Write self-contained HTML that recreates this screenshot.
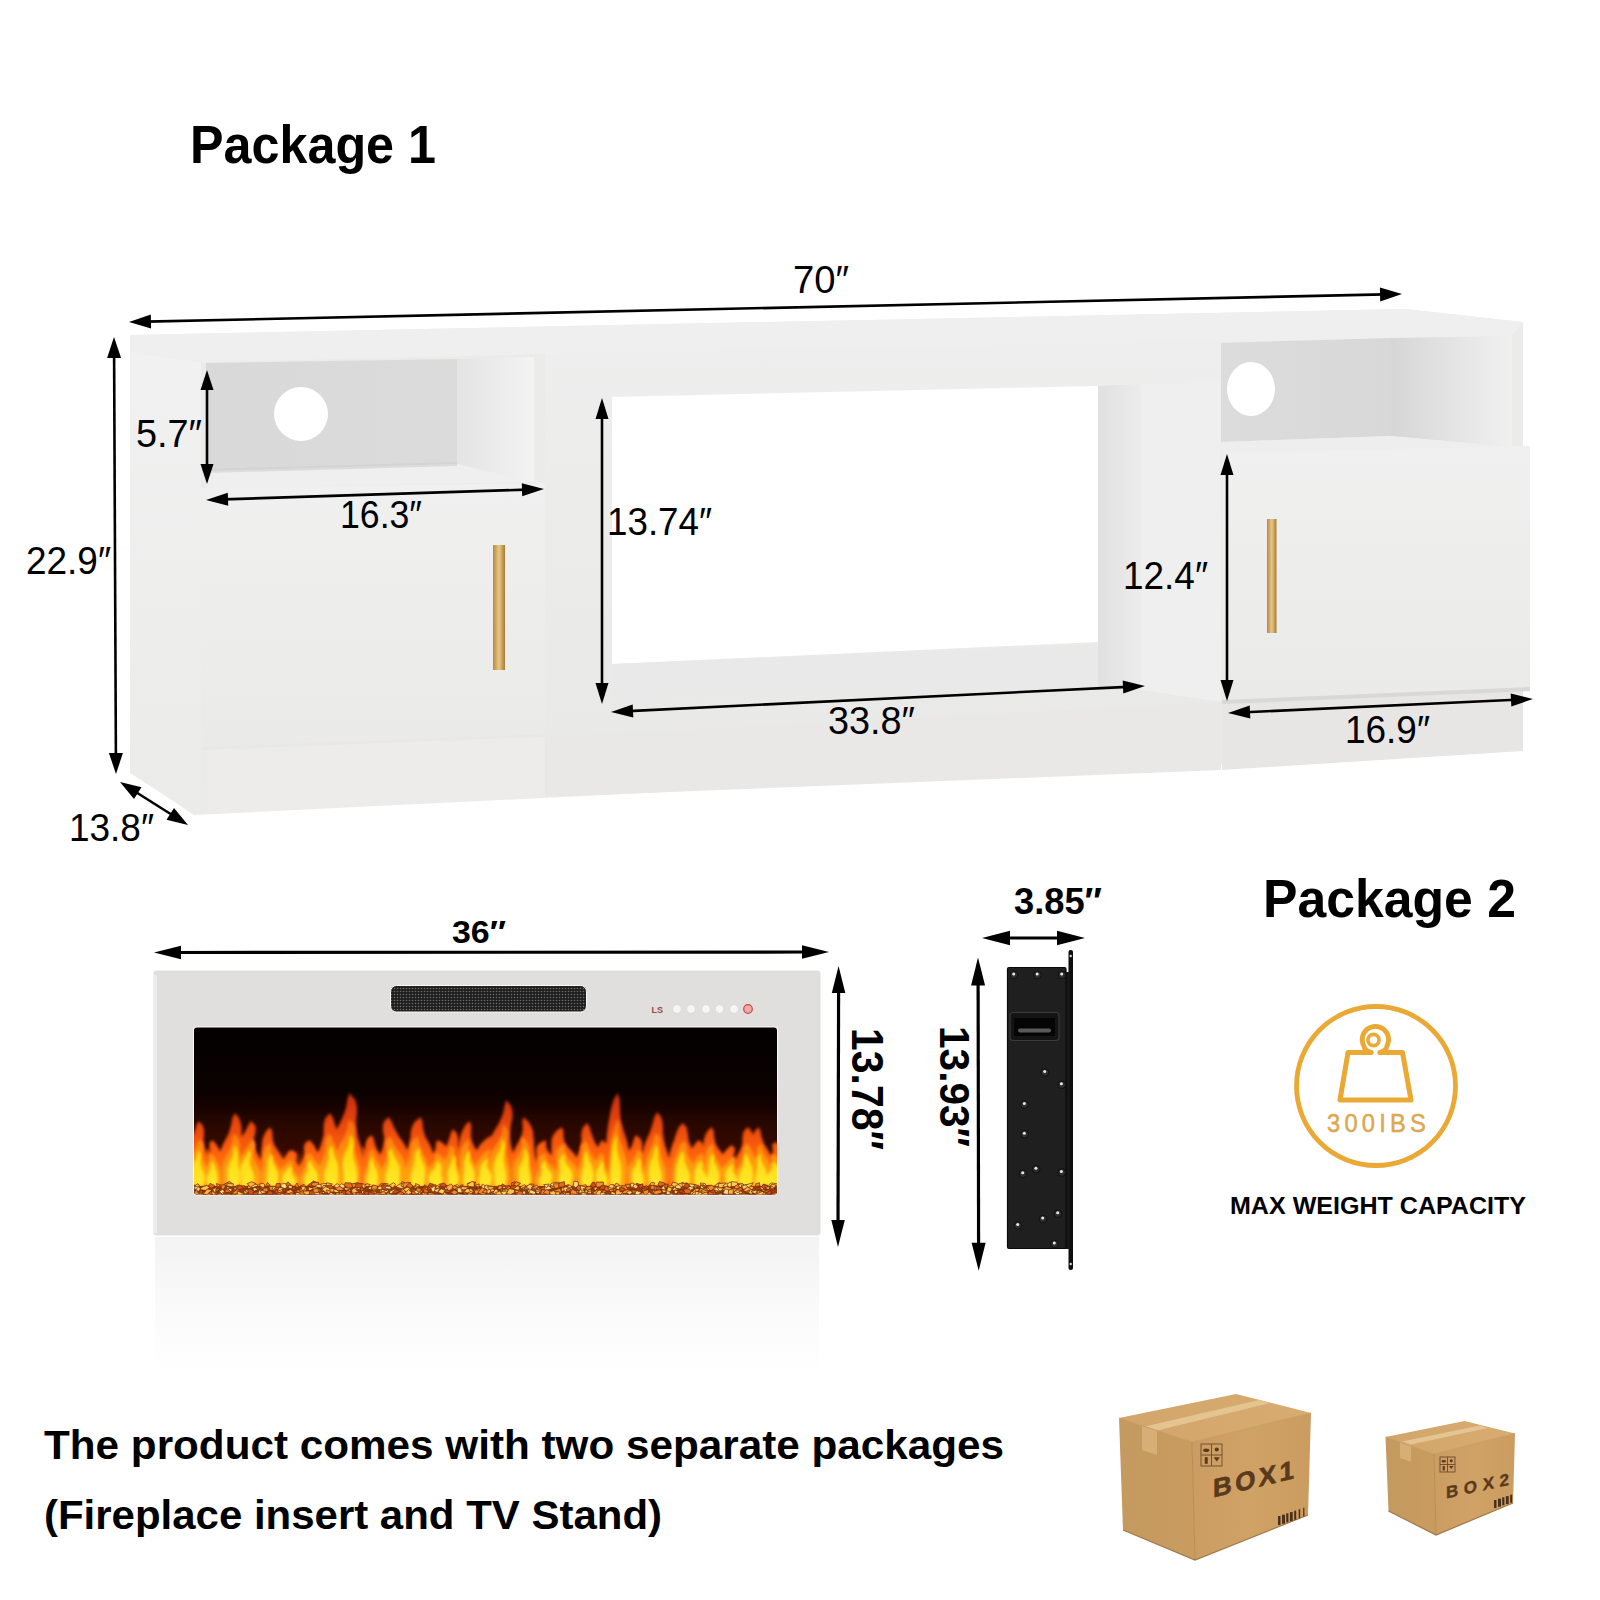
<!DOCTYPE html><html><head><meta charset="utf-8"><style>html,body{margin:0;padding:0;background:#fff;width:1600px;height:1600px;overflow:hidden;}svg{display:block}</style></head><body>
<svg width="1600" height="1600" viewBox="0 0 1600 1600">
<defs>
<linearGradient id="glass" x1="0" y1="0" x2="0" y2="1">
<stop offset="0" stop-color="#020000"/><stop offset="0.4" stop-color="#0c0201"/><stop offset="0.7" stop-color="#260802"/><stop offset="1" stop-color="#3a0e03"/></linearGradient>
<linearGradient id="flameOuter" gradientUnits="userSpaceOnUse" x1="0" y1="1090" x2="0" y2="1186">
<stop offset="0" stop-color="#c02a08"/><stop offset="0.35" stop-color="#e8460a"/><stop offset="0.7" stop-color="#ff6410"/><stop offset="1" stop-color="#ff8414"/></linearGradient>
<linearGradient id="flameMid" gradientUnits="userSpaceOnUse" x1="0" y1="1105" x2="0" y2="1186">
<stop offset="0" stop-color="#f05a08"/><stop offset="0.5" stop-color="#ff8a08"/><stop offset="1" stop-color="#ffaa10"/></linearGradient>
<linearGradient id="baseFill" x1="0" y1="0" x2="0" y2="1"><stop offset="0" stop-color="#e04008" stop-opacity="0"/><stop offset="0.6" stop-color="#f05a0a" stop-opacity="0.8"/><stop offset="1" stop-color="#ff7a12"/></linearGradient>
<linearGradient id="boxTop" x1="0" y1="0" x2="1" y2="0"><stop offset="0" stop-color="#d2a66a"/><stop offset="1" stop-color="#d8ac70"/></linearGradient>
<linearGradient id="boxLeft" x1="0" y1="0" x2="1" y2="0"><stop offset="0" stop-color="#c49a60"/><stop offset="1" stop-color="#c99b5f"/></linearGradient>
<linearGradient id="boxFront" x1="0" y1="0" x2="1" y2="0"><stop offset="0" stop-color="#cc9d62"/><stop offset="0.5" stop-color="#d0a266"/><stop offset="1" stop-color="#cb9c60"/></linearGradient>
<filter id="blurBig" x="-20%" y="-50%" width="140%" height="200%"><feGaussianBlur stdDeviation="14"/></filter>
<linearGradient id="flameG" gradientUnits="userSpaceOnUse" x1="0" y1="1090" x2="0" y2="1190">
<stop offset="0" stop-color="#c42a05"/><stop offset="0.3" stop-color="#ff5a08"/><stop offset="0.6" stop-color="#ffa010"/><stop offset="1" stop-color="#ffd21a"/></linearGradient>
<linearGradient id="flameCore" gradientUnits="userSpaceOnUse" x1="0" y1="1100" x2="0" y2="1190">
<stop offset="0" stop-color="#ffb800"/><stop offset="0.5" stop-color="#ffd800"/><stop offset="1" stop-color="#ffe830"/></linearGradient>
<linearGradient id="gold" x1="0" y1="0" x2="1" y2="0"><stop offset="0" stop-color="#b8893f"/><stop offset="0.5" stop-color="#e8c887"/><stop offset="1" stop-color="#a87a35"/></linearGradient>
<linearGradient id="refl" x1="0" y1="0" x2="0" y2="1"><stop offset="0" stop-color="#f3f3f3"/><stop offset="0.45" stop-color="#f9f9f9"/><stop offset="1" stop-color="#ffffff"/></linearGradient>
<linearGradient id="cubbyL" x1="0" y1="0" x2="1" y2="0"><stop offset="0" stop-color="#d9d9d9"/><stop offset="1" stop-color="#dbdbdb"/></linearGradient>
<linearGradient id="cubbyR" x1="0" y1="0" x2="1" y2="0"><stop offset="0" stop-color="#dcdcdc"/><stop offset="1" stop-color="#d8d8d8"/></linearGradient>
<linearGradient id="sideL" x1="0" y1="0" x2="1" y2="0"><stop offset="0" stop-color="#e4e4e4"/><stop offset="1" stop-color="#f3f3f3"/></linearGradient>
<linearGradient id="sideRC" x1="0" y1="0" x2="1" y2="0"><stop offset="0" stop-color="#d6d6d6"/><stop offset="0.6" stop-color="#e6e6e6"/><stop offset="1" stop-color="#f0f0f0"/></linearGradient>
<linearGradient id="sideR" x1="0" y1="0" x2="1" y2="0"><stop offset="0" stop-color="#e0e0e0"/><stop offset="1" stop-color="#ececec"/></linearGradient>
<linearGradient id="doorG" x1="0" y1="0" x2="0" y2="1"><stop offset="0" stop-color="#f0f0f0"/><stop offset="1" stop-color="#eaeae8"/></linearGradient>
<linearGradient id="sideP" x1="0" y1="0" x2="0" y2="1"><stop offset="0" stop-color="#f1f1f1"/><stop offset="1" stop-color="#ebebea"/></linearGradient>
<linearGradient id="frameG" x1="0" y1="0" x2="0" y2="1"><stop offset="0" stop-color="#eeeeee"/><stop offset="1" stop-color="#e9e9e7"/></linearGradient>
<filter id="blur1" x="-20%" y="-20%" width="140%" height="140%"><feGaussianBlur stdDeviation="1.8"/></filter>
<filter id="blur2" x="-20%" y="-20%" width="140%" height="140%"><feGaussianBlur stdDeviation="0.7"/></filter>
<pattern id="mesh" width="3" height="3" patternUnits="userSpaceOnUse"><rect width="3" height="3" fill="#1e1e1e"/><circle cx="1.5" cy="1.5" r="0.8" fill="#6a6a6a"/></pattern>

</defs>
<text x="190" y="162.6" font-family="Liberation Sans" font-size="53" font-weight="bold" fill="#000" textLength="246" lengthAdjust="spacingAndGlyphs" >Package 1</text>
<g><polygon points="132,335 1405,309 1523,322 1523,750 194,815 132,773" fill="#ebebea" /><polygon points="130,335 1405,309 1523,322 1512,336 1221,342 548,354 206,362 130,352" fill="#efefef" /><polygon points="130,352 201,362 201,814 194,814 130,773" fill="url(#sideP)" /><polygon points="206,363 457,359 457,464 206,471" fill="url(#cubbyL)" /><polygon points="457,359 534,357 534,482 457,464" fill="url(#sideL)" /><polygon points="206,471 457,464 534,482 206,488" fill="#efefef" /><polygon points="206,469 457,462 457,466 206,473" fill="#cfcfcf" opacity="0.6"/><polygon points="201,488 545,483 545,734 201,747" fill="url(#doorG)" /><polygon points="201,747 545,734 545,737 201,750" fill="#e8e8e8" /><rect x="493" y="545" width="12" height="125" fill="url(#gold)"/><polygon points="207,750 545,737 545,797 207,813" fill="#edecea" /><polygon points="545,354 1221,341 1221,702 545,737" fill="url(#frameG)" /><polygon points="612,397 1098,386 1098,642 612,664" fill="#ffffff" /><polygon points="612,664 1098,645 1098,690 612,700" fill="#e9e9e9" /><polygon points="1098,386 1141,384 1141,690 1098,690" fill="url(#sideR)" /><polygon points="1141,384 1221,382 1221,702 1141,690" fill="#efefef" /><polygon points="545,737 1221,702 1221,770 545,797" fill="#e9e8e6" /><polygon points="1221,343 1391,338 1391,436 1221,442" fill="url(#cubbyR)" /><polygon points="1391,338 1512,336 1512,447 1391,436" fill="url(#sideRC)" /><polygon points="1221,442 1391,436 1512,447 1221,453" fill="#eeeeee" /><polygon points="1222,453 1530,446 1530,689 1222,702" fill="url(#doorG)" /><rect x="1267" y="519" width="9.5" height="114" fill="url(#gold)"/><polygon points="1222,702 1523,689 1523,751 1222,770" fill="#e7e6e4" /><polygon points="1222,700 1530,687 1530,691 1222,704" fill="#d8d8d8" /><ellipse cx="301" cy="414" rx="27" ry="27" fill="#ffffff"/><ellipse cx="1251" cy="389" rx="24" ry="27" fill="#ffffff"/></g>
<line x1="146.6" y1="321.6" x2="1384.4" y2="294.4" stroke="#000" stroke-width="2.6"/><polygon points="129.0,322.0 151.1,328.5 150.8,314.5" fill="#000"/><polygon points="1402.0,294.0 1380.2,301.5 1379.9,287.5" fill="#000"/>
<line x1="114.1" y1="353.8" x2="115.9" y2="757.2" stroke="#000" stroke-width="2.6"/><polygon points="114.0,337.0 107.1,358.0 121.1,358.0" fill="#000"/><polygon points="116.0,774.0 108.9,753.0 122.9,753.0" fill="#000"/>
<line x1="207.0" y1="386.0" x2="207.0" y2="468.0" stroke="#000" stroke-width="2.6"/><polygon points="207.0,370.0 200.5,390.0 213.5,390.0" fill="#000"/><polygon points="207.0,484.0 200.5,464.0 213.5,464.0" fill="#000"/>
<line x1="223.6" y1="499.4" x2="526.4" y2="489.6" stroke="#000" stroke-width="2.6"/><polygon points="206.0,500.0 228.2,505.8 227.8,492.8" fill="#000"/><polygon points="544.0,489.0 522.2,496.2 521.8,483.2" fill="#000"/>
<line x1="602.0" y1="414.8" x2="602.0" y2="687.2" stroke="#000" stroke-width="2.6"/><polygon points="602.0,398.0 595.5,419.0 608.5,419.0" fill="#000"/><polygon points="602.0,704.0 595.5,683.0 608.5,683.0" fill="#000"/>
<line x1="628.6" y1="711.1" x2="1127.4" y2="686.9" stroke="#000" stroke-width="2.6"/><polygon points="611.0,712.0 633.3,717.4 632.7,704.4" fill="#000"/><polygon points="1145.0,686.0 1123.3,693.6 1122.7,680.6" fill="#000"/>
<line x1="1227.0" y1="470.8" x2="1227.0" y2="684.2" stroke="#000" stroke-width="2.6"/><polygon points="1227.0,454.0 1220.5,475.0 1233.5,475.0" fill="#000"/><polygon points="1227.0,701.0 1220.5,680.0 1233.5,680.0" fill="#000"/>
<line x1="1245.6" y1="712.2" x2="1515.4" y2="699.8" stroke="#000" stroke-width="2.6"/><polygon points="1228.0,713.0 1250.3,718.5 1249.7,705.5" fill="#000"/><polygon points="1533.0,699.0 1511.3,706.5 1510.7,693.5" fill="#000"/>
<line x1="134.2" y1="791.0" x2="173.8" y2="816.0" stroke="#000" stroke-width="2.6"/><polygon points="120.0,782.0 134.0,799.1 141.5,787.3" fill="#000"/><polygon points="188.0,825.0 166.5,819.7 174.0,807.9" fill="#000"/>
<text x="793" y="292.5" font-family="Liberation Sans" font-size="38" font-weight="normal" fill="#000" textLength="56" lengthAdjust="spacingAndGlyphs" >70&#8243;</text>
<text x="136" y="446.5" font-family="Liberation Sans" font-size="38" font-weight="normal" fill="#000" textLength="66" lengthAdjust="spacingAndGlyphs" >5.7&#8243;</text>
<text x="26" y="573.5" font-family="Liberation Sans" font-size="38" font-weight="normal" fill="#000" textLength="85" lengthAdjust="spacingAndGlyphs" >22.9&#8243;</text>
<text x="340" y="528" font-family="Liberation Sans" font-size="38" font-weight="normal" fill="#000" textLength="82" lengthAdjust="spacingAndGlyphs" >16.3&#8243;</text>
<text x="607" y="535" font-family="Liberation Sans" font-size="38" font-weight="normal" fill="#000" textLength="105" lengthAdjust="spacingAndGlyphs" >13.74&#8243;</text>
<text x="1123" y="589" font-family="Liberation Sans" font-size="38" font-weight="normal" fill="#000" textLength="85" lengthAdjust="spacingAndGlyphs" >12.4&#8243;</text>
<text x="828" y="734.4" font-family="Liberation Sans" font-size="38" font-weight="normal" fill="#000" textLength="87" lengthAdjust="spacingAndGlyphs" >33.8&#8243;</text>
<text x="1345" y="742.5" font-family="Liberation Sans" font-size="38" font-weight="normal" fill="#000" textLength="85" lengthAdjust="spacingAndGlyphs" >16.9&#8243;</text>
<text x="69" y="841" font-family="Liberation Sans" font-size="38" font-weight="normal" fill="#000" textLength="85" lengthAdjust="spacingAndGlyphs" >13.8&#8243;</text>
<g><rect x="155" y="1237" width="664" height="135" fill="url(#refl)"/><rect x="153.5" y="970.5" width="667" height="265" rx="3" fill="#e0dfdd"/><rect x="154" y="975" width="3" height="258" fill="#ececec"/><rect x="390.5" y="985.5" width="196" height="26.5" rx="6" fill="url(#mesh)" stroke="#f8f8f8" stroke-width="1"/><text x="651.5" y="1012.5" font-family="Liberation Sans" font-size="9" font-weight="bold" fill="#9a4a4a">LS</text><circle cx="677" cy="1009" r="4.3" fill="#f6f6f6" stroke="#d8d8d8" stroke-width="0.8"/><circle cx="691" cy="1009" r="4.3" fill="#f6f6f6" stroke="#d8d8d8" stroke-width="0.8"/><circle cx="706" cy="1009" r="4.3" fill="#f6f6f6" stroke="#d8d8d8" stroke-width="0.8"/><circle cx="719.6" cy="1009" r="4.3" fill="#f6f6f6" stroke="#d8d8d8" stroke-width="0.8"/><circle cx="734" cy="1009" r="4.3" fill="#f6f6f6" stroke="#d8d8d8" stroke-width="0.8"/><circle cx="748" cy="1009" r="4.3" fill="#f0a8a8" stroke="#c84848" stroke-width="1.2"/><rect x="193" y="1026.5" width="585" height="169" rx="4" fill="#fafafa"/><rect x="194" y="1027.5" width="583" height="167" rx="3" fill="url(#glass)"/></g>
<clipPath id="gclip"><rect x="194" y="1027.5" width="583" height="167" rx="3"/></clipPath><g clip-path="url(#gclip)"><rect x="180" y="1115" width="610" height="85" fill="#4a1004" opacity="0.4" filter="url(#blurBig)"/><rect x="190" y="1150" width="590" height="40" fill="url(#baseFill)" filter="url(#blur1)"/><path d="M304.6,1186.0 L304.0,1183.1 L303.7,1180.2 L303.7,1177.2 L304.1,1174.3 L304.6,1171.4 L305.1,1168.5 L305.5,1165.6 L305.8,1162.6 L306.2,1159.7 L306.8,1156.8 L307.4,1153.9 L308.7,1151.0 L310.6,1148.0 L313.7,1145.1 L313.7,1145.1 L314.0,1148.0 L313.3,1151.0 L312.9,1153.9 L313.0,1156.8 L314.0,1159.7 L315.3,1162.6 L316.4,1165.6 L317.2,1168.5 L317.6,1171.4 L317.5,1174.3 L317.1,1177.2 L316.6,1180.2 L316.1,1183.1 L315.6,1186.0Z M468.2,1186.0 L467.4,1183.9 L466.8,1181.8 L466.6,1179.6 L466.7,1177.5 L467.2,1175.4 L467.9,1173.3 L468.6,1171.2 L469.0,1169.0 L469.1,1166.9 L468.9,1164.8 L468.3,1162.7 L468.1,1160.6 L468.6,1158.4 L470.8,1156.3 L470.8,1156.3 L472.2,1158.4 L473.0,1160.6 L474.2,1162.7 L475.7,1164.8 L477.6,1166.9 L479.2,1169.0 L480.3,1171.2 L480.9,1173.3 L481.2,1175.4 L481.1,1177.5 L480.9,1179.6 L480.7,1181.8 L480.4,1183.9 L480.0,1186.0Z M717.9,1186.0 L717.4,1184.1 L717.1,1182.2 L716.8,1180.3 L716.5,1178.4 L716.3,1176.6 L716.4,1174.7 L717.0,1172.8 L718.1,1170.9 L719.5,1169.0 L721.1,1167.1 L722.2,1165.2 L722.8,1163.3 L723.1,1161.4 L723.9,1159.6 L723.9,1159.6 L726.6,1161.4 L727.7,1163.3 L728.0,1165.2 L727.7,1167.1 L727.8,1169.0 L728.0,1170.9 L728.5,1172.8 L729.2,1174.7 L730.0,1176.6 L730.6,1178.4 L730.8,1180.3 L730.7,1182.2 L730.2,1184.1 L729.5,1186.0Z M647.8,1186.0 L647.2,1183.3 L646.7,1180.6 L646.3,1177.9 L646.2,1175.2 L646.5,1172.5 L647.4,1169.8 L648.7,1167.2 L650.3,1164.5 L651.9,1161.8 L653.1,1159.1 L653.4,1156.4 L653.4,1153.7 L653.4,1151.0 L654.7,1148.3 L654.7,1148.3 L657.0,1151.0 L658.3,1153.7 L659.3,1156.4 L659.9,1159.1 L660.4,1161.8 L660.5,1164.5 L660.5,1167.2 L660.4,1169.8 L660.4,1172.5 L660.6,1175.2 L660.7,1177.9 L660.6,1180.6 L660.2,1183.3 L659.6,1186.0Z M423.1,1186.0 L422.6,1184.4 L422.3,1182.8 L422.0,1181.2 L421.7,1179.6 L421.4,1178.0 L421.4,1176.4 L421.6,1174.8 L422.4,1173.2 L423.5,1171.6 L425.0,1170.0 L425.9,1168.5 L426.7,1166.9 L427.0,1165.3 L427.8,1163.7 L427.8,1163.7 L430.5,1165.3 L431.4,1166.9 L431.7,1168.5 L431.5,1170.0 L431.7,1171.6 L432.2,1173.2 L433.0,1174.8 L434.0,1176.4 L434.9,1178.0 L435.7,1179.6 L435.9,1181.2 L435.8,1182.8 L435.2,1184.4 L434.5,1186.0Z M277.7,1186.0 L277.0,1184.3 L276.6,1182.7 L276.5,1181.0 L276.8,1179.3 L277.1,1177.7 L277.4,1176.0 L277.6,1174.3 L277.6,1172.6 L277.6,1171.0 L277.8,1169.3 L277.9,1167.6 L278.7,1166.0 L280.0,1164.3 L282.6,1162.6 L282.6,1162.6 L283.6,1164.3 L283.6,1166.0 L283.9,1167.6 L284.6,1169.3 L286.1,1171.0 L287.8,1172.6 L289.4,1174.3 L290.5,1176.0 L291.1,1177.7 L291.2,1179.3 L291.0,1181.0 L290.5,1182.7 L290.1,1184.3 L289.6,1186.0Z M759.7,1186.0 L759.4,1183.9 L759.2,1181.8 L759.0,1179.7 L758.7,1177.6 L758.5,1175.4 L758.5,1173.3 L758.9,1171.2 L759.7,1169.1 L760.9,1167.0 L762.4,1164.9 L763.6,1162.8 L764.5,1160.7 L765.0,1158.5 L765.8,1156.4 L765.8,1156.4 L767.9,1158.5 L768.5,1160.7 L768.4,1162.8 L768.0,1164.9 L767.8,1167.0 L768.0,1169.1 L768.5,1171.2 L769.2,1173.3 L769.9,1175.4 L770.5,1177.6 L770.7,1179.7 L770.5,1181.8 L770.0,1183.9 L769.4,1186.0Z M198.7,1186.0 L198.1,1184.4 L197.9,1182.9 L197.9,1181.3 L198.1,1179.8 L198.3,1178.2 L198.4,1176.7 L198.5,1175.1 L198.7,1173.6 L199.1,1172.0 L199.9,1170.5 L200.8,1168.9 L202.1,1167.4 L203.8,1165.8 L206.3,1164.3 L206.3,1164.3 L207.2,1165.8 L206.8,1167.4 L206.3,1168.9 L206.2,1170.5 L207.0,1172.0 L208.2,1173.6 L209.6,1175.1 L210.7,1176.7 L211.4,1178.2 L211.6,1179.8 L211.4,1181.3 L210.9,1182.9 L210.4,1184.4 L209.8,1186.0Z M441.6,1186.0 L441.2,1184.3 L440.7,1182.5 L440.2,1180.8 L439.8,1179.1 L439.7,1177.4 L439.9,1175.6 L440.6,1173.9 L441.8,1172.2 L443.2,1170.4 L444.6,1168.7 L445.1,1167.0 L445.2,1165.3 L444.9,1163.5 L445.4,1161.8 L445.4,1161.8 L448.5,1163.5 L450.2,1165.3 L451.1,1167.0 L451.4,1168.7 L451.8,1170.4 L452.1,1172.2 L452.5,1173.9 L453.1,1175.6 L453.8,1177.4 L454.4,1179.1 L454.7,1180.8 L454.7,1182.5 L454.3,1184.3 L453.6,1186.0Z M360.5,1186.0 L360.0,1183.1 L359.4,1180.3 L358.9,1177.4 L358.7,1174.6 L358.8,1171.7 L359.5,1168.9 L360.5,1166.0 L361.7,1163.2 L362.7,1160.3 L363.4,1157.4 L363.1,1154.6 L362.5,1151.7 L361.9,1148.9 L362.6,1146.0 L362.6,1146.0 L365.2,1148.9 L367.0,1151.7 L368.5,1154.6 L369.5,1157.4 L370.5,1160.3 L371.0,1163.2 L371.2,1166.0 L371.4,1168.9 L371.6,1171.7 L371.8,1174.6 L372.0,1177.4 L372.1,1180.3 L371.9,1183.1 L371.3,1186.0Z M267.2,1186.0 L266.6,1184.3 L266.0,1182.7 L265.8,1181.0 L265.9,1179.4 L266.4,1177.7 L267.2,1176.0 L268.1,1174.4 L268.9,1172.7 L269.3,1171.1 L269.3,1169.4 L268.7,1167.7 L268.3,1166.1 L268.5,1164.4 L270.2,1162.8 L270.2,1162.8 L271.4,1164.4 L272.3,1166.1 L273.5,1167.7 L274.8,1169.4 L276.2,1171.1 L277.2,1172.7 L277.7,1174.4 L277.9,1176.0 L277.8,1177.7 L277.7,1179.4 L277.5,1181.0 L277.4,1182.7 L277.2,1184.3 L276.9,1186.0Z M714.3,1186.0 L713.6,1183.5 L712.9,1180.9 L712.5,1178.4 L712.6,1175.9 L713.1,1173.3 L714.0,1170.8 L715.2,1168.3 L716.3,1165.7 L717.1,1163.2 L717.5,1160.7 L717.1,1158.1 L716.7,1155.6 L716.8,1153.1 L718.6,1150.5 L718.6,1150.5 L720.6,1153.1 L721.9,1155.6 L723.3,1158.1 L724.6,1160.7 L726.0,1163.2 L727.0,1165.7 L727.5,1168.3 L727.7,1170.8 L727.7,1173.3 L727.6,1175.9 L727.6,1178.4 L727.5,1180.9 L727.2,1183.5 L726.7,1186.0Z M494.6,1186.0 L494.2,1182.7 L493.9,1179.5 L493.8,1176.2 L493.7,1173.0 L493.6,1169.7 L493.4,1166.5 L493.3,1163.2 L493.5,1160.0 L494.1,1156.7 L495.2,1153.5 L496.2,1150.2 L497.3,1147.0 L498.3,1143.7 L499.6,1140.5 L499.6,1140.5 L501.3,1143.7 L501.5,1147.0 L501.2,1150.2 L501.0,1153.5 L501.4,1156.7 L502.2,1160.0 L503.3,1163.2 L504.5,1166.5 L505.5,1169.7 L506.0,1173.0 L506.1,1176.2 L505.8,1179.5 L505.3,1182.7 L504.7,1186.0Z M654.4,1186.0 L653.8,1183.0 L653.2,1180.0 L652.9,1177.1 L653.0,1174.1 L653.6,1171.1 L654.6,1168.1 L655.7,1165.2 L656.7,1162.2 L657.4,1159.2 L657.6,1156.2 L657.3,1153.2 L657.0,1150.3 L657.3,1147.3 L659.1,1144.3 L659.1,1144.3 L660.4,1147.3 L661.3,1150.3 L662.4,1153.2 L663.5,1156.2 L664.7,1159.2 L665.5,1162.2 L665.9,1165.2 L665.9,1168.1 L665.7,1171.1 L665.6,1174.1 L665.4,1177.1 L665.3,1180.0 L665.1,1183.0 L664.7,1186.0Z M379.7,1186.0 L379.4,1183.6 L379.1,1181.3 L379.0,1178.9 L378.8,1176.6 L378.7,1174.2 L378.8,1171.8 L379.2,1169.5 L380.1,1167.1 L381.5,1164.8 L383.2,1162.4 L384.6,1160.0 L385.8,1157.7 L386.6,1155.3 L387.9,1153.0 L387.9,1153.0 L389.9,1155.3 L390.2,1157.7 L389.9,1160.0 L389.2,1162.4 L389.1,1164.8 L389.3,1167.1 L389.8,1169.5 L390.5,1171.8 L391.3,1174.2 L391.8,1176.6 L391.9,1178.9 L391.6,1181.3 L391.1,1183.6 L390.4,1186.0Z M516.3,1186.0 L515.8,1183.2 L515.3,1180.3 L515.0,1177.5 L515.0,1174.6 L515.5,1171.8 L516.4,1168.9 L517.5,1166.1 L518.6,1163.3 L519.5,1160.4 L519.9,1157.6 L519.6,1154.7 L519.2,1151.9 L519.2,1149.1 L520.7,1146.2 L520.7,1146.2 L522.1,1149.1 L523.1,1151.9 L524.3,1154.7 L525.2,1157.6 L526.1,1160.4 L526.6,1163.3 L526.8,1166.1 L526.6,1168.9 L526.5,1171.8 L526.3,1174.6 L526.3,1177.5 L526.2,1180.3 L526.0,1183.2 L525.6,1186.0Z M515.6,1186.0 L514.9,1184.1 L514.3,1182.1 L513.9,1180.2 L514.1,1178.3 L514.7,1176.4 L515.6,1174.4 L516.6,1172.5 L517.4,1170.6 L517.9,1168.6 L518.0,1166.7 L517.5,1164.8 L517.3,1162.9 L517.8,1160.9 L520.1,1159.0 L520.1,1159.0 L521.6,1160.9 L522.5,1162.9 L523.7,1164.8 L525.0,1166.7 L526.7,1168.6 L528.0,1170.6 L528.8,1172.5 L529.2,1174.4 L529.3,1176.4 L529.2,1178.3 L529.0,1180.2 L528.8,1182.1 L528.5,1184.1 L528.0,1186.0Z M483.6,1186.0 L482.9,1183.6 L482.3,1181.3 L481.9,1178.9 L481.9,1176.5 L482.4,1174.1 L483.3,1171.8 L484.4,1169.4 L485.4,1167.0 L486.1,1164.7 L486.4,1162.3 L485.9,1159.9 L485.5,1157.5 L485.4,1155.2 L487.1,1152.8 L487.1,1152.8 L488.9,1155.2 L490.2,1157.5 L491.6,1159.9 L492.8,1162.3 L494.2,1164.7 L495.1,1167.0 L495.6,1169.4 L495.7,1171.8 L495.7,1174.1 L495.7,1176.5 L495.7,1178.9 L495.6,1181.3 L495.4,1183.6 L494.9,1186.0Z M467.6,1186.0 L467.0,1184.4 L466.8,1182.8 L466.9,1181.2 L467.1,1179.6 L467.4,1178.0 L467.7,1176.4 L467.9,1174.8 L468.2,1173.2 L468.9,1171.6 L469.9,1170.0 L471.1,1168.4 L472.7,1166.7 L474.6,1165.1 L477.4,1163.5 L477.4,1163.5 L478.1,1165.1 L477.4,1166.7 L476.7,1168.4 L476.4,1170.0 L477.0,1171.6 L478.0,1173.2 L479.1,1174.8 L480.2,1176.4 L480.8,1178.0 L480.9,1179.6 L480.6,1181.2 L480.1,1182.8 L479.5,1184.4 L478.9,1186.0Z M340.3,1186.0 L339.8,1183.7 L339.5,1181.4 L339.3,1179.1 L339.1,1176.9 L339.0,1174.6 L339.2,1172.3 L339.9,1170.0 L341.0,1167.7 L342.7,1165.4 L344.6,1163.1 L346.0,1160.8 L347.2,1158.6 L348.0,1156.3 L349.4,1154.0 L349.4,1154.0 L351.8,1156.3 L352.4,1158.6 L352.2,1160.8 L351.7,1163.1 L351.6,1165.4 L351.8,1167.7 L352.3,1170.0 L353.0,1172.3 L353.8,1174.6 L354.3,1176.9 L354.5,1179.1 L354.2,1181.4 L353.6,1183.7 L352.8,1186.0Z M262.4,1186.0 L262.1,1183.5 L261.9,1181.0 L261.7,1178.5 L261.5,1176.0 L261.3,1173.5 L261.0,1171.0 L261.0,1168.5 L261.4,1166.0 L262.2,1163.5 L263.4,1161.0 L264.3,1158.5 L265.2,1156.0 L265.8,1153.5 L266.4,1151.1 L266.4,1151.1 L268.3,1153.5 L268.7,1156.0 L268.5,1158.5 L268.1,1161.0 L268.2,1163.5 L268.6,1166.0 L269.3,1168.5 L270.2,1171.0 L271.1,1173.5 L271.7,1176.0 L271.9,1178.5 L271.7,1181.0 L271.2,1183.5 L270.7,1186.0Z M578.1,1186.0 L577.4,1184.1 L576.8,1182.2 L576.6,1180.3 L576.8,1178.5 L577.4,1176.6 L578.0,1174.7 L578.5,1172.8 L578.8,1170.9 L578.9,1169.0 L578.8,1167.1 L578.4,1165.3 L578.6,1163.4 L579.5,1161.5 L582.0,1159.6 L582.0,1159.6 L583.2,1161.5 L583.7,1163.4 L584.6,1165.3 L585.8,1167.1 L587.7,1169.0 L589.4,1170.9 L590.7,1172.8 L591.5,1174.7 L591.9,1176.6 L591.8,1178.5 L591.6,1180.3 L591.3,1182.2 L590.9,1184.1 L590.4,1186.0Z M572.8,1186.0 L572.4,1183.0 L572.0,1179.9 L571.7,1176.9 L571.5,1173.9 L571.5,1170.8 L571.9,1167.8 L572.8,1164.8 L574.3,1161.8 L576.1,1158.7 L578.0,1155.7 L579.2,1152.7 L580.0,1149.6 L580.4,1146.6 L581.6,1143.6 L581.6,1143.6 L584.2,1146.6 L585.1,1149.6 L585.3,1152.7 L585.0,1155.7 L584.8,1158.7 L584.8,1161.8 L584.9,1164.8 L585.3,1167.8 L585.9,1170.8 L586.3,1173.9 L586.5,1176.9 L586.4,1179.9 L585.8,1183.0 L585.1,1186.0Z M743.3,1186.0 L742.7,1183.4 L742.4,1180.9 L742.5,1178.3 L742.9,1175.7 L743.4,1173.1 L744.0,1170.6 L744.4,1168.0 L744.7,1165.4 L745.0,1162.8 L745.6,1160.3 L746.2,1157.7 L747.5,1155.1 L749.4,1152.5 L752.5,1150.0 L752.5,1150.0 L752.6,1152.5 L751.8,1155.1 L751.4,1157.7 L751.5,1160.3 L752.4,1162.8 L753.6,1165.4 L754.7,1168.0 L755.4,1170.6 L755.6,1173.1 L755.5,1175.7 L755.1,1178.3 L754.5,1180.9 L754.1,1183.4 L753.6,1186.0Z M284.4,1186.0 L284.0,1183.5 L283.7,1181.0 L283.3,1178.5 L283.0,1175.9 L282.8,1173.4 L282.9,1170.9 L283.4,1168.4 L284.4,1165.9 L285.7,1163.4 L287.1,1160.8 L288.0,1158.3 L288.4,1155.8 L288.4,1153.3 L288.8,1150.8 L288.8,1150.8 L291.6,1153.3 L292.7,1155.8 L293.2,1158.3 L293.1,1160.8 L293.2,1163.4 L293.3,1165.9 L293.7,1168.4 L294.4,1170.9 L295.1,1173.4 L295.7,1175.9 L296.1,1178.5 L296.0,1181.0 L295.5,1183.5 L294.9,1186.0Z M376.7,1186.0 L376.3,1184.0 L375.8,1182.0 L375.4,1180.0 L375.3,1178.0 L375.5,1176.0 L376.2,1174.0 L377.2,1172.0 L378.4,1170.0 L379.3,1168.0 L379.8,1166.0 L379.5,1164.0 L378.9,1162.0 L378.5,1160.0 L379.1,1158.1 L379.1,1158.1 L380.9,1160.0 L382.3,1162.0 L383.5,1164.0 L384.4,1166.0 L385.1,1168.0 L385.3,1170.0 L385.3,1172.0 L385.1,1174.0 L385.1,1176.0 L385.1,1178.0 L385.3,1180.0 L385.3,1182.0 L385.2,1184.0 L384.8,1186.0Z M201.0,1186.0 L200.6,1183.3 L200.3,1180.6 L200.2,1177.9 L200.0,1175.2 L199.9,1172.5 L199.9,1169.8 L200.1,1167.1 L200.7,1164.4 L201.8,1161.8 L203.3,1159.1 L204.6,1156.4 L205.8,1153.7 L206.7,1151.0 L208.1,1148.3 L208.1,1148.3 L210.1,1151.0 L210.4,1153.7 L210.1,1156.4 L209.6,1159.1 L209.7,1161.8 L210.2,1164.4 L211.0,1167.1 L212.0,1169.8 L212.9,1172.5 L213.4,1175.2 L213.5,1177.9 L213.2,1180.6 L212.6,1183.3 L212.0,1186.0Z M761.0,1186.0 L760.5,1184.1 L760.0,1182.2 L759.5,1180.4 L759.0,1178.5 L758.9,1176.6 L759.1,1174.7 L759.9,1172.9 L761.1,1171.0 L762.5,1169.1 L763.8,1167.2 L764.3,1165.3 L764.2,1163.5 L763.8,1161.6 L764.3,1159.7 L764.3,1159.7 L767.7,1161.6 L769.5,1163.5 L770.6,1165.3 L771.0,1167.2 L771.6,1169.1 L772.0,1171.0 L772.5,1172.9 L773.1,1174.7 L773.8,1176.6 L774.5,1178.5 L774.8,1180.4 L774.8,1182.2 L774.4,1184.1 L773.7,1186.0Z M214.3,1186.0 L213.8,1184.1 L213.3,1182.2 L212.8,1180.3 L212.6,1178.4 L212.7,1176.5 L213.2,1174.6 L214.1,1172.7 L215.2,1170.8 L216.0,1168.9 L216.4,1167.1 L216.0,1165.2 L215.2,1163.3 L214.4,1161.4 L214.8,1159.5 L214.8,1159.5 L217.3,1161.4 L219.1,1163.3 L220.6,1165.2 L221.7,1167.1 L222.6,1168.9 L223.1,1170.8 L223.3,1172.7 L223.5,1174.6 L223.6,1176.5 L223.9,1178.4 L224.1,1180.3 L224.2,1182.2 L224.1,1184.1 L223.6,1186.0Z M720.0,1186.0 L719.5,1184.2 L719.3,1182.4 L719.3,1180.5 L719.4,1178.7 L719.5,1176.9 L719.5,1175.1 L719.3,1173.2 L719.2,1171.4 L719.2,1169.6 L719.6,1167.8 L720.1,1165.9 L721.1,1164.1 L722.3,1162.3 L724.3,1160.5 L724.3,1160.5 L725.2,1162.3 L724.9,1164.1 L724.7,1165.9 L724.8,1167.8 L725.8,1169.6 L727.1,1171.4 L728.5,1173.2 L729.7,1175.1 L730.4,1176.9 L730.6,1178.7 L730.5,1180.5 L730.1,1182.4 L729.7,1184.2 L729.2,1186.0Z" fill="#e2460a" filter="url(#blur1)"/><path d="M188.1,1186.0 L187.3,1181.4 L186.7,1176.7 L186.3,1172.1 L185.8,1167.4 L185.4,1162.8 L185.1,1158.1 L185.4,1153.5 L186.4,1148.9 L188.4,1144.2 L191.0,1139.6 L193.1,1134.9 L195.0,1130.3 L196.3,1125.6 L198.3,1121.0 L198.3,1121.0 L202.9,1125.6 L204.1,1130.3 L204.0,1134.9 L203.4,1139.6 L204.0,1144.2 L205.1,1148.9 L207.0,1153.5 L209.1,1158.1 L211.1,1162.8 L212.4,1167.4 L212.8,1172.1 L212.3,1176.7 L211.2,1181.4 L209.9,1186.0Z M204.2,1186.0 L203.2,1182.7 L202.3,1179.4 L201.6,1176.1 L201.5,1172.9 L202.0,1169.6 L203.1,1166.3 L204.8,1163.0 L206.7,1159.7 L208.4,1156.4 L209.6,1153.1 L209.6,1149.9 L209.4,1146.6 L209.5,1143.3 L212.0,1140.0 L212.0,1140.0 L215.5,1143.3 L217.6,1146.6 L219.4,1149.9 L220.8,1153.1 L222.4,1156.4 L223.5,1159.7 L224.3,1163.0 L224.8,1166.3 L225.1,1169.6 L225.4,1172.9 L225.5,1176.1 L225.3,1179.4 L224.8,1182.7 L223.8,1186.0Z M220.7,1186.0 L219.8,1180.8 L219.0,1175.6 L218.4,1170.4 L218.1,1165.1 L218.3,1159.9 L219.2,1154.7 L220.8,1149.5 L223.1,1144.3 L225.8,1139.1 L228.6,1133.9 L230.2,1128.6 L231.4,1123.4 L232.3,1118.2 L234.9,1113.0 L234.9,1113.0 L239.2,1118.2 L240.8,1123.4 L241.5,1128.6 L241.5,1133.9 L242.0,1139.1 L242.5,1144.3 L243.2,1149.5 L244.0,1154.7 L244.9,1159.9 L245.6,1165.1 L245.9,1170.4 L245.5,1175.6 L244.6,1180.8 L243.3,1186.0Z M236.1,1186.0 L235.2,1181.4 L234.7,1176.7 L234.4,1172.1 L234.1,1167.4 L233.7,1162.8 L233.4,1158.1 L233.6,1153.5 L234.7,1148.9 L236.9,1144.2 L240.1,1139.6 L243.0,1134.9 L245.9,1130.3 L248.1,1125.6 L251.0,1121.0 L251.0,1121.0 L255.3,1125.6 L255.8,1130.3 L254.9,1134.9 L253.7,1139.6 L253.9,1144.2 L255.2,1148.9 L257.2,1153.5 L259.6,1158.1 L261.8,1162.8 L263.1,1167.4 L263.4,1172.1 L262.6,1176.7 L261.3,1181.4 L259.9,1186.0Z M261.8,1186.0 L260.7,1181.8 L260.0,1177.6 L259.8,1173.4 L260.1,1169.1 L260.5,1164.9 L261.0,1160.7 L261.3,1156.5 L261.4,1152.3 L261.6,1148.1 L262.2,1143.9 L262.6,1139.6 L263.9,1135.4 L266.0,1131.2 L270.1,1127.0 L270.1,1127.0 L272.2,1131.2 L272.4,1135.4 L272.8,1139.6 L273.8,1143.9 L276.2,1148.1 L278.9,1152.3 L281.4,1156.5 L283.4,1160.7 L284.5,1164.9 L284.8,1169.1 L284.5,1173.4 L283.9,1177.6 L283.0,1181.8 L282.2,1186.0Z M277.8,1186.0 L276.9,1183.4 L276.2,1180.9 L275.8,1178.3 L275.5,1175.7 L275.3,1173.1 L275.3,1170.6 L275.9,1168.0 L277.2,1165.4 L279.4,1162.9 L282.3,1160.3 L284.6,1157.7 L286.8,1155.1 L288.5,1152.6 L291.5,1150.0 L291.5,1150.0 L296.0,1152.6 L296.9,1155.1 L296.7,1157.7 L296.1,1160.3 L296.8,1162.9 L298.1,1165.4 L300.0,1168.0 L302.1,1170.6 L303.9,1173.1 L305.1,1175.7 L305.4,1178.3 L304.8,1180.9 L303.6,1183.4 L302.2,1186.0Z M299.7,1186.0 L298.3,1182.7 L297.1,1179.4 L296.5,1176.1 L296.7,1172.9 L297.7,1169.6 L299.3,1166.3 L301.1,1163.0 L302.7,1159.7 L303.8,1156.4 L304.4,1153.1 L304.0,1149.9 L303.9,1146.6 L305.0,1143.3 L309.3,1140.0 L309.3,1140.0 L312.5,1143.3 L314.2,1146.6 L316.3,1149.9 L318.5,1153.1 L321.4,1156.4 L323.8,1159.7 L325.5,1163.0 L326.4,1166.3 L326.7,1169.6 L326.7,1172.9 L326.5,1176.1 L326.0,1179.4 L325.3,1182.7 L324.3,1186.0Z M317.2,1186.0 L315.8,1180.8 L314.7,1175.6 L314.1,1170.4 L314.3,1165.1 L315.4,1159.9 L317.2,1154.7 L319.2,1149.5 L321.1,1144.3 L322.6,1139.1 L323.7,1133.9 L323.6,1128.6 L324.0,1123.4 L325.3,1118.2 L330.0,1113.0 L330.0,1113.0 L333.1,1118.2 L334.6,1123.4 L336.4,1128.6 L338.3,1133.9 L340.9,1139.1 L343.0,1144.3 L344.5,1149.5 L345.3,1154.7 L345.5,1159.9 L345.5,1165.1 L345.1,1170.4 L344.6,1175.6 L343.9,1180.8 L342.8,1186.0Z M336.5,1186.0 L335.6,1179.4 L334.9,1172.7 L334.3,1166.1 L333.7,1159.4 L333.1,1152.8 L332.9,1146.1 L333.6,1139.5 L335.4,1132.9 L338.3,1126.2 L341.8,1119.6 L344.4,1112.9 L346.4,1106.3 L347.4,1099.6 L349.3,1093.0 L349.3,1093.0 L355.1,1099.6 L356.9,1106.3 L356.9,1112.9 L356.1,1119.6 L356.2,1126.2 L356.9,1132.9 L358.4,1139.5 L360.5,1146.1 L362.6,1152.8 L364.2,1159.4 L364.7,1166.1 L364.3,1172.7 L363.1,1179.4 L361.5,1186.0Z M361.8,1186.0 L360.6,1182.4 L359.8,1178.7 L359.4,1175.1 L359.7,1171.4 L360.5,1167.8 L361.6,1164.1 L362.8,1160.5 L363.8,1156.9 L364.6,1153.2 L365.3,1149.6 L365.3,1145.9 L365.9,1142.3 L367.4,1138.6 L371.5,1135.0 L371.5,1135.0 L373.6,1138.6 L374.4,1142.3 L375.5,1145.9 L376.9,1149.6 L379.2,1153.2 L381.4,1156.9 L383.1,1160.5 L384.1,1164.1 L384.6,1167.8 L384.6,1171.4 L384.2,1175.1 L383.7,1178.7 L383.1,1182.4 L382.2,1186.0Z M379.9,1186.0 L378.3,1181.1 L377.0,1176.1 L376.4,1171.2 L376.7,1166.3 L377.8,1161.4 L379.7,1156.4 L381.6,1151.5 L383.1,1146.6 L384.0,1141.6 L384.2,1136.7 L383.2,1131.8 L382.8,1126.9 L383.8,1121.9 L388.6,1117.0 L388.6,1117.0 L391.8,1121.9 L393.7,1126.9 L396.3,1131.8 L399.1,1136.7 L402.7,1141.6 L405.6,1146.6 L407.6,1151.5 L408.5,1156.4 L408.7,1161.4 L408.5,1166.3 L408.2,1171.2 L407.8,1176.1 L407.1,1181.1 L406.1,1186.0Z M404.0,1186.0 L402.5,1181.1 L401.5,1176.1 L401.2,1171.2 L401.8,1166.3 L403.2,1161.4 L405.0,1156.4 L406.8,1151.5 L408.4,1146.6 L409.6,1141.6 L410.6,1136.7 L410.8,1131.8 L412.0,1126.9 L414.6,1121.9 L420.7,1117.0 L420.7,1117.0 L422.5,1121.9 L422.8,1126.9 L423.8,1131.8 L425.3,1136.7 L428.1,1141.6 L430.7,1146.6 L432.5,1151.5 L433.5,1156.4 L433.7,1161.4 L433.4,1166.3 L432.7,1171.2 L431.9,1176.1 L431.0,1181.1 L430.0,1186.0Z M422.8,1186.0 L421.9,1182.7 L420.9,1179.4 L420.1,1176.1 L419.5,1172.9 L419.7,1169.6 L420.9,1166.3 L423.3,1163.0 L426.6,1159.7 L430.3,1156.4 L433.7,1153.1 L435.2,1149.9 L435.8,1146.6 L435.8,1143.3 L437.7,1140.0 L437.7,1140.0 L443.2,1143.3 L446.0,1146.6 L447.4,1149.9 L447.6,1153.1 L447.7,1156.4 L447.5,1159.7 L447.4,1163.0 L447.7,1166.3 L448.4,1169.6 L449.2,1172.9 L449.7,1176.1 L449.5,1179.4 L448.6,1182.7 L447.2,1186.0Z M442.3,1186.0 L441.5,1181.9 L441.0,1177.9 L440.5,1173.8 L440.2,1169.7 L440.1,1165.6 L440.3,1161.6 L441.1,1157.5 L442.5,1153.4 L444.4,1149.4 L446.8,1145.3 L448.4,1141.2 L449.8,1137.1 L450.8,1133.1 L452.9,1129.0 L452.9,1129.0 L456.7,1133.1 L457.9,1137.1 L458.1,1141.2 L457.8,1145.3 L458.3,1149.4 L459.1,1153.4 L460.3,1157.5 L461.6,1161.6 L462.9,1165.6 L463.8,1169.7 L464.1,1173.8 L463.7,1177.9 L462.8,1181.9 L461.7,1186.0Z M458.9,1186.0 L457.8,1181.4 L457.2,1176.7 L457.1,1172.1 L457.4,1167.4 L457.7,1162.8 L458.0,1158.1 L458.1,1153.5 L458.3,1148.9 L458.8,1144.2 L459.8,1139.6 L460.8,1134.9 L462.7,1130.3 L465.1,1125.6 L469.3,1121.0 L469.3,1121.0 L471.3,1125.6 L471.1,1130.3 L470.9,1134.9 L471.3,1139.6 L473.2,1144.2 L475.7,1148.9 L478.2,1153.5 L480.3,1158.1 L481.6,1162.8 L482.0,1167.4 L481.7,1172.1 L481.0,1176.7 L480.0,1181.4 L479.1,1186.0Z M473.2,1186.0 L472.0,1182.4 L471.4,1178.7 L471.6,1175.1 L472.2,1171.4 L473.0,1167.8 L473.6,1164.1 L474.1,1160.5 L474.5,1156.9 L475.4,1153.2 L477.2,1149.6 L479.2,1145.9 L482.4,1142.3 L486.5,1138.6 L492.7,1135.0 L492.7,1135.0 L493.7,1138.6 L492.2,1142.3 L490.9,1145.9 L490.6,1149.6 L492.3,1153.2 L494.8,1156.9 L497.5,1160.5 L499.6,1164.1 L500.8,1167.8 L500.9,1171.4 L500.3,1175.1 L499.1,1178.7 L497.9,1182.4 L496.8,1186.0Z M490.0,1186.0 L489.3,1179.9 L488.7,1173.7 L488.2,1167.6 L487.7,1161.4 L487.3,1155.3 L487.5,1149.1 L488.7,1143.0 L491.1,1136.9 L494.4,1130.7 L498.3,1124.6 L501.2,1118.4 L503.4,1112.3 L504.5,1106.1 L506.3,1100.0 L506.3,1100.0 L511.2,1106.1 L512.6,1112.3 L512.3,1118.4 L510.9,1124.6 L510.2,1130.7 L510.0,1136.9 L510.6,1143.0 L511.8,1149.1 L513.3,1155.3 L514.6,1161.4 L515.0,1167.6 L514.6,1173.7 L513.5,1179.9 L512.0,1186.0Z M514.5,1186.0 L513.6,1181.1 L512.8,1176.1 L512.0,1171.2 L511.4,1166.3 L511.2,1161.4 L511.9,1156.4 L513.5,1151.5 L516.0,1146.6 L518.8,1141.6 L521.4,1136.7 L522.5,1131.8 L522.8,1126.9 L522.3,1121.9 L523.4,1117.0 L523.4,1117.0 L528.7,1121.9 L531.5,1126.9 L533.1,1131.8 L533.4,1136.7 L533.9,1141.6 L534.1,1146.6 L534.4,1151.5 L535.1,1156.4 L536.1,1161.4 L537.0,1166.3 L537.6,1171.2 L537.5,1176.1 L536.8,1181.1 L535.5,1186.0Z M533.9,1186.0 L532.5,1182.7 L531.5,1179.4 L531.4,1176.1 L532.1,1172.9 L533.5,1169.6 L535.0,1166.3 L536.2,1163.0 L536.8,1159.7 L536.9,1156.4 L536.7,1153.1 L536.2,1149.9 L536.9,1146.6 L539.5,1143.3 L545.4,1140.0 L545.4,1140.0 L546.2,1143.3 L546.2,1146.6 L547.2,1149.9 L549.3,1153.1 L552.7,1156.4 L555.9,1159.7 L558.2,1163.0 L559.4,1166.3 L559.6,1169.6 L559.1,1172.9 L558.3,1176.1 L557.5,1179.4 L556.8,1182.7 L556.1,1186.0Z M551.7,1186.0 L550.2,1181.8 L549.3,1177.6 L549.2,1173.4 L549.8,1169.1 L550.6,1164.9 L551.4,1160.7 L551.7,1156.5 L551.6,1152.3 L551.4,1148.1 L551.5,1143.9 L551.6,1139.6 L553.1,1135.4 L556.0,1131.2 L561.8,1127.0 L561.8,1127.0 L563.5,1131.2 L563.4,1135.4 L563.9,1139.6 L565.5,1143.9 L568.9,1148.1 L572.7,1152.3 L576.1,1156.5 L578.4,1160.7 L579.6,1164.9 L579.7,1169.1 L579.1,1173.4 L578.2,1177.6 L577.2,1181.8 L576.3,1186.0Z M577.8,1186.0 L576.6,1181.5 L575.6,1177.0 L575.1,1172.5 L575.3,1168.0 L576.2,1163.5 L577.4,1159.0 L578.8,1154.5 L580.0,1150.0 L580.9,1145.5 L581.5,1141.0 L581.3,1136.5 L581.6,1132.0 L582.9,1127.5 L587.1,1123.0 L587.1,1123.0 L589.7,1127.5 L590.9,1132.0 L592.5,1136.5 L594.2,1141.0 L596.8,1145.5 L599.2,1150.0 L600.9,1154.5 L602.0,1159.0 L602.5,1163.5 L602.5,1168.0 L602.3,1172.5 L601.8,1177.0 L601.1,1181.5 L600.2,1186.0Z M592.6,1186.0 L591.7,1182.7 L591.1,1179.4 L590.7,1176.1 L590.4,1172.9 L590.2,1169.6 L590.1,1166.3 L590.4,1163.0 L591.3,1159.7 L592.9,1156.4 L595.1,1153.1 L596.8,1149.9 L598.4,1146.6 L599.7,1143.3 L602.0,1140.0 L602.0,1140.0 L606.1,1143.3 L607.1,1146.6 L607.2,1149.9 L607.0,1153.1 L607.8,1156.4 L609.2,1159.7 L611.1,1163.0 L613.0,1166.3 L614.8,1169.6 L615.8,1172.9 L616.1,1176.1 L615.6,1179.4 L614.6,1182.7 L613.4,1186.0Z M607.0,1186.0 L606.0,1179.4 L605.3,1172.7 L605.1,1166.1 L605.3,1159.4 L605.7,1152.8 L606.1,1146.1 L606.6,1139.5 L607.2,1132.9 L608.0,1126.2 L609.2,1119.6 L610.2,1112.9 L611.7,1106.3 L613.7,1099.6 L617.5,1093.0 L617.5,1093.0 L619.8,1099.6 L620.0,1106.3 L620.2,1112.9 L620.6,1119.6 L622.3,1126.2 L624.4,1132.9 L626.4,1139.5 L628.1,1146.1 L629.2,1152.8 L629.7,1159.4 L629.5,1166.1 L628.8,1172.7 L627.9,1179.4 L627.0,1186.0Z M625.4,1186.0 L624.6,1182.4 L623.9,1178.7 L623.4,1175.1 L623.0,1171.4 L622.7,1167.8 L622.8,1164.1 L623.6,1160.5 L625.1,1156.9 L627.3,1153.2 L629.9,1149.6 L631.7,1145.9 L633.1,1142.3 L634.0,1138.6 L635.9,1135.0 L635.9,1135.0 L640.4,1138.6 L641.9,1142.3 L642.3,1145.9 L642.0,1149.6 L642.4,1153.2 L643.3,1156.9 L644.6,1160.5 L646.2,1164.1 L647.7,1167.8 L648.8,1171.4 L649.2,1175.1 L648.8,1178.7 L647.9,1182.4 L646.6,1186.0Z M644.5,1186.0 L643.6,1180.7 L642.9,1175.4 L642.4,1170.1 L642.1,1164.9 L642.1,1159.6 L642.5,1154.3 L643.5,1149.0 L645.0,1143.7 L647.2,1138.4 L649.7,1133.1 L651.4,1127.9 L653.0,1122.6 L654.3,1117.3 L657.1,1112.0 L657.1,1112.0 L661.3,1117.3 L662.5,1122.6 L662.9,1127.9 L662.8,1133.1 L663.6,1138.4 L664.7,1143.7 L666.2,1149.0 L667.8,1154.3 L669.2,1159.6 L670.0,1164.9 L670.2,1170.1 L669.8,1175.4 L668.7,1180.7 L667.5,1186.0Z M671.1,1186.0 L669.8,1181.5 L669.0,1177.0 L668.6,1172.5 L668.5,1168.0 L668.7,1163.5 L669.1,1159.0 L669.7,1154.5 L670.7,1150.0 L672.1,1145.5 L673.9,1141.0 L675.2,1136.5 L676.8,1132.0 L678.7,1127.5 L682.7,1123.0 L682.7,1123.0 L686.6,1127.5 L687.6,1132.0 L688.1,1136.5 L688.6,1141.0 L690.5,1145.5 L692.9,1150.0 L695.3,1154.5 L697.6,1159.0 L699.2,1163.5 L700.0,1168.0 L700.0,1172.5 L699.3,1177.0 L698.2,1181.5 L696.9,1186.0Z M688.2,1186.0 L687.2,1182.7 L686.5,1179.4 L686.2,1176.1 L686.1,1172.9 L686.0,1169.6 L685.8,1166.3 L685.9,1163.0 L686.3,1159.7 L687.5,1156.4 L689.5,1153.1 L691.2,1149.9 L693.3,1146.6 L695.4,1143.3 L698.8,1140.0 L698.8,1140.0 L702.6,1143.3 L703.1,1146.6 L703.0,1149.9 L702.9,1153.1 L704.3,1156.4 L706.5,1159.7 L709.2,1163.0 L711.8,1166.3 L713.7,1169.6 L714.8,1172.9 L714.9,1176.1 L714.2,1179.4 L713.0,1182.7 L711.8,1186.0Z M701.4,1186.0 L700.2,1181.8 L699.4,1177.6 L699.2,1173.4 L699.5,1169.1 L700.2,1164.9 L701.0,1160.7 L701.7,1156.5 L702.3,1152.3 L702.8,1148.1 L703.6,1143.9 L704.0,1139.6 L705.2,1135.4 L707.3,1131.2 L711.8,1127.0 L711.8,1127.0 L713.8,1131.2 L714.0,1135.4 L714.6,1139.6 L715.7,1143.9 L718.0,1148.1 L720.6,1152.3 L722.8,1156.5 L724.4,1160.7 L725.3,1164.9 L725.4,1169.1 L725.0,1173.4 L724.4,1177.6 L723.5,1181.8 L722.6,1186.0Z M719.1,1186.0 L718.1,1183.1 L717.7,1180.1 L717.6,1177.2 L717.5,1174.3 L717.3,1171.4 L717.0,1168.4 L716.8,1165.5 L717.2,1162.6 L718.5,1159.6 L720.7,1156.7 L723.0,1153.8 L725.6,1150.9 L728.1,1147.9 L731.6,1145.0 L731.6,1145.0 L734.8,1147.9 L734.7,1150.9 L733.9,1153.8 L733.2,1156.7 L734.1,1159.6 L736.0,1162.6 L738.5,1165.5 L741.0,1168.4 L743.0,1171.4 L744.1,1174.3 L744.1,1177.2 L743.3,1180.1 L742.1,1183.1 L740.9,1186.0Z M735.1,1186.0 L733.8,1181.8 L732.6,1177.6 L731.9,1173.4 L732.0,1169.1 L733.0,1164.9 L734.8,1160.7 L737.0,1156.5 L739.3,1152.3 L741.2,1148.1 L742.5,1143.9 L742.5,1139.6 L742.7,1135.4 L743.7,1131.2 L748.0,1127.0 L748.0,1127.0 L751.5,1131.2 L753.4,1135.4 L755.4,1139.6 L757.2,1143.9 L759.6,1148.1 L761.4,1152.3 L762.5,1156.5 L763.1,1160.7 L763.4,1164.9 L763.4,1169.1 L763.2,1173.4 L762.8,1177.6 L762.0,1181.8 L760.9,1186.0Z M751.3,1186.0 L750.1,1181.8 L749.3,1177.6 L749.0,1173.4 L749.3,1169.1 L750.1,1164.9 L751.1,1160.7 L752.0,1156.5 L752.6,1152.3 L752.8,1148.1 L753.0,1143.9 L752.7,1139.6 L753.1,1135.4 L754.6,1131.2 L758.7,1127.0 L758.7,1127.0 L760.5,1131.2 L761.2,1135.4 L762.4,1139.6 L764.0,1143.9 L766.7,1148.1 L769.2,1152.3 L771.2,1156.5 L772.5,1160.7 L773.0,1164.9 L772.9,1169.1 L772.6,1173.4 L772.1,1177.6 L771.5,1181.8 L770.7,1186.0Z M760.7,1186.0 L759.5,1182.9 L758.2,1179.7 L757.2,1176.6 L756.8,1173.4 L757.4,1170.3 L759.2,1167.1 L762.2,1164.0 L765.9,1160.9 L769.5,1157.7 L772.2,1154.6 L772.9,1151.4 L772.6,1148.3 L772.2,1145.1 L774.7,1142.0 L774.7,1142.0 L780.3,1145.1 L783.7,1148.3 L786.2,1151.4 L787.4,1154.6 L788.5,1157.7 L788.8,1160.9 L788.7,1164.0 L788.6,1167.1 L788.8,1170.3 L789.3,1173.4 L789.6,1176.6 L789.5,1179.7 L788.8,1182.9 L787.3,1186.0Z" fill="url(#flameOuter)" filter="url(#blur1)"/><path d="M191.3,1186.0 L190.7,1182.7 L190.3,1179.3 L190.0,1176.0 L189.7,1172.6 L189.3,1169.3 L189.1,1165.9 L189.2,1162.6 L190.0,1159.3 L191.4,1155.9 L193.4,1152.6 L195.1,1149.2 L196.6,1145.9 L197.5,1142.5 L199.0,1139.2 L199.0,1139.2 L202.3,1142.5 L203.1,1145.9 L202.9,1149.2 L202.4,1152.6 L202.6,1155.9 L203.4,1159.3 L204.8,1162.6 L206.3,1165.9 L207.8,1169.3 L208.8,1172.6 L209.1,1176.0 L208.7,1179.3 L207.9,1182.7 L207.0,1186.0Z M205.2,1186.0 L204.5,1183.6 L203.8,1181.3 L203.3,1178.9 L203.2,1176.5 L203.6,1174.2 L204.5,1171.8 L205.7,1169.4 L207.1,1167.1 L208.3,1164.7 L209.2,1162.3 L209.1,1160.0 L208.9,1157.6 L209.0,1155.2 L210.7,1152.9 L210.7,1152.9 L213.3,1155.2 L214.8,1157.6 L216.2,1160.0 L217.3,1162.3 L218.4,1164.7 L219.2,1167.1 L219.7,1169.4 L220.0,1171.8 L220.3,1174.2 L220.4,1176.5 L220.5,1178.9 L220.4,1181.3 L220.0,1183.6 L219.4,1186.0Z M224.4,1186.0 L223.7,1182.2 L223.2,1178.5 L222.7,1174.7 L222.5,1171.0 L222.6,1167.2 L223.2,1163.5 L224.3,1159.7 L226.0,1156.0 L228.1,1152.2 L230.2,1148.5 L231.3,1144.7 L232.2,1140.9 L232.7,1137.2 L234.5,1133.4 L234.5,1133.4 L237.7,1137.2 L239.0,1140.9 L239.5,1144.7 L239.4,1148.5 L239.7,1152.2 L240.0,1156.0 L240.5,1159.7 L241.1,1163.5 L241.8,1167.2 L242.3,1171.0 L242.5,1174.7 L242.2,1178.5 L241.6,1182.2 L240.6,1186.0Z M240.9,1186.0 L240.2,1182.7 L239.9,1179.3 L239.7,1176.0 L239.5,1172.6 L239.1,1169.3 L238.8,1165.9 L238.9,1162.6 L239.7,1159.3 L241.3,1155.9 L243.7,1152.6 L246.0,1149.2 L248.2,1145.9 L249.9,1142.5 L251.9,1139.2 L251.9,1139.2 L255.1,1142.5 L255.3,1145.9 L254.6,1149.2 L253.5,1152.6 L253.6,1155.9 L254.4,1159.3 L255.9,1162.6 L257.7,1165.9 L259.3,1169.3 L260.4,1172.6 L260.6,1176.0 L260.0,1179.3 L259.1,1182.7 L258.0,1186.0Z M263.4,1186.0 L262.6,1183.0 L262.1,1179.9 L262.0,1176.9 L262.2,1173.9 L262.6,1170.8 L262.9,1167.8 L263.0,1164.8 L263.1,1161.7 L263.2,1158.7 L263.5,1155.7 L263.8,1152.6 L264.9,1149.6 L266.5,1146.6 L269.6,1143.5 L269.6,1143.5 L271.0,1146.6 L271.0,1149.6 L271.2,1152.6 L271.9,1155.7 L273.6,1158.7 L275.7,1161.7 L277.6,1164.8 L279.0,1167.8 L279.8,1170.8 L280.0,1173.9 L279.8,1176.9 L279.3,1179.9 L278.7,1183.0 L278.1,1186.0Z M279.5,1186.0 L278.8,1184.1 L278.4,1182.3 L278.1,1180.4 L277.8,1178.6 L277.6,1176.7 L277.6,1174.9 L277.9,1173.0 L278.9,1171.2 L280.5,1169.3 L282.7,1167.5 L284.5,1165.6 L286.2,1163.8 L287.5,1161.9 L289.6,1160.1 L289.6,1160.1 L292.8,1161.9 L293.5,1163.8 L293.2,1165.6 L292.6,1167.5 L293.0,1169.3 L293.9,1171.2 L295.3,1173.0 L296.9,1174.9 L298.3,1176.7 L299.2,1178.6 L299.4,1180.4 L298.9,1182.3 L298.0,1184.1 L297.0,1186.0Z M302.9,1186.0 L301.9,1183.6 L301.1,1181.3 L300.6,1178.9 L300.8,1176.5 L301.6,1174.2 L302.7,1171.8 L304.1,1169.4 L305.2,1167.1 L306.0,1164.7 L306.4,1162.3 L305.9,1160.0 L305.8,1157.6 L306.6,1155.2 L309.8,1152.9 L309.8,1152.9 L312.0,1155.2 L313.2,1157.6 L314.8,1160.0 L316.5,1162.3 L318.7,1164.7 L320.5,1167.1 L321.7,1169.4 L322.3,1171.8 L322.5,1174.2 L322.4,1176.5 L322.2,1178.9 L321.9,1181.3 L321.4,1183.6 L320.7,1186.0Z M320.9,1186.0 L319.9,1182.2 L319.0,1178.5 L318.6,1174.7 L318.8,1171.0 L319.6,1167.2 L320.9,1163.5 L322.4,1159.7 L323.8,1156.0 L324.9,1152.2 L325.5,1148.5 L325.4,1144.7 L325.6,1140.9 L326.5,1137.2 L329.9,1133.4 L329.9,1133.4 L332.1,1137.2 L333.2,1140.9 L334.6,1144.7 L336.0,1148.5 L338.0,1152.2 L339.6,1156.0 L340.6,1159.7 L341.2,1163.5 L341.3,1167.2 L341.2,1171.0 L341.0,1174.7 L340.6,1178.5 L340.1,1182.2 L339.3,1186.0Z M339.7,1186.0 L339.0,1181.2 L338.6,1176.4 L338.2,1171.7 L337.7,1166.9 L337.2,1162.1 L337.0,1157.3 L337.4,1152.5 L338.7,1147.7 L340.9,1143.0 L343.6,1138.2 L345.6,1133.4 L347.2,1128.6 L347.9,1123.8 L349.1,1119.0 L349.1,1119.0 L353.4,1123.8 L354.7,1128.6 L354.6,1133.4 L353.9,1138.2 L353.8,1143.0 L354.2,1147.7 L355.3,1152.5 L356.8,1157.3 L358.4,1162.1 L359.6,1166.9 L360.1,1171.7 L359.7,1176.4 L358.8,1181.2 L357.7,1186.0Z M365.7,1186.0 L364.9,1183.4 L364.2,1180.8 L364.0,1178.1 L364.2,1175.5 L364.8,1172.9 L365.7,1170.3 L366.5,1167.6 L367.2,1165.0 L367.8,1162.4 L368.1,1159.8 L368.1,1157.1 L368.5,1154.5 L369.6,1151.9 L372.6,1149.3 L372.6,1149.3 L374.1,1151.9 L374.6,1154.5 L375.4,1157.1 L376.5,1159.8 L378.3,1162.4 L379.9,1165.0 L381.1,1167.6 L381.9,1170.3 L382.2,1172.9 L382.1,1175.5 L381.9,1178.1 L381.5,1180.8 L381.0,1183.4 L380.4,1186.0Z M383.9,1186.0 L382.7,1182.5 L381.8,1178.9 L381.3,1175.4 L381.5,1171.8 L382.5,1168.3 L383.8,1164.7 L385.3,1161.2 L386.4,1157.6 L386.9,1154.1 L387.0,1150.5 L386.1,1147.0 L385.7,1143.4 L386.4,1139.9 L390.0,1136.3 L390.0,1136.3 L392.2,1139.9 L393.6,1143.4 L395.5,1147.0 L397.7,1150.5 L400.4,1154.1 L402.6,1157.6 L404.0,1161.2 L404.6,1164.7 L404.7,1168.3 L404.5,1171.8 L404.2,1175.4 L403.9,1178.9 L403.5,1182.5 L402.8,1186.0Z M405.9,1186.0 L404.8,1182.5 L404.0,1178.9 L403.8,1175.4 L404.3,1171.8 L405.3,1168.3 L406.7,1164.7 L408.0,1161.2 L409.1,1157.6 L409.9,1154.1 L410.4,1150.5 L410.5,1147.0 L411.3,1143.4 L413.2,1139.9 L417.7,1136.3 L417.7,1136.3 L418.9,1139.9 L419.1,1143.4 L419.9,1147.0 L421.1,1150.5 L423.2,1154.1 L425.1,1157.6 L426.5,1161.2 L427.2,1164.7 L427.3,1168.3 L427.0,1171.8 L426.5,1175.4 L425.9,1178.9 L425.3,1182.5 L424.6,1186.0Z M425.8,1186.0 L425.1,1183.6 L424.4,1181.3 L423.7,1178.9 L423.3,1176.5 L423.4,1174.2 L424.2,1171.8 L426.0,1169.4 L428.5,1167.1 L431.3,1164.7 L433.8,1162.3 L434.9,1160.0 L435.2,1157.6 L435.0,1155.2 L436.2,1152.9 L436.2,1152.9 L440.4,1155.2 L442.6,1157.6 L443.7,1160.0 L443.8,1162.3 L443.8,1164.7 L443.6,1167.1 L443.4,1169.4 L443.6,1171.8 L444.0,1174.2 L444.7,1176.5 L445.1,1178.9 L445.0,1181.3 L444.4,1183.6 L443.3,1186.0Z M443.3,1186.0 L442.7,1183.1 L442.3,1180.1 L442.0,1177.2 L441.8,1174.3 L441.6,1171.3 L441.7,1168.4 L442.3,1165.5 L443.3,1162.5 L444.8,1159.6 L446.5,1156.7 L447.8,1153.8 L448.8,1150.8 L449.5,1147.9 L451.0,1145.0 L451.0,1145.0 L453.8,1147.9 L454.7,1150.8 L454.8,1153.8 L454.5,1156.7 L454.7,1159.6 L455.3,1162.5 L456.1,1165.5 L457.1,1168.4 L458.1,1171.3 L458.7,1174.3 L459.0,1177.2 L458.7,1180.1 L458.0,1183.1 L457.2,1186.0Z M460.0,1186.0 L459.3,1182.7 L458.9,1179.3 L458.8,1176.0 L459.0,1172.6 L459.3,1169.3 L459.5,1165.9 L459.5,1162.6 L459.5,1159.3 L459.8,1155.9 L460.5,1152.6 L461.3,1149.2 L462.8,1145.9 L464.7,1142.5 L467.8,1139.2 L467.8,1139.2 L469.1,1142.5 L468.9,1145.9 L468.6,1149.2 L468.8,1152.6 L470.2,1155.9 L472.0,1159.3 L473.9,1162.6 L475.5,1165.9 L476.5,1169.3 L476.8,1172.6 L476.5,1176.0 L476.0,1179.3 L475.3,1182.7 L474.6,1186.0Z M475.6,1186.0 L474.7,1183.4 L474.4,1180.8 L474.5,1178.1 L475.0,1175.5 L475.6,1172.9 L476.0,1170.3 L476.2,1167.6 L476.4,1165.0 L477.0,1162.4 L478.2,1159.8 L479.7,1157.1 L482.1,1154.5 L485.3,1151.9 L489.9,1149.3 L489.9,1149.3 L490.4,1151.9 L489.2,1154.5 L488.2,1157.1 L487.9,1159.8 L489.1,1162.4 L491.0,1165.0 L493.1,1167.6 L494.7,1170.3 L495.6,1172.9 L495.7,1175.5 L495.2,1178.1 L494.3,1180.8 L493.4,1183.4 L492.6,1186.0Z M491.8,1186.0 L491.3,1181.6 L490.9,1177.2 L490.5,1172.7 L490.1,1168.3 L489.8,1163.9 L489.8,1159.5 L490.7,1155.0 L492.4,1150.6 L494.9,1146.2 L497.9,1141.8 L500.1,1137.3 L501.7,1132.9 L502.4,1128.5 L503.6,1124.1 L503.6,1124.1 L507.3,1128.5 L508.3,1132.9 L508.0,1137.3 L506.9,1141.8 L506.3,1146.2 L506.0,1150.6 L506.4,1155.0 L507.3,1159.5 L508.5,1163.9 L509.4,1168.3 L509.8,1172.7 L509.6,1177.2 L508.7,1181.6 L507.7,1186.0Z M515.4,1186.0 L514.9,1182.5 L514.3,1178.9 L513.6,1175.4 L513.1,1171.8 L513.0,1168.3 L513.5,1164.7 L514.7,1161.2 L516.5,1157.6 L518.7,1154.1 L520.7,1150.5 L521.5,1147.0 L521.6,1143.4 L521.1,1139.9 L521.8,1136.3 L521.8,1136.3 L525.8,1139.9 L527.9,1143.4 L529.1,1147.0 L529.3,1150.5 L529.5,1154.1 L529.6,1157.6 L529.7,1161.2 L530.2,1164.7 L530.9,1168.3 L531.6,1171.8 L532.1,1175.4 L532.0,1178.9 L531.5,1182.5 L530.6,1186.0Z M537.1,1186.0 L536.0,1183.6 L535.3,1181.3 L535.2,1178.9 L535.8,1176.5 L536.9,1174.2 L538.0,1171.8 L538.9,1169.4 L539.3,1167.1 L539.2,1164.7 L538.9,1162.3 L538.4,1160.0 L538.9,1157.6 L540.9,1155.2 L545.3,1152.9 L545.3,1152.9 L545.7,1155.2 L545.6,1157.6 L546.4,1160.0 L548.0,1162.3 L550.5,1164.7 L553.0,1167.1 L554.7,1169.4 L555.6,1171.8 L555.7,1174.2 L555.2,1176.5 L554.6,1178.9 L554.0,1181.3 L553.5,1183.6 L553.0,1186.0Z M556.6,1186.0 L555.6,1183.0 L554.9,1179.9 L554.9,1176.9 L555.3,1173.9 L556.0,1170.8 L556.5,1167.8 L556.7,1164.8 L556.6,1161.7 L556.3,1158.7 L556.3,1155.7 L556.3,1152.6 L557.5,1149.6 L559.8,1146.6 L564.2,1143.5 L564.2,1143.5 L565.2,1146.6 L564.9,1149.6 L565.2,1152.6 L566.4,1155.7 L568.9,1158.7 L571.8,1161.7 L574.3,1164.8 L576.1,1167.8 L576.9,1170.8 L576.9,1173.9 L576.4,1176.9 L575.7,1179.9 L575.0,1183.0 L574.4,1186.0Z M579.2,1186.0 L578.3,1182.8 L577.6,1179.5 L577.2,1176.3 L577.4,1173.0 L578.1,1169.8 L579.0,1166.6 L580.0,1163.3 L580.9,1160.1 L581.4,1156.8 L581.8,1153.6 L581.6,1150.4 L581.8,1147.1 L582.7,1143.9 L585.8,1140.6 L585.8,1140.6 L587.6,1143.9 L588.5,1147.1 L589.6,1150.4 L591.0,1153.6 L592.9,1156.8 L594.7,1160.1 L595.9,1163.3 L596.7,1166.6 L597.0,1169.8 L597.0,1173.0 L596.8,1176.3 L596.4,1179.5 L595.9,1182.8 L595.3,1186.0Z M593.5,1186.0 L592.9,1183.6 L592.5,1181.3 L592.2,1178.9 L592.0,1176.5 L591.8,1174.2 L591.6,1171.8 L591.8,1169.4 L592.5,1167.1 L593.7,1164.7 L595.3,1162.3 L596.6,1160.0 L597.9,1157.6 L598.9,1155.2 L600.6,1152.9 L600.6,1152.9 L603.5,1155.2 L604.2,1157.6 L604.1,1160.0 L603.9,1162.3 L604.4,1164.7 L605.4,1167.1 L606.7,1169.4 L608.2,1171.8 L609.5,1174.2 L610.3,1176.5 L610.5,1178.9 L610.1,1181.3 L609.4,1183.6 L608.5,1186.0Z M610.3,1186.0 L609.5,1181.2 L609.1,1176.4 L609.0,1171.7 L609.1,1166.9 L609.4,1162.1 L609.6,1157.3 L610.0,1152.5 L610.3,1147.7 L610.9,1143.0 L611.7,1138.2 L612.5,1133.4 L613.6,1128.6 L615.2,1123.8 L618.0,1119.0 L618.0,1119.0 L619.6,1123.8 L619.7,1128.6 L619.7,1133.4 L619.9,1138.2 L621.2,1143.0 L622.7,1147.7 L624.2,1152.5 L625.5,1157.3 L626.3,1162.1 L626.6,1166.9 L626.5,1171.7 L626.0,1176.4 L625.3,1181.2 L624.7,1186.0Z M629.8,1186.0 L629.2,1183.4 L628.7,1180.8 L628.4,1178.1 L628.0,1175.5 L627.8,1172.9 L627.8,1170.3 L628.3,1167.6 L629.4,1165.0 L631.1,1162.4 L633.1,1159.8 L634.4,1157.1 L635.5,1154.5 L636.2,1151.9 L637.5,1149.3 L637.5,1149.3 L640.8,1151.9 L641.9,1154.5 L642.1,1157.1 L641.8,1159.8 L642.0,1162.4 L642.5,1165.0 L643.5,1167.6 L644.6,1170.3 L645.8,1172.9 L646.6,1175.5 L646.9,1178.1 L646.7,1180.8 L645.9,1183.4 L645.0,1186.0Z M647.1,1186.0 L646.4,1182.2 L645.9,1178.4 L645.6,1174.6 L645.4,1170.8 L645.4,1167.0 L645.6,1163.2 L646.3,1159.4 L647.4,1155.6 L649.0,1151.7 L650.9,1147.9 L652.2,1144.1 L653.4,1140.3 L654.3,1136.5 L656.3,1132.7 L656.3,1132.7 L659.4,1136.5 L660.2,1140.3 L660.4,1144.1 L660.3,1147.9 L660.8,1151.7 L661.6,1155.6 L662.6,1159.4 L663.8,1163.2 L664.8,1167.0 L665.5,1170.8 L665.7,1174.6 L665.3,1178.4 L664.6,1182.2 L663.6,1186.0Z M674.8,1186.0 L673.9,1182.8 L673.3,1179.5 L673.1,1176.3 L673.0,1173.0 L673.2,1169.8 L673.4,1166.6 L673.8,1163.3 L674.5,1160.1 L675.5,1156.8 L676.8,1153.6 L677.8,1150.4 L679.1,1147.1 L680.5,1143.9 L683.4,1140.6 L683.4,1140.6 L686.2,1143.9 L686.8,1147.1 L687.1,1150.4 L687.4,1153.6 L688.7,1156.8 L690.4,1160.1 L692.2,1163.3 L693.9,1166.6 L695.1,1169.8 L695.7,1173.0 L695.7,1176.3 L695.2,1179.5 L694.3,1182.8 L693.4,1186.0Z M693.0,1186.0 L692.2,1183.6 L691.8,1181.3 L691.6,1178.9 L691.5,1176.5 L691.4,1174.2 L691.2,1171.8 L691.2,1169.4 L691.5,1167.1 L692.3,1164.7 L693.8,1162.3 L695.2,1160.0 L696.8,1157.6 L698.5,1155.2 L701.0,1152.9 L701.0,1152.9 L703.6,1155.2 L703.9,1157.6 L703.6,1160.0 L703.5,1162.3 L704.4,1164.7 L706.0,1167.1 L708.0,1169.4 L709.9,1171.8 L711.4,1174.2 L712.2,1176.5 L712.2,1178.9 L711.7,1181.3 L710.8,1183.6 L709.9,1186.0Z M704.5,1186.0 L703.6,1183.0 L703.0,1179.9 L702.9,1176.9 L703.2,1173.9 L703.7,1170.8 L704.3,1167.8 L704.8,1164.8 L705.1,1161.7 L705.5,1158.7 L705.9,1155.7 L706.2,1152.6 L707.1,1149.6 L708.7,1146.6 L712.1,1143.5 L712.1,1143.5 L713.4,1146.6 L713.5,1149.6 L713.9,1152.6 L714.7,1155.7 L716.4,1158.7 L718.3,1161.7 L720.0,1164.8 L721.2,1167.8 L721.8,1170.8 L721.8,1173.9 L721.5,1176.9 L721.0,1179.9 L720.4,1183.0 L719.8,1186.0Z M723.5,1186.0 L722.9,1183.9 L722.6,1181.8 L722.5,1179.7 L722.5,1177.6 L722.3,1175.5 L722.0,1173.3 L721.8,1171.2 L722.0,1169.1 L722.9,1167.0 L724.6,1164.9 L726.4,1162.8 L728.5,1160.7 L730.4,1158.6 L732.9,1156.5 L732.9,1156.5 L735.2,1158.6 L735.0,1160.7 L734.2,1162.8 L733.6,1164.9 L734.2,1167.0 L735.5,1169.1 L737.4,1171.2 L739.3,1173.3 L740.8,1175.5 L741.6,1177.6 L741.6,1179.7 L741.0,1181.8 L740.2,1183.9 L739.3,1186.0Z M738.2,1186.0 L737.2,1183.0 L736.3,1179.9 L735.8,1176.9 L735.9,1173.9 L736.6,1170.8 L737.9,1167.8 L739.6,1164.8 L741.2,1161.7 L742.6,1158.7 L743.5,1155.7 L743.4,1152.6 L743.4,1149.6 L744.1,1146.6 L747.1,1143.5 L747.1,1143.5 L749.7,1146.6 L751.2,1149.6 L752.7,1152.6 L754.1,1155.7 L755.8,1158.7 L757.2,1161.7 L758.0,1164.8 L758.3,1167.8 L758.5,1170.8 L758.4,1173.9 L758.3,1176.9 L758.0,1179.9 L757.5,1183.0 L756.7,1186.0Z M755.8,1186.0 L755.0,1183.0 L754.4,1179.9 L754.2,1176.9 L754.4,1173.9 L755.1,1170.8 L755.8,1167.8 L756.4,1164.8 L756.8,1161.7 L756.9,1158.7 L757.0,1155.7 L756.7,1152.6 L757.0,1149.6 L758.1,1146.6 L761.2,1143.5 L761.2,1143.5 L762.4,1146.6 L762.8,1149.6 L763.7,1152.6 L764.9,1155.7 L766.9,1158.7 L768.8,1161.7 L770.3,1164.8 L771.2,1167.8 L771.5,1170.8 L771.5,1173.9 L771.2,1176.9 L770.8,1179.9 L770.3,1183.0 L769.8,1186.0Z M763.3,1186.0 L762.4,1183.7 L761.5,1181.5 L760.7,1179.2 L760.4,1176.9 L760.8,1174.7 L762.1,1172.4 L764.4,1170.2 L767.1,1167.9 L769.8,1165.6 L771.8,1163.4 L772.2,1161.1 L771.8,1158.8 L771.3,1156.6 L773.0,1154.3 L773.0,1154.3 L777.2,1156.6 L779.8,1158.8 L781.8,1161.1 L782.8,1163.4 L783.5,1165.6 L783.6,1167.9 L783.4,1170.2 L783.3,1172.4 L783.4,1174.7 L783.8,1176.9 L784.1,1179.2 L784.1,1181.5 L783.5,1183.7 L782.5,1186.0Z" fill="url(#flameMid)" filter="url(#blur1)"/><path d="M193.6,1186.0 L193.2,1183.4 L193.0,1180.9 L192.8,1178.3 L192.6,1175.8 L192.3,1173.2 L192.2,1170.7 L192.3,1168.1 L192.8,1165.6 L193.7,1163.0 L195.0,1160.5 L196.0,1157.9 L197.0,1155.4 L197.6,1152.8 L198.5,1150.2 L198.5,1150.2 L200.6,1152.8 L201.0,1155.4 L200.9,1157.9 L200.5,1160.5 L200.7,1163.0 L201.2,1165.6 L202.0,1168.1 L203.0,1170.7 L203.9,1173.2 L204.5,1175.8 L204.7,1178.3 L204.5,1180.9 L204.0,1183.4 L203.4,1186.0Z M207.9,1186.0 L207.5,1184.2 L207.1,1182.4 L206.8,1180.6 L206.7,1178.8 L206.9,1177.0 L207.5,1175.2 L208.2,1173.3 L209.1,1171.5 L209.9,1169.7 L210.4,1167.9 L210.4,1166.1 L210.3,1164.3 L210.3,1162.5 L211.3,1160.7 L211.3,1160.7 L213.0,1162.5 L214.0,1164.3 L214.8,1166.1 L215.5,1167.9 L216.2,1169.7 L216.7,1171.5 L217.0,1173.3 L217.2,1175.2 L217.4,1177.0 L217.5,1178.8 L217.5,1180.6 L217.5,1182.4 L217.2,1184.2 L216.8,1186.0Z M228.7,1186.0 L228.3,1183.1 L227.9,1180.3 L227.7,1177.4 L227.5,1174.5 L227.6,1171.7 L227.9,1168.8 L228.7,1165.9 L229.7,1163.1 L231.0,1160.2 L232.3,1157.3 L233.0,1154.5 L233.5,1151.6 L233.8,1148.7 L234.9,1145.8 L234.9,1145.8 L236.9,1148.7 L237.7,1151.6 L238.1,1154.5 L238.0,1157.3 L238.2,1160.2 L238.4,1163.1 L238.7,1165.9 L239.1,1168.8 L239.6,1171.7 L239.9,1174.5 L240.0,1177.4 L239.9,1180.3 L239.5,1183.1 L238.9,1186.0Z M241.8,1186.0 L241.4,1183.4 L241.2,1180.9 L241.1,1178.3 L240.9,1175.8 L240.7,1173.2 L240.5,1170.7 L240.6,1168.1 L241.1,1165.6 L242.1,1163.0 L243.6,1160.5 L245.0,1157.9 L246.4,1155.4 L247.5,1152.8 L248.8,1150.2 L248.8,1150.2 L250.7,1152.8 L250.9,1155.4 L250.4,1157.9 L249.7,1160.5 L249.7,1163.0 L250.3,1165.6 L251.2,1168.1 L252.3,1170.7 L253.4,1173.2 L254.0,1175.8 L254.1,1178.3 L253.8,1180.9 L253.2,1183.4 L252.5,1186.0Z M267.7,1186.0 L267.2,1183.7 L266.9,1181.4 L266.9,1179.0 L267.0,1176.7 L267.2,1174.4 L267.5,1172.1 L267.6,1169.8 L267.6,1167.5 L267.7,1165.1 L267.9,1162.8 L268.1,1160.5 L268.8,1158.2 L269.8,1155.9 L271.8,1153.5 L271.8,1153.5 L272.6,1155.9 L272.6,1158.2 L272.7,1160.5 L273.1,1162.8 L274.2,1165.1 L275.5,1167.5 L276.6,1169.8 L277.5,1172.1 L278.0,1174.4 L278.2,1176.7 L278.0,1179.0 L277.7,1181.4 L277.3,1183.7 L276.9,1186.0Z M283.4,1186.0 L282.9,1184.6 L282.7,1183.2 L282.5,1181.8 L282.3,1180.3 L282.2,1178.9 L282.2,1177.5 L282.4,1176.1 L283.0,1174.7 L284.0,1173.3 L285.4,1171.9 L286.5,1170.4 L287.6,1169.0 L288.4,1167.6 L289.7,1166.2 L289.7,1166.2 L291.7,1167.6 L292.1,1169.0 L292.0,1170.4 L291.6,1171.9 L291.8,1173.3 L292.4,1174.7 L293.2,1176.1 L294.2,1177.5 L295.1,1178.9 L295.6,1180.3 L295.8,1181.8 L295.5,1183.2 L294.9,1184.6 L294.3,1186.0Z M305.7,1186.0 L305.0,1184.2 L304.5,1182.4 L304.2,1180.6 L304.3,1178.8 L304.8,1177.0 L305.5,1175.2 L306.4,1173.3 L307.1,1171.5 L307.6,1169.7 L307.8,1167.9 L307.5,1166.1 L307.5,1164.3 L307.9,1162.5 L309.9,1160.7 L309.9,1160.7 L311.3,1162.5 L312.1,1164.3 L313.1,1166.1 L314.1,1167.9 L315.5,1169.7 L316.6,1171.5 L317.4,1173.3 L317.7,1175.2 L317.9,1177.0 L317.8,1178.8 L317.7,1180.6 L317.5,1182.4 L317.2,1184.2 L316.7,1186.0Z M325.8,1186.0 L325.1,1183.1 L324.6,1180.3 L324.3,1177.4 L324.4,1174.5 L324.9,1171.7 L325.7,1168.8 L326.7,1165.9 L327.5,1163.1 L328.2,1160.2 L328.6,1157.3 L328.5,1154.5 L328.6,1151.6 L329.2,1148.7 L331.3,1145.8 L331.3,1145.8 L332.7,1148.7 L333.4,1151.6 L334.3,1154.5 L335.2,1157.3 L336.4,1160.2 L337.4,1163.1 L338.1,1165.9 L338.4,1168.8 L338.5,1171.7 L338.4,1174.5 L338.3,1177.4 L338.1,1180.3 L337.7,1183.1 L337.3,1186.0Z M344.4,1186.0 L344.0,1182.3 L343.7,1178.7 L343.5,1175.0 L343.2,1171.4 L342.8,1167.7 L342.7,1164.1 L343.0,1160.4 L343.8,1156.8 L345.2,1153.1 L346.9,1149.5 L348.2,1145.8 L349.2,1142.2 L349.6,1138.5 L350.4,1134.8 L350.4,1134.8 L353.1,1138.5 L353.9,1142.2 L353.8,1145.8 L353.3,1149.5 L353.2,1153.1 L353.5,1156.8 L354.2,1160.4 L355.1,1164.1 L356.1,1167.7 L356.9,1171.4 L357.2,1175.0 L357.0,1178.7 L356.4,1182.3 L355.7,1186.0Z M367.7,1186.0 L367.2,1184.0 L366.8,1182.0 L366.6,1180.0 L366.8,1178.0 L367.2,1176.0 L367.7,1174.0 L368.2,1172.0 L368.7,1170.0 L369.0,1168.0 L369.2,1166.0 L369.2,1164.0 L369.5,1162.0 L370.2,1160.0 L372.0,1158.0 L372.0,1158.0 L373.0,1160.0 L373.3,1162.0 L373.8,1164.0 L374.5,1166.0 L375.5,1168.0 L376.5,1170.0 L377.3,1172.0 L377.8,1174.0 L378.0,1176.0 L378.0,1178.0 L377.8,1180.0 L377.6,1182.0 L377.3,1184.0 L376.9,1186.0Z M386.9,1186.0 L386.2,1183.3 L385.6,1180.6 L385.3,1177.9 L385.5,1175.2 L386.0,1172.4 L386.9,1169.7 L387.8,1167.0 L388.5,1164.3 L388.9,1161.6 L388.9,1158.9 L388.4,1156.2 L388.1,1153.5 L388.6,1150.8 L390.8,1148.0 L390.8,1148.0 L392.2,1150.8 L393.0,1153.5 L394.2,1156.2 L395.6,1158.9 L397.3,1161.6 L398.6,1164.3 L399.5,1167.0 L399.9,1169.7 L399.9,1172.4 L399.8,1175.2 L399.6,1177.9 L399.4,1180.6 L399.2,1183.3 L398.7,1186.0Z M412.0,1186.0 L411.3,1183.3 L410.8,1180.6 L410.7,1177.9 L411.0,1175.2 L411.6,1172.4 L412.4,1169.7 L413.3,1167.0 L413.9,1164.3 L414.4,1161.6 L414.7,1158.9 L414.8,1156.2 L415.2,1153.5 L416.4,1150.8 L419.2,1148.0 L419.2,1148.0 L420.0,1150.8 L420.1,1153.5 L420.6,1156.2 L421.4,1158.9 L422.7,1161.6 L423.9,1164.3 L424.8,1167.0 L425.3,1169.7 L425.3,1172.4 L425.2,1175.2 L424.8,1177.9 L424.5,1180.6 L424.1,1183.3 L423.6,1186.0Z M430.2,1186.0 L429.8,1184.2 L429.3,1182.4 L428.9,1180.6 L428.6,1178.8 L428.7,1177.0 L429.2,1175.2 L430.3,1173.3 L431.8,1171.5 L433.6,1169.7 L435.1,1167.9 L435.8,1166.1 L436.0,1164.3 L435.8,1162.5 L436.5,1160.7 L436.5,1160.7 L439.2,1162.5 L440.5,1164.3 L441.3,1166.1 L441.4,1167.9 L441.4,1169.7 L441.2,1171.5 L441.2,1173.3 L441.3,1175.2 L441.6,1177.0 L442.0,1178.8 L442.2,1180.6 L442.2,1182.4 L441.8,1184.2 L441.2,1186.0Z M448.7,1186.0 L448.4,1183.8 L448.1,1181.5 L447.9,1179.3 L447.8,1177.0 L447.7,1174.8 L447.8,1172.6 L448.1,1170.3 L448.7,1168.1 L449.7,1165.8 L450.8,1163.6 L451.6,1161.4 L452.2,1159.1 L452.6,1156.9 L453.5,1154.7 L453.5,1154.7 L455.3,1156.9 L455.8,1159.1 L455.9,1161.4 L455.7,1163.6 L455.9,1165.8 L456.2,1168.1 L456.7,1170.3 L457.4,1172.6 L458.0,1174.8 L458.4,1177.0 L458.5,1179.3 L458.4,1181.5 L457.9,1183.8 L457.4,1186.0Z M464.2,1186.0 L463.8,1183.4 L463.5,1180.9 L463.5,1178.3 L463.6,1175.8 L463.8,1173.2 L463.9,1170.7 L463.9,1168.1 L464.0,1165.6 L464.1,1163.0 L464.6,1160.5 L465.1,1157.9 L466.0,1155.4 L467.2,1152.8 L469.2,1150.2 L469.2,1150.2 L470.0,1152.8 L469.8,1155.4 L469.7,1157.9 L469.8,1160.5 L470.6,1163.0 L471.8,1165.6 L473.0,1168.1 L473.9,1170.7 L474.5,1173.2 L474.7,1175.8 L474.6,1178.3 L474.2,1180.9 L473.8,1183.4 L473.3,1186.0Z M479.4,1186.0 L478.8,1184.0 L478.6,1182.0 L478.7,1180.0 L479.0,1178.0 L479.3,1176.0 L479.6,1174.0 L479.7,1172.0 L479.8,1170.0 L480.1,1168.0 L480.9,1166.0 L481.8,1164.0 L483.3,1162.0 L485.3,1160.0 L488.1,1158.0 L488.1,1158.0 L488.5,1160.0 L487.7,1162.0 L487.1,1164.0 L486.9,1166.0 L487.7,1168.0 L488.9,1170.0 L490.2,1172.0 L491.2,1174.0 L491.8,1176.0 L491.9,1178.0 L491.6,1180.0 L491.0,1182.0 L490.5,1184.0 L490.0,1186.0Z M495.0,1186.0 L494.7,1182.6 L494.4,1179.2 L494.2,1175.9 L493.9,1172.5 L493.7,1169.1 L493.7,1165.7 L494.2,1162.3 L495.3,1159.0 L496.9,1155.6 L498.7,1152.2 L500.1,1148.8 L501.1,1145.5 L501.5,1142.1 L502.2,1138.7 L502.2,1138.7 L504.5,1142.1 L505.2,1145.5 L505.0,1148.8 L504.4,1152.2 L504.0,1155.6 L503.8,1159.0 L504.1,1162.3 L504.7,1165.7 L505.4,1169.1 L506.0,1172.5 L506.3,1175.9 L506.1,1179.2 L505.6,1182.6 L504.9,1186.0Z M519.9,1186.0 L519.6,1183.3 L519.2,1180.6 L518.8,1177.9 L518.5,1175.2 L518.4,1172.4 L518.7,1169.7 L519.5,1167.0 L520.6,1164.3 L522.0,1161.6 L523.2,1158.9 L523.7,1156.2 L523.8,1153.5 L523.5,1150.8 L523.9,1148.0 L523.9,1148.0 L526.4,1150.8 L527.7,1153.5 L528.5,1156.2 L528.6,1158.9 L528.7,1161.6 L528.8,1164.3 L528.9,1167.0 L529.2,1169.7 L529.6,1172.4 L530.0,1175.2 L530.3,1177.9 L530.3,1180.6 L530.0,1183.3 L529.4,1186.0Z M540.5,1186.0 L539.8,1184.2 L539.4,1182.4 L539.3,1180.6 L539.7,1178.8 L540.3,1177.0 L541.1,1175.2 L541.6,1173.3 L541.8,1171.5 L541.8,1169.7 L541.6,1167.9 L541.3,1166.1 L541.6,1164.3 L542.8,1162.5 L545.6,1160.7 L545.6,1160.7 L545.9,1162.5 L545.8,1164.3 L546.3,1166.1 L547.3,1167.9 L548.9,1169.7 L550.4,1171.5 L551.5,1173.3 L552.0,1175.2 L552.1,1177.0 L551.8,1178.8 L551.4,1180.6 L551.1,1182.4 L550.8,1184.2 L550.5,1186.0Z M559.7,1186.0 L559.0,1183.7 L558.6,1181.4 L558.6,1179.0 L558.9,1176.7 L559.3,1174.4 L559.6,1172.1 L559.8,1169.8 L559.7,1167.5 L559.5,1165.1 L559.5,1162.8 L559.6,1160.5 L560.3,1158.2 L561.8,1155.9 L564.5,1153.5 L564.5,1153.5 L565.2,1155.9 L564.9,1158.2 L565.1,1160.5 L565.8,1162.8 L567.4,1165.1 L569.2,1167.5 L570.7,1169.8 L571.8,1172.1 L572.3,1174.4 L572.3,1176.7 L572.0,1179.0 L571.6,1181.4 L571.1,1183.7 L570.7,1186.0Z M582.2,1186.0 L581.7,1183.5 L581.2,1181.0 L581.0,1178.6 L581.1,1176.1 L581.5,1173.6 L582.1,1171.1 L582.8,1168.7 L583.3,1166.2 L583.7,1163.7 L583.9,1161.2 L583.8,1158.8 L583.9,1156.3 L584.5,1153.8 L586.4,1151.3 L586.4,1151.3 L587.6,1153.8 L588.1,1156.3 L588.8,1158.8 L589.6,1161.2 L590.8,1163.7 L591.9,1166.2 L592.7,1168.7 L593.2,1171.1 L593.4,1173.6 L593.4,1176.1 L593.2,1178.6 L593.0,1181.0 L592.7,1183.5 L592.3,1186.0Z M596.9,1186.0 L596.5,1184.2 L596.3,1182.4 L596.1,1180.6 L596.0,1178.8 L595.8,1177.0 L595.8,1175.2 L595.9,1173.3 L596.3,1171.5 L597.1,1169.7 L598.1,1167.9 L599.0,1166.1 L599.8,1164.3 L600.4,1162.5 L601.5,1160.7 L601.5,1160.7 L603.3,1162.5 L603.7,1164.3 L603.7,1166.1 L603.5,1167.9 L603.8,1169.7 L604.4,1171.5 L605.2,1173.3 L606.1,1175.2 L606.9,1177.0 L607.4,1178.8 L607.5,1180.6 L607.3,1182.4 L606.8,1184.2 L606.3,1186.0Z M611.1,1186.0 L610.6,1182.3 L610.4,1178.7 L610.3,1175.0 L610.4,1171.4 L610.5,1167.7 L610.7,1164.1 L610.9,1160.4 L611.2,1156.8 L611.5,1153.1 L612.1,1149.5 L612.5,1145.8 L613.3,1142.2 L614.2,1138.5 L616.0,1134.8 L616.0,1134.8 L617.0,1138.5 L617.0,1142.2 L617.0,1145.8 L617.2,1149.5 L617.9,1153.1 L618.9,1156.8 L619.8,1160.4 L620.6,1164.1 L621.1,1167.7 L621.3,1171.4 L621.2,1175.0 L620.9,1178.7 L620.5,1182.3 L620.1,1186.0Z M633.2,1186.0 L632.8,1184.0 L632.6,1182.0 L632.3,1180.0 L632.1,1178.0 L632.0,1176.0 L632.0,1174.0 L632.3,1172.0 L633.0,1170.0 L634.1,1168.0 L635.3,1166.0 L636.2,1164.0 L636.9,1162.0 L637.2,1160.0 L638.1,1158.0 L638.1,1158.0 L640.2,1160.0 L640.8,1162.0 L640.9,1164.0 L640.7,1166.0 L640.9,1168.0 L641.2,1170.0 L641.8,1172.0 L642.5,1174.0 L643.2,1176.0 L643.7,1178.0 L643.9,1180.0 L643.8,1182.0 L643.3,1184.0 L642.7,1186.0Z M649.9,1186.0 L649.5,1183.1 L649.2,1180.2 L649.0,1177.3 L648.8,1174.4 L648.8,1171.5 L649.0,1168.6 L649.4,1165.7 L650.1,1162.7 L651.1,1159.8 L652.2,1156.9 L653.1,1154.0 L653.8,1151.1 L654.4,1148.2 L655.6,1145.3 L655.6,1145.3 L657.6,1148.2 L658.1,1151.1 L658.2,1154.0 L658.1,1156.9 L658.4,1159.8 L658.9,1162.7 L659.6,1165.7 L660.3,1168.6 L661.0,1171.5 L661.4,1174.4 L661.5,1177.3 L661.3,1180.2 L660.8,1183.1 L660.2,1186.0Z M676.8,1186.0 L676.2,1183.5 L675.9,1181.0 L675.7,1178.6 L675.7,1176.1 L675.8,1173.6 L675.9,1171.1 L676.2,1168.7 L676.6,1166.2 L677.2,1163.7 L678.1,1161.2 L678.7,1158.8 L679.5,1156.3 L680.4,1153.8 L682.3,1151.3 L682.3,1151.3 L684.0,1153.8 L684.4,1156.3 L684.5,1158.8 L684.7,1161.2 L685.5,1163.7 L686.6,1166.2 L687.7,1168.7 L688.7,1171.1 L689.5,1173.6 L689.8,1176.1 L689.8,1178.6 L689.5,1181.0 L689.0,1183.5 L688.4,1186.0Z M695.5,1186.0 L695.0,1184.2 L694.8,1182.4 L694.6,1180.6 L694.6,1178.8 L694.5,1177.0 L694.4,1175.2 L694.4,1173.3 L694.6,1171.5 L695.2,1169.7 L696.1,1167.9 L697.0,1166.1 L698.0,1164.3 L699.1,1162.5 L700.7,1160.7 L700.7,1160.7 L702.3,1162.5 L702.4,1164.3 L702.3,1166.1 L702.1,1167.9 L702.7,1169.7 L703.7,1171.5 L704.9,1173.3 L706.1,1175.2 L707.0,1177.0 L707.5,1178.8 L707.5,1180.6 L707.2,1182.4 L706.6,1184.2 L706.1,1186.0Z M708.3,1186.0 L707.8,1183.7 L707.4,1181.4 L707.4,1179.0 L707.5,1176.7 L707.8,1174.4 L708.2,1172.1 L708.5,1169.8 L708.8,1167.5 L709.0,1165.1 L709.3,1162.8 L709.4,1160.5 L710.0,1158.2 L711.0,1155.9 L713.1,1153.5 L713.1,1153.5 L714.0,1155.9 L714.0,1158.2 L714.2,1160.5 L714.7,1162.8 L715.8,1165.1 L717.0,1167.5 L718.0,1169.8 L718.8,1172.1 L719.1,1174.4 L719.2,1176.7 L719.0,1179.0 L718.7,1181.4 L718.3,1183.7 L717.9,1186.0Z M726.3,1186.0 L725.9,1184.4 L725.7,1182.8 L725.7,1181.2 L725.7,1179.6 L725.5,1177.9 L725.4,1176.3 L725.2,1174.7 L725.4,1173.1 L726.0,1171.5 L727.0,1169.9 L728.1,1168.3 L729.5,1166.7 L730.7,1165.1 L732.3,1163.5 L732.3,1163.5 L733.7,1165.1 L733.6,1166.7 L733.1,1168.3 L732.6,1169.9 L733.0,1171.5 L733.8,1173.1 L735.0,1174.7 L736.2,1176.3 L737.1,1177.9 L737.6,1179.6 L737.6,1181.2 L737.2,1182.8 L736.7,1184.4 L736.1,1186.0Z M740.3,1186.0 L739.7,1183.7 L739.2,1181.4 L738.8,1179.0 L738.9,1176.7 L739.4,1174.4 L740.2,1172.1 L741.2,1169.8 L742.2,1167.5 L743.1,1165.1 L743.6,1162.8 L743.6,1160.5 L743.6,1158.2 L743.9,1155.9 L745.9,1153.5 L745.9,1153.5 L747.5,1155.9 L748.4,1158.2 L749.4,1160.5 L750.2,1162.8 L751.3,1165.1 L752.2,1167.5 L752.7,1169.8 L752.9,1172.1 L753.0,1174.4 L753.0,1176.7 L752.9,1179.0 L752.7,1181.4 L752.4,1183.7 L751.9,1186.0Z M756.4,1186.0 L755.9,1183.7 L755.5,1181.4 L755.4,1179.0 L755.6,1176.7 L755.9,1174.4 L756.4,1172.1 L756.8,1169.8 L757.1,1167.5 L757.1,1165.1 L757.2,1162.8 L757.0,1160.5 L757.2,1158.2 L757.9,1155.9 L759.8,1153.5 L759.8,1153.5 L760.6,1155.9 L760.8,1158.2 L761.4,1160.5 L762.1,1162.8 L763.4,1165.1 L764.6,1167.5 L765.5,1169.8 L766.0,1172.1 L766.2,1174.4 L766.2,1176.7 L766.0,1179.0 L765.8,1181.4 L765.5,1183.7 L765.2,1186.0Z M766.9,1186.0 L766.4,1184.3 L765.8,1182.5 L765.3,1180.8 L765.1,1179.1 L765.3,1177.4 L766.2,1175.6 L767.6,1173.9 L769.3,1172.2 L770.9,1170.4 L772.2,1168.7 L772.4,1167.0 L772.1,1165.3 L771.8,1163.5 L772.8,1161.8 L772.8,1161.8 L775.4,1163.5 L777.1,1165.3 L778.4,1167.0 L779.0,1168.7 L779.5,1170.4 L779.6,1172.2 L779.5,1173.9 L779.4,1175.6 L779.5,1177.4 L779.7,1179.1 L779.9,1180.8 L779.9,1182.5 L779.6,1184.3 L778.9,1186.0Z" fill="url(#flameCore)" filter="url(#blur1)"/><rect x="194" y="1186" width="583" height="9" fill="#9a3c12"/><polygon points="194.6,1184.8 196.2,1188.5 192.1,1188.5" fill="#ffb040" stroke="#6a2408" stroke-width="0.7"/><polygon points="193.6,1190.4 194.4,1186.3 199.1,1188.0" fill="#ffc448" stroke="#6a2408" stroke-width="0.7"/><polygon points="196.0,1194.6 193.9,1191.9 197.2,1190.4 199.4,1192.3" fill="#ffc448" stroke="#6a2408" stroke-width="0.7"/><polygon points="193.3,1189.4 195.0,1187.0 199.7,1187.2 199.1,1189.1 197.2,1190.6" fill="#c8501a" stroke="#6a2408" stroke-width="0.7"/><polygon points="198.7,1184.8 200.9,1190.5 197.0,1191.7 193.7,1186.8" fill="#ffe07a" stroke="#6a2408" stroke-width="0.7"/><polygon points="198.9,1196.2 192.8,1193.5 198.6,1192.6" fill="#ffe07a" stroke="#6a2408" stroke-width="0.7"/><polygon points="194.1,1186.2 198.0,1183.6 200.1,1187.2" fill="#ffc448" stroke="#6a2408" stroke-width="0.7"/><polygon points="201.0,1189.0 198.7,1191.2 195.7,1189.4 198.6,1187.1" fill="#ffe07a" stroke="#6a2408" stroke-width="0.7"/><polygon points="200.0,1191.4 204.7,1195.6 196.3,1195.6" fill="#ffb040" stroke="#6a2408" stroke-width="0.7"/><polygon points="208.7,1189.0 205.0,1190.0 203.5,1188.3 206.1,1186.6" fill="#ffe07a" stroke="#6a2408" stroke-width="0.7"/><polygon points="203.4,1192.8 198.7,1193.5 200.9,1189.2" fill="#c8501a" stroke="#6a2408" stroke-width="0.7"/><polygon points="206.0,1192.4 206.1,1194.4 203.5,1194.8 201.6,1192.9 204.2,1191.8" fill="#e06a1c" stroke="#6a2408" stroke-width="0.7"/><polygon points="203.8,1190.0 201.9,1186.9 206.6,1185.4 208.9,1189.4" fill="#ffc448" stroke="#6a2408" stroke-width="0.7"/><polygon points="199.6,1189.4 201.5,1187.4 206.7,1185.3 209.9,1187.2 206.2,1190.6" fill="#ffc448" stroke="#6a2408" stroke-width="0.7"/><polygon points="208.3,1194.7 205.3,1194.4 204.5,1191.5 206.7,1190.1 210.3,1191.3" fill="#e06a1c" stroke="#6a2408" stroke-width="0.7"/><polygon points="215.1,1188.4 211.3,1190.3 208.5,1186.1 212.1,1186.0" fill="#c8501a" stroke="#6a2408" stroke-width="0.7"/><polygon points="203.2,1194.1 207.0,1189.1 211.5,1189.6 210.3,1195.7" fill="#ffb040" stroke="#6a2408" stroke-width="0.7"/><polygon points="206.1,1195.7 210.4,1191.6 212.5,1197.0" fill="#f28a28" stroke="#6a2408" stroke-width="0.7"/><polygon points="211.8,1188.1 208.1,1186.4 210.1,1183.3 215.0,1185.9" fill="#e06a1c" stroke="#6a2408" stroke-width="0.7"/><polygon points="212.1,1192.3 215.0,1190.3 218.6,1191.3 216.8,1193.6 212.3,1193.9" fill="#c8501a" stroke="#6a2408" stroke-width="0.7"/><polygon points="208.8,1192.8 213.2,1190.0 217.5,1193.6 214.3,1196.3" fill="#e06a1c" stroke="#6a2408" stroke-width="0.7"/><polygon points="212.2,1189.4 216.6,1187.0 218.9,1189.3" fill="#ffd060" stroke="#6a2408" stroke-width="0.7"/><polygon points="218.8,1190.7 214.0,1192.2 212.7,1189.3 215.8,1187.7 217.9,1189.0" fill="#ffd060" stroke="#6a2408" stroke-width="0.7"/><polygon points="213.4,1196.2 211.0,1191.3 216.1,1192.9" fill="#ffb040" stroke="#6a2408" stroke-width="0.7"/><polygon points="217.3,1187.5 216.5,1183.5 220.4,1185.0" fill="#f28a28" stroke="#6a2408" stroke-width="0.7"/><polygon points="217.4,1191.6 215.6,1190.6 216.3,1188.0 220.1,1188.8" fill="#c8501a" stroke="#6a2408" stroke-width="0.7"/><polygon points="218.7,1195.6 217.6,1194.0 220.6,1193.1 221.8,1194.8" fill="#ffe07a" stroke="#6a2408" stroke-width="0.7"/><polygon points="225.9,1184.9 224.2,1188.9 221.4,1189.2 221.2,1184.8" fill="#f28a28" stroke="#6a2408" stroke-width="0.7"/><polygon points="225.7,1192.8 223.6,1195.5 219.3,1191.6 222.6,1189.3" fill="#ffe07a" stroke="#6a2408" stroke-width="0.7"/><polygon points="225.5,1195.5 222.8,1192.3 227.7,1192.3" fill="#ffd060" stroke="#6a2408" stroke-width="0.7"/><polygon points="225.2,1184.0 228.2,1182.4 230.2,1184.0 229.3,1186.1 226.5,1186.2" fill="#ffd060" stroke="#6a2408" stroke-width="0.7"/><polygon points="226.4,1192.5 227.0,1186.3 232.4,1189.4" fill="#ffe07a" stroke="#6a2408" stroke-width="0.7"/><polygon points="225.2,1196.9 223.0,1193.4 226.4,1193.3" fill="#e06a1c" stroke="#6a2408" stroke-width="0.7"/><polygon points="229.6,1181.4 232.7,1184.0 227.6,1186.2 223.8,1184.4" fill="#f28a28" stroke="#6a2408" stroke-width="0.7"/><polygon points="224.7,1192.8 225.4,1189.6 226.9,1189.0 231.9,1189.4 230.5,1192.2" fill="#e06a1c" stroke="#6a2408" stroke-width="0.7"/><polygon points="230.7,1193.8 230.8,1197.4 226.2,1197.6 226.1,1193.8" fill="#f28a28" stroke="#6a2408" stroke-width="0.7"/><polygon points="226.9,1186.0 227.1,1183.7 233.6,1183.9 232.7,1186.7" fill="#ffd060" stroke="#6a2408" stroke-width="0.7"/><polygon points="230.1,1191.2 227.8,1188.6 231.4,1188.4 232.2,1190.7" fill="#ffe07a" stroke="#6a2408" stroke-width="0.7"/><polygon points="231.5,1193.3 235.1,1193.5 233.6,1196.0" fill="#ffb040" stroke="#6a2408" stroke-width="0.7"/><polygon points="236.1,1189.2 234.9,1187.2 240.3,1186.4 240.1,1190.3" fill="#f28a28" stroke="#6a2408" stroke-width="0.7"/><polygon points="234.5,1190.2 233.9,1187.8 237.7,1185.2 238.8,1188.1" fill="#ffd060" stroke="#6a2408" stroke-width="0.7"/><polygon points="235.4,1193.4 236.5,1191.6 240.7,1190.8 241.1,1194.9" fill="#f28a28" stroke="#6a2408" stroke-width="0.7"/><polygon points="236.2,1186.0 238.8,1185.6 241.8,1187.6 239.7,1188.9 235.0,1187.8" fill="#f28a28" stroke="#6a2408" stroke-width="0.7"/><polygon points="231.7,1193.5 238.7,1187.9 239.7,1195.0" fill="#f28a28" stroke="#6a2408" stroke-width="0.7"/><polygon points="240.4,1197.9 236.4,1198.2 235.6,1194.5 239.0,1191.8 242.0,1195.8" fill="#ffb040" stroke="#6a2408" stroke-width="0.7"/><polygon points="240.9,1186.0 244.5,1185.7 245.4,1188.5 241.5,1188.7" fill="#e06a1c" stroke="#6a2408" stroke-width="0.7"/><polygon points="236.3,1188.2 238.8,1184.8 241.7,1185.9 243.6,1187.9 239.6,1189.9" fill="#c8501a" stroke="#6a2408" stroke-width="0.7"/><polygon points="237.7,1196.2 237.1,1190.7 244.8,1194.2" fill="#ffc448" stroke="#6a2408" stroke-width="0.7"/><polygon points="253.2,1187.3 247.9,1188.9 248.0,1185.3" fill="#ffc448" stroke="#6a2408" stroke-width="0.7"/><polygon points="250.8,1188.8 250.8,1191.7 246.2,1191.1 246.3,1189.2" fill="#ffe07a" stroke="#6a2408" stroke-width="0.7"/><polygon points="249.2,1191.4 248.5,1193.3 245.1,1194.0 243.2,1191.4 246.4,1190.0" fill="#ffb040" stroke="#6a2408" stroke-width="0.7"/><polygon points="250.4,1187.4 249.1,1184.8 252.1,1182.9 258.0,1184.9 255.3,1187.6" fill="#ffe07a" stroke="#6a2408" stroke-width="0.7"/><polygon points="250.3,1190.0 255.1,1192.6 251.6,1194.5 246.8,1192.5" fill="#ffc448" stroke="#6a2408" stroke-width="0.7"/><polygon points="244.5,1190.7 247.5,1189.3 251.3,1191.1 247.8,1192.6" fill="#ffd060" stroke="#6a2408" stroke-width="0.7"/><polygon points="251.7,1181.8 256.0,1183.8 250.3,1187.2 247.2,1183.6" fill="#ffb040" stroke="#6a2408" stroke-width="0.7"/><polygon points="252.5,1188.6 255.9,1186.7 256.6,1190.2" fill="#f28a28" stroke="#6a2408" stroke-width="0.7"/><polygon points="253.4,1194.1 249.1,1195.4 247.5,1189.8 250.0,1188.5 255.4,1192.1" fill="#c8501a" stroke="#6a2408" stroke-width="0.7"/><polygon points="258.7,1189.3 253.8,1191.3 252.8,1188.2 256.1,1187.0" fill="#ffd060" stroke="#6a2408" stroke-width="0.7"/><polygon points="264.0,1190.9 261.6,1194.3 255.6,1193.7 260.3,1189.3" fill="#ffe07a" stroke="#6a2408" stroke-width="0.7"/><polygon points="258.9,1191.3 257.4,1194.8 253.4,1194.9 253.0,1192.5" fill="#c8501a" stroke="#6a2408" stroke-width="0.7"/><polygon points="264.5,1189.5 263.1,1190.0 259.0,1187.4 260.6,1186.5 264.3,1185.2" fill="#c8501a" stroke="#6a2408" stroke-width="0.7"/><polygon points="254.5,1186.9 260.6,1187.3 258.4,1190.0" fill="#c8501a" stroke="#6a2408" stroke-width="0.7"/><polygon points="265.9,1192.9 261.9,1193.0 259.9,1190.6 263.3,1189.9" fill="#ffd060" stroke="#6a2408" stroke-width="0.7"/><polygon points="260.5,1186.5 259.1,1184.2 263.1,1183.3 265.0,1185.0 263.9,1187.9" fill="#ffc448" stroke="#6a2408" stroke-width="0.7"/><polygon points="267.5,1192.3 261.8,1193.6 260.4,1191.1 264.8,1189.3" fill="#ffd060" stroke="#6a2408" stroke-width="0.7"/><polygon points="266.7,1188.6 269.9,1189.7 269.4,1192.2 267.0,1193.3 264.8,1190.5" fill="#f28a28" stroke="#6a2408" stroke-width="0.7"/><polygon points="265.7,1186.5 267.5,1182.4 270.2,1185.3" fill="#f28a28" stroke="#6a2408" stroke-width="0.7"/><polygon points="267.6,1187.8 268.2,1191.7 262.6,1190.9 263.4,1188.3" fill="#f28a28" stroke="#6a2408" stroke-width="0.7"/><polygon points="266.1,1193.6 267.3,1191.7 271.5,1193.1 270.6,1194.7" fill="#c8501a" stroke="#6a2408" stroke-width="0.7"/><polygon points="268.7,1186.4 274.7,1186.3 274.5,1190.7 270.1,1190.5" fill="#f28a28" stroke="#6a2408" stroke-width="0.7"/><polygon points="266.8,1194.3 268.1,1190.6 273.0,1191.4 272.6,1195.4" fill="#c8501a" stroke="#6a2408" stroke-width="0.7"/><polygon points="271.2,1197.8 265.5,1197.3 266.9,1194.0 272.4,1194.8" fill="#f28a28" stroke="#6a2408" stroke-width="0.7"/><polygon points="273.4,1186.5 278.3,1187.2 278.9,1190.8 272.0,1189.9" fill="#ffe07a" stroke="#6a2408" stroke-width="0.7"/><polygon points="272.6,1191.3 275.7,1187.1 279.7,1191.5" fill="#e06a1c" stroke="#6a2408" stroke-width="0.7"/><polygon points="278.9,1194.6 274.9,1192.6 275.5,1189.2 280.8,1190.5" fill="#c8501a" stroke="#6a2408" stroke-width="0.7"/><polygon points="276.5,1183.6 280.2,1183.4 280.2,1186.3 278.1,1187.7 275.7,1186.7" fill="#e06a1c" stroke="#6a2408" stroke-width="0.7"/><polygon points="278.8,1193.3 277.0,1189.2 281.5,1189.4 283.2,1191.0" fill="#ffc448" stroke="#6a2408" stroke-width="0.7"/><polygon points="281.0,1192.0 285.2,1193.0 282.8,1196.3 277.5,1196.3 276.4,1193.4" fill="#e06a1c" stroke="#6a2408" stroke-width="0.7"/><polygon points="288.2,1185.4 285.1,1188.6 281.4,1187.6 280.6,1184.3 285.2,1183.3" fill="#ffe07a" stroke="#6a2408" stroke-width="0.7"/><polygon points="282.3,1187.5 283.2,1188.8 280.1,1190.4 277.8,1190.8 278.7,1187.7" fill="#ffc448" stroke="#6a2408" stroke-width="0.7"/><polygon points="281.0,1198.7 280.4,1193.5 286.2,1193.4 285.7,1197.7" fill="#ffb040" stroke="#6a2408" stroke-width="0.7"/><polygon points="287.8,1181.8 291.4,1185.0 289.0,1186.9 285.6,1185.1" fill="#e06a1c" stroke="#6a2408" stroke-width="0.7"/><polygon points="286.5,1190.1 290.4,1188.9 292.5,1191.8 287.0,1193.0" fill="#e06a1c" stroke="#6a2408" stroke-width="0.7"/><polygon points="285.5,1193.0 293.4,1192.5 293.0,1196.7 286.3,1196.1" fill="#f28a28" stroke="#6a2408" stroke-width="0.7"/><polygon points="288.1,1185.4 293.1,1185.9 291.8,1188.4 288.7,1188.1" fill="#ffe07a" stroke="#6a2408" stroke-width="0.7"/><polygon points="290.5,1192.0 289.5,1193.4 286.2,1193.2 285.6,1190.5 288.9,1190.2" fill="#ffc448" stroke="#6a2408" stroke-width="0.7"/><polygon points="290.8,1194.1 289.3,1196.9 284.3,1194.4 286.4,1190.8 290.8,1191.7" fill="#c8501a" stroke="#6a2408" stroke-width="0.7"/><polygon points="292.0,1186.3 296.1,1187.8 293.3,1190.8" fill="#c8501a" stroke="#6a2408" stroke-width="0.7"/><polygon points="286.1,1191.4 290.9,1189.4 294.1,1192.9 287.6,1193.5" fill="#ffb040" stroke="#6a2408" stroke-width="0.7"/><polygon points="295.1,1194.1 295.9,1196.8 289.4,1197.5 289.2,1194.9 290.8,1192.6" fill="#f28a28" stroke="#6a2408" stroke-width="0.7"/><polygon points="299.0,1188.1 294.6,1186.1 297.1,1183.0" fill="#f28a28" stroke="#6a2408" stroke-width="0.7"/><polygon points="297.0,1189.4 298.9,1192.6 293.7,1192.3" fill="#c8501a" stroke="#6a2408" stroke-width="0.7"/><polygon points="303.8,1191.3 297.2,1193.7 296.9,1189.6" fill="#f28a28" stroke="#6a2408" stroke-width="0.7"/><polygon points="300.0,1186.0 304.1,1184.4 306.8,1187.9 301.7,1188.9" fill="#e06a1c" stroke="#6a2408" stroke-width="0.7"/><polygon points="300.0,1189.2 306.4,1187.5 306.0,1191.4 300.4,1193.1" fill="#ffd060" stroke="#6a2408" stroke-width="0.7"/><polygon points="299.8,1198.1 295.4,1195.5 296.0,1192.4 301.0,1192.7 305.0,1195.2" fill="#ffd060" stroke="#6a2408" stroke-width="0.7"/><polygon points="305.6,1186.6 304.5,1189.8 301.9,1190.3 301.2,1186.8" fill="#ffd060" stroke="#6a2408" stroke-width="0.7"/><polygon points="305.5,1190.4 310.5,1190.5 307.8,1195.0 303.8,1194.7" fill="#ffd060" stroke="#6a2408" stroke-width="0.7"/><polygon points="298.4,1192.6 302.6,1190.5 307.9,1192.6 302.9,1196.2" fill="#e06a1c" stroke="#6a2408" stroke-width="0.7"/><polygon points="314.6,1187.1 311.6,1187.7 308.5,1185.4 310.3,1183.9 315.8,1184.7" fill="#e06a1c" stroke="#6a2408" stroke-width="0.7"/><polygon points="314.3,1188.2 310.1,1190.6 308.1,1189.9 308.8,1187.1" fill="#ffc448" stroke="#6a2408" stroke-width="0.7"/><polygon points="310.3,1191.0 311.0,1194.1 306.5,1194.7 304.2,1193.8 303.2,1191.1" fill="#ffb040" stroke="#6a2408" stroke-width="0.7"/><polygon points="314.7,1187.2 307.2,1186.0 313.5,1180.9 317.3,1182.8" fill="#c8501a" stroke="#6a2408" stroke-width="0.7"/><polygon points="315.9,1193.4 312.8,1192.5 311.5,1190.6 313.6,1189.7 316.2,1190.6" fill="#e06a1c" stroke="#6a2408" stroke-width="0.7"/><polygon points="316.5,1190.7 313.8,1195.5 309.2,1194.2 310.0,1190.8" fill="#c8501a" stroke="#6a2408" stroke-width="0.7"/><polygon points="312.6,1182.6 318.4,1182.3 318.7,1185.1 316.6,1186.6 311.1,1185.4" fill="#f28a28" stroke="#6a2408" stroke-width="0.7"/><polygon points="318.3,1190.3 314.0,1189.9 312.5,1187.5 316.3,1186.5 317.9,1188.4" fill="#ffd060" stroke="#6a2408" stroke-width="0.7"/><polygon points="320.0,1195.2 315.4,1194.5 313.1,1192.3 315.6,1189.3 320.5,1189.5" fill="#ffe07a" stroke="#6a2408" stroke-width="0.7"/><polygon points="314.8,1186.6 317.7,1184.2 322.0,1184.6 320.9,1188.0" fill="#ffd060" stroke="#6a2408" stroke-width="0.7"/><polygon points="319.7,1191.7 315.4,1192.9 313.6,1190.8 318.8,1189.4" fill="#ffb040" stroke="#6a2408" stroke-width="0.7"/><polygon points="320.8,1189.7 321.4,1192.8 315.1,1192.7 312.4,1191.0 315.1,1188.1" fill="#f28a28" stroke="#6a2408" stroke-width="0.7"/><polygon points="320.7,1184.1 327.2,1183.4 327.1,1186.2 322.1,1189.1" fill="#ffe07a" stroke="#6a2408" stroke-width="0.7"/><polygon points="325.1,1193.5 320.4,1193.6 322.7,1190.0" fill="#ffc448" stroke="#6a2408" stroke-width="0.7"/><polygon points="318.0,1190.9 323.2,1191.0 321.1,1194.4" fill="#c8501a" stroke="#6a2408" stroke-width="0.7"/><polygon points="327.9,1188.2 322.1,1188.6 325.9,1185.8" fill="#ffc448" stroke="#6a2408" stroke-width="0.7"/><polygon points="327.3,1191.1 321.3,1191.1 323.3,1185.4 328.5,1185.8" fill="#ffb040" stroke="#6a2408" stroke-width="0.7"/><polygon points="321.0,1198.3 319.5,1192.6 327.3,1196.8" fill="#ffd060" stroke="#6a2408" stroke-width="0.7"/><polygon points="332.3,1183.9 330.0,1188.4 325.6,1186.5 326.7,1182.8" fill="#ffc448" stroke="#6a2408" stroke-width="0.7"/><polygon points="331.5,1188.6 328.8,1192.9 326.0,1192.7 322.1,1189.5 325.6,1186.7" fill="#ffc448" stroke="#6a2408" stroke-width="0.7"/><polygon points="331.8,1191.3 328.2,1194.0 326.1,1190.0" fill="#ffb040" stroke="#6a2408" stroke-width="0.7"/><polygon points="326.2,1185.8 330.6,1184.9 334.0,1187.7 330.5,1189.3" fill="#c8501a" stroke="#6a2408" stroke-width="0.7"/><polygon points="330.3,1191.9 329.8,1188.7 334.3,1188.6 336.5,1192.0" fill="#ffb040" stroke="#6a2408" stroke-width="0.7"/><polygon points="332.2,1198.7 326.6,1196.6 330.9,1192.2 335.1,1194.8" fill="#ffd060" stroke="#6a2408" stroke-width="0.7"/><polygon points="337.2,1183.6 340.9,1186.3 338.9,1188.7 335.7,1188.3 334.3,1185.7" fill="#ffd060" stroke="#6a2408" stroke-width="0.7"/><polygon points="333.9,1189.2 337.0,1189.7 339.2,1191.5 337.2,1193.1 333.5,1191.3" fill="#ffd060" stroke="#6a2408" stroke-width="0.7"/><polygon points="334.0,1196.2 337.8,1193.2 339.8,1196.9" fill="#ffe07a" stroke="#6a2408" stroke-width="0.7"/><polygon points="341.4,1190.6 337.0,1190.5 335.6,1188.3 340.2,1186.0 344.2,1189.5" fill="#f28a28" stroke="#6a2408" stroke-width="0.7"/><polygon points="340.4,1193.5 339.3,1191.0 343.5,1191.3" fill="#ffd060" stroke="#6a2408" stroke-width="0.7"/><polygon points="341.7,1195.4 339.6,1196.1 335.7,1195.7 336.1,1192.3 340.7,1193.2" fill="#f28a28" stroke="#6a2408" stroke-width="0.7"/><polygon points="341.5,1183.8 345.7,1185.9 343.3,1188.4 339.2,1186.0" fill="#ffe07a" stroke="#6a2408" stroke-width="0.7"/><polygon points="341.8,1191.6 345.3,1189.9 347.5,1190.4 348.4,1193.7 342.4,1195.0" fill="#c8501a" stroke="#6a2408" stroke-width="0.7"/><polygon points="339.3,1193.3 342.3,1192.9 345.6,1194.8 340.1,1197.5" fill="#ffd060" stroke="#6a2408" stroke-width="0.7"/><polygon points="350.3,1190.3 345.7,1190.6 343.8,1187.8 349.9,1187.7" fill="#ffd060" stroke="#6a2408" stroke-width="0.7"/><polygon points="348.9,1192.2 345.0,1190.7 349.0,1189.3 351.3,1190.1" fill="#ffc448" stroke="#6a2408" stroke-width="0.7"/><polygon points="341.8,1194.5 348.1,1195.6 343.6,1198.5" fill="#ffd060" stroke="#6a2408" stroke-width="0.7"/><polygon points="353.8,1187.2 348.8,1188.3 344.5,1186.3 345.1,1182.8 351.0,1182.9" fill="#e06a1c" stroke="#6a2408" stroke-width="0.7"/><polygon points="345.9,1194.8 345.0,1190.9 351.0,1191.3 349.9,1194.5" fill="#e06a1c" stroke="#6a2408" stroke-width="0.7"/><polygon points="349.0,1195.2 345.4,1192.5 348.0,1189.9 351.5,1193.4" fill="#e06a1c" stroke="#6a2408" stroke-width="0.7"/><polygon points="353.2,1185.8 354.0,1183.3 358.5,1182.9 357.7,1187.2" fill="#ffe07a" stroke="#6a2408" stroke-width="0.7"/><polygon points="352.4,1190.8 353.2,1187.1 357.4,1187.2 356.5,1192.4" fill="#ffc448" stroke="#6a2408" stroke-width="0.7"/><polygon points="354.9,1191.7 357.0,1193.2 355.0,1195.2 352.1,1193.7" fill="#ffd060" stroke="#6a2408" stroke-width="0.7"/><polygon points="355.6,1183.6 357.1,1186.9 353.0,1187.6 351.7,1183.7" fill="#f28a28" stroke="#6a2408" stroke-width="0.7"/><polygon points="358.6,1191.9 352.2,1193.4 351.5,1189.8 354.4,1188.2" fill="#ffb040" stroke="#6a2408" stroke-width="0.7"/><polygon points="355.5,1193.0 361.8,1192.9 358.0,1197.1" fill="#f28a28" stroke="#6a2408" stroke-width="0.7"/><polygon points="356.8,1182.9 362.9,1183.8 361.4,1190.1 354.6,1187.2" fill="#c8501a" stroke="#6a2408" stroke-width="0.7"/><polygon points="356.8,1190.1 357.5,1187.0 361.6,1189.0" fill="#ffb040" stroke="#6a2408" stroke-width="0.7"/><polygon points="365.7,1191.7 362.1,1194.9 361.0,1190.3" fill="#ffb040" stroke="#6a2408" stroke-width="0.7"/><polygon points="364.8,1189.1 362.0,1186.8 362.2,1183.8 367.3,1184.9" fill="#ffc448" stroke="#6a2408" stroke-width="0.7"/><polygon points="361.2,1191.6 360.3,1187.7 364.4,1188.5" fill="#e06a1c" stroke="#6a2408" stroke-width="0.7"/><polygon points="360.9,1192.6 363.5,1194.0 362.5,1196.6 359.1,1194.4" fill="#e06a1c" stroke="#6a2408" stroke-width="0.7"/><polygon points="364.3,1186.0 366.7,1183.7 370.3,1184.5 368.0,1186.7" fill="#ffb040" stroke="#6a2408" stroke-width="0.7"/><polygon points="364.3,1188.0 368.1,1186.9 368.0,1189.7" fill="#c8501a" stroke="#6a2408" stroke-width="0.7"/><polygon points="366.6,1195.3 363.3,1192.3 370.4,1190.5 370.3,1194.4" fill="#c8501a" stroke="#6a2408" stroke-width="0.7"/><polygon points="375.9,1187.6 372.2,1190.0 369.0,1188.3 371.4,1186.1" fill="#c8501a" stroke="#6a2408" stroke-width="0.7"/><polygon points="374.6,1188.7 373.9,1190.1 368.8,1189.8 371.9,1187.2" fill="#ffc448" stroke="#6a2408" stroke-width="0.7"/><polygon points="377.3,1193.6 375.0,1195.4 370.3,1196.0 368.4,1191.6 375.1,1191.1" fill="#f28a28" stroke="#6a2408" stroke-width="0.7"/><polygon points="374.4,1188.4 370.3,1189.5 368.2,1189.6 369.0,1186.5 372.5,1187.1" fill="#ffd060" stroke="#6a2408" stroke-width="0.7"/><polygon points="371.3,1188.6 375.7,1186.7 377.9,1189.2 373.7,1191.0" fill="#ffd060" stroke="#6a2408" stroke-width="0.7"/><polygon points="368.2,1196.0 368.3,1192.1 375.2,1193.1 372.2,1196.5" fill="#c8501a" stroke="#6a2408" stroke-width="0.7"/><polygon points="377.9,1186.3 376.4,1189.4 371.1,1189.1 372.7,1184.8" fill="#f28a28" stroke="#6a2408" stroke-width="0.7"/><polygon points="379.0,1187.1 382.8,1188.7 377.6,1190.6" fill="#ffb040" stroke="#6a2408" stroke-width="0.7"/><polygon points="380.8,1197.5 372.6,1195.0 380.2,1191.8" fill="#ffb040" stroke="#6a2408" stroke-width="0.7"/><polygon points="383.6,1188.2 377.9,1187.5 380.8,1183.8 386.1,1183.5" fill="#f28a28" stroke="#6a2408" stroke-width="0.7"/><polygon points="383.5,1186.4 382.7,1190.5 377.5,1188.9 378.5,1186.2" fill="#ffd060" stroke="#6a2408" stroke-width="0.7"/><polygon points="378.8,1192.5 380.5,1189.9 383.3,1190.1 384.0,1192.7" fill="#ffc448" stroke="#6a2408" stroke-width="0.7"/><polygon points="382.2,1185.4 384.1,1184.0 388.1,1183.7 387.0,1187.0" fill="#ffe07a" stroke="#6a2408" stroke-width="0.7"/><polygon points="383.4,1193.7 381.5,1191.3 383.3,1187.7 388.9,1190.8" fill="#ffc448" stroke="#6a2408" stroke-width="0.7"/><polygon points="382.1,1188.5 388.8,1190.3 386.8,1192.9 380.9,1192.0" fill="#ffe07a" stroke="#6a2408" stroke-width="0.7"/><polygon points="385.9,1186.9 386.6,1190.6 381.7,1188.9" fill="#e06a1c" stroke="#6a2408" stroke-width="0.7"/><polygon points="381.5,1185.1 385.4,1184.7 390.5,1186.4 386.7,1190.6 382.0,1188.8" fill="#c8501a" stroke="#6a2408" stroke-width="0.7"/><polygon points="384.4,1190.6 386.5,1195.2 377.9,1194.3" fill="#f28a28" stroke="#6a2408" stroke-width="0.7"/><polygon points="385.9,1186.1 390.6,1186.5 391.2,1189.3 385.3,1188.6" fill="#ffe07a" stroke="#6a2408" stroke-width="0.7"/><polygon points="392.2,1193.8 389.7,1192.2 392.0,1189.0 394.5,1191.2" fill="#c8501a" stroke="#6a2408" stroke-width="0.7"/><polygon points="388.8,1196.6 386.6,1195.5 387.4,1192.4 391.7,1194.2" fill="#ffc448" stroke="#6a2408" stroke-width="0.7"/><polygon points="393.5,1182.7 395.6,1184.3 392.9,1188.1 389.3,1185.2" fill="#ffc448" stroke="#6a2408" stroke-width="0.7"/><polygon points="395.7,1193.4 391.2,1193.1 388.5,1190.5 395.2,1189.1" fill="#ffc448" stroke="#6a2408" stroke-width="0.7"/><polygon points="389.1,1193.7 390.8,1190.3 396.5,1192.9" fill="#ffe07a" stroke="#6a2408" stroke-width="0.7"/><polygon points="405.9,1186.0 402.3,1188.8 396.0,1187.1 398.3,1184.9 402.1,1183.0" fill="#ffd060" stroke="#6a2408" stroke-width="0.7"/><polygon points="395.3,1189.8 398.9,1190.7 399.0,1192.3 394.3,1193.6 392.5,1192.8" fill="#c8501a" stroke="#6a2408" stroke-width="0.7"/><polygon points="397.6,1197.6 396.0,1195.4 398.7,1192.9 402.7,1196.2 401.3,1198.1" fill="#ffc448" stroke="#6a2408" stroke-width="0.7"/><polygon points="403.5,1187.0 401.0,1186.0 402.1,1181.4 405.3,1183.4" fill="#ffd060" stroke="#6a2408" stroke-width="0.7"/><polygon points="406.5,1189.3 406.9,1190.8 403.7,1192.0 400.4,1190.5 404.1,1187.4" fill="#ffe07a" stroke="#6a2408" stroke-width="0.7"/><polygon points="395.6,1196.1 396.7,1193.6 401.1,1191.3 403.7,1193.1 401.8,1196.2" fill="#e06a1c" stroke="#6a2408" stroke-width="0.7"/><polygon points="408.5,1186.3 403.4,1188.3 402.6,1183.0 410.6,1182.4" fill="#f28a28" stroke="#6a2408" stroke-width="0.7"/><polygon points="403.7,1188.7 410.1,1191.5 407.9,1195.5 400.8,1191.7" fill="#f28a28" stroke="#6a2408" stroke-width="0.7"/><polygon points="407.3,1189.6 410.5,1191.1 409.1,1193.5 404.8,1190.8" fill="#ffc448" stroke="#6a2408" stroke-width="0.7"/><polygon points="404.8,1187.5 407.7,1185.9 407.5,1188.8" fill="#ffc448" stroke="#6a2408" stroke-width="0.7"/><polygon points="410.5,1189.4 406.4,1192.6 403.4,1188.9 408.1,1186.8" fill="#ffc448" stroke="#6a2408" stroke-width="0.7"/><polygon points="408.6,1194.5 405.3,1192.5 408.8,1189.4 411.9,1192.6" fill="#ffc448" stroke="#6a2408" stroke-width="0.7"/><polygon points="409.5,1183.1 412.9,1185.8 411.3,1188.4 406.0,1186.3" fill="#e06a1c" stroke="#6a2408" stroke-width="0.7"/><polygon points="411.4,1190.6 417.1,1189.4 415.4,1193.8" fill="#ffc448" stroke="#6a2408" stroke-width="0.7"/><polygon points="411.4,1193.8 417.1,1193.7 414.6,1197.3" fill="#c8501a" stroke="#6a2408" stroke-width="0.7"/><polygon points="415.0,1185.3 418.3,1185.4 419.7,1187.4 416.5,1188.9 413.6,1187.7" fill="#f28a28" stroke="#6a2408" stroke-width="0.7"/><polygon points="414.5,1191.3 418.3,1188.8 424.0,1189.6 419.7,1194.5" fill="#ffb040" stroke="#6a2408" stroke-width="0.7"/><polygon points="411.8,1191.1 417.5,1192.2 415.1,1194.6 411.7,1194.3" fill="#e06a1c" stroke="#6a2408" stroke-width="0.7"/><polygon points="415.6,1183.5 420.0,1185.5 416.1,1187.4" fill="#ffc448" stroke="#6a2408" stroke-width="0.7"/><polygon points="420.7,1192.3 416.0,1191.3 416.4,1187.9 421.1,1188.5" fill="#f28a28" stroke="#6a2408" stroke-width="0.7"/><polygon points="414.0,1191.2 416.5,1190.1 419.3,1193.0 416.3,1194.0" fill="#ffd060" stroke="#6a2408" stroke-width="0.7"/><polygon points="427.8,1189.9 424.4,1191.1 421.6,1189.7 423.0,1186.9 426.6,1186.3" fill="#ffd060" stroke="#6a2408" stroke-width="0.7"/><polygon points="426.0,1190.6 422.1,1191.4 420.9,1187.5 423.8,1187.0" fill="#e06a1c" stroke="#6a2408" stroke-width="0.7"/><polygon points="421.6,1194.2 423.3,1192.4 428.1,1193.2 427.5,1195.9 425.7,1197.1" fill="#ffb040" stroke="#6a2408" stroke-width="0.7"/><polygon points="426.5,1187.4 422.6,1188.2 424.8,1184.7" fill="#c8501a" stroke="#6a2408" stroke-width="0.7"/><polygon points="424.4,1187.2 426.1,1190.0 420.6,1190.2" fill="#f28a28" stroke="#6a2408" stroke-width="0.7"/><polygon points="429.2,1192.3 424.3,1193.3 422.9,1188.9 426.7,1189.0" fill="#e06a1c" stroke="#6a2408" stroke-width="0.7"/><polygon points="432.2,1187.7 428.5,1185.6 429.8,1183.2 434.2,1184.5" fill="#c8501a" stroke="#6a2408" stroke-width="0.7"/><polygon points="432.0,1189.3 429.8,1189.3 427.9,1187.2 430.5,1185.5" fill="#ffb040" stroke="#6a2408" stroke-width="0.7"/><polygon points="431.2,1197.8 427.8,1197.0 427.2,1193.7 430.0,1194.3 432.6,1196.1" fill="#f28a28" stroke="#6a2408" stroke-width="0.7"/><polygon points="429.1,1187.6 435.7,1184.6 437.5,1187.8 434.4,1189.6" fill="#f28a28" stroke="#6a2408" stroke-width="0.7"/><polygon points="437.6,1190.6 432.6,1192.0 430.7,1188.4 434.3,1186.3 437.1,1188.3" fill="#ffe07a" stroke="#6a2408" stroke-width="0.7"/><polygon points="428.0,1192.2 434.8,1193.6 435.2,1197.9 428.5,1196.2" fill="#f28a28" stroke="#6a2408" stroke-width="0.7"/><polygon points="435.1,1188.5 435.8,1185.6 439.1,1187.0" fill="#ffc448" stroke="#6a2408" stroke-width="0.7"/><polygon points="438.4,1192.2 437.0,1188.6 441.7,1189.1" fill="#ffd060" stroke="#6a2408" stroke-width="0.7"/><polygon points="437.8,1190.7 441.4,1191.0 441.4,1192.6 437.9,1193.4" fill="#c8501a" stroke="#6a2408" stroke-width="0.7"/><polygon points="434.7,1188.4 437.8,1185.5 440.6,1189.0" fill="#ffb040" stroke="#6a2408" stroke-width="0.7"/><polygon points="438.6,1188.1 440.2,1192.2 436.2,1192.2 434.1,1190.3" fill="#ffd060" stroke="#6a2408" stroke-width="0.7"/><polygon points="440.9,1193.3 437.9,1190.9 442.1,1190.3" fill="#ffc448" stroke="#6a2408" stroke-width="0.7"/><polygon points="447.0,1185.7 444.1,1187.1 441.5,1186.7 438.7,1184.4 444.1,1183.0" fill="#c8501a" stroke="#6a2408" stroke-width="0.7"/><polygon points="446.8,1191.0 443.6,1194.2 437.6,1192.3 441.2,1188.7" fill="#ffd060" stroke="#6a2408" stroke-width="0.7"/><polygon points="448.6,1195.3 442.0,1197.1 444.2,1192.0" fill="#ffc448" stroke="#6a2408" stroke-width="0.7"/><polygon points="449.9,1188.3 446.8,1190.3 445.5,1187.5" fill="#ffd060" stroke="#6a2408" stroke-width="0.7"/><polygon points="446.1,1185.9 450.8,1185.4 450.1,1190.5 444.0,1189.4" fill="#ffb040" stroke="#6a2408" stroke-width="0.7"/><polygon points="448.2,1188.6 451.5,1193.4 443.9,1191.7" fill="#c8501a" stroke="#6a2408" stroke-width="0.7"/><polygon points="451.1,1183.9 454.2,1187.6 448.7,1191.0 446.1,1186.8" fill="#ffb040" stroke="#6a2408" stroke-width="0.7"/><polygon points="452.9,1190.3 452.8,1193.6 448.8,1192.7" fill="#e06a1c" stroke="#6a2408" stroke-width="0.7"/><polygon points="453.4,1193.3 453.7,1198.2 449.4,1196.3" fill="#c8501a" stroke="#6a2408" stroke-width="0.7"/><polygon points="460.0,1187.4 459.8,1190.2 453.4,1189.3 453.8,1185.8 457.4,1184.6" fill="#ffd060" stroke="#6a2408" stroke-width="0.7"/><polygon points="454.2,1189.4 451.9,1187.1 454.5,1185.6 458.2,1187.1" fill="#f28a28" stroke="#6a2408" stroke-width="0.7"/><polygon points="454.0,1195.1 451.5,1192.3 453.9,1189.8 458.8,1192.2" fill="#f28a28" stroke="#6a2408" stroke-width="0.7"/><polygon points="462.5,1187.7 460.1,1185.5 463.1,1184.7" fill="#ffb040" stroke="#6a2408" stroke-width="0.7"/><polygon points="460.3,1189.4 463.3,1190.8 462.6,1192.5 459.3,1193.2 457.7,1190.1" fill="#ffd060" stroke="#6a2408" stroke-width="0.7"/><polygon points="457.5,1193.3 463.1,1194.8 463.3,1196.6 459.7,1197.5 457.0,1195.5" fill="#ffe07a" stroke="#6a2408" stroke-width="0.7"/><polygon points="458.2,1187.8 461.4,1186.6 461.9,1189.8 458.2,1190.0" fill="#ffb040" stroke="#6a2408" stroke-width="0.7"/><polygon points="461.7,1188.0 464.1,1191.4 460.5,1192.6 457.4,1192.4 457.2,1187.7" fill="#ffe07a" stroke="#6a2408" stroke-width="0.7"/><polygon points="464.4,1190.3 467.8,1192.2 462.4,1193.7" fill="#c8501a" stroke="#6a2408" stroke-width="0.7"/><polygon points="468.3,1187.2 466.5,1190.8 460.9,1189.3 461.3,1186.3" fill="#ffb040" stroke="#6a2408" stroke-width="0.7"/><polygon points="464.8,1195.0 461.4,1190.6 467.9,1188.8 469.2,1192.3" fill="#e06a1c" stroke="#6a2408" stroke-width="0.7"/><polygon points="465.1,1189.9 468.1,1193.7 463.3,1192.5" fill="#f28a28" stroke="#6a2408" stroke-width="0.7"/><polygon points="472.6,1182.1 475.6,1182.0 474.4,1186.3 470.7,1187.9 467.3,1183.4" fill="#e06a1c" stroke="#6a2408" stroke-width="0.7"/><polygon points="466.9,1188.5 474.6,1190.4 470.8,1193.9 463.9,1191.9" fill="#ffc448" stroke="#6a2408" stroke-width="0.7"/><polygon points="467.2,1196.5 468.6,1192.3 472.9,1194.6 472.0,1198.0" fill="#ffb040" stroke="#6a2408" stroke-width="0.7"/><polygon points="474.2,1187.1 469.3,1186.4 466.8,1184.7 472.0,1181.5 474.4,1182.6" fill="#ffc448" stroke="#6a2408" stroke-width="0.7"/><polygon points="469.5,1188.2 474.3,1190.4 470.0,1191.6" fill="#ffe07a" stroke="#6a2408" stroke-width="0.7"/><polygon points="473.2,1194.4 473.9,1197.4 470.1,1196.2" fill="#f28a28" stroke="#6a2408" stroke-width="0.7"/><polygon points="478.9,1187.2 474.5,1185.6 479.2,1183.9" fill="#ffc448" stroke="#6a2408" stroke-width="0.7"/><polygon points="479.0,1189.0 477.7,1191.4 474.7,1191.5 473.5,1190.4 474.0,1188.1" fill="#c8501a" stroke="#6a2408" stroke-width="0.7"/><polygon points="477.8,1193.3 475.1,1192.2 476.1,1189.8 480.1,1191.2" fill="#f28a28" stroke="#6a2408" stroke-width="0.7"/><polygon points="481.2,1186.5 484.4,1189.1 476.5,1190.3" fill="#c8501a" stroke="#6a2408" stroke-width="0.7"/><polygon points="479.4,1192.2 476.8,1188.6 481.2,1188.5 483.9,1192.0" fill="#ffe07a" stroke="#6a2408" stroke-width="0.7"/><polygon points="480.6,1192.6 475.4,1194.6 474.1,1191.3 475.7,1189.9 480.2,1189.7" fill="#f28a28" stroke="#6a2408" stroke-width="0.7"/><polygon points="484.5,1185.6 489.5,1187.8 490.8,1190.4 485.2,1190.8 481.7,1187.4" fill="#ffc448" stroke="#6a2408" stroke-width="0.7"/><polygon points="481.3,1190.2 482.2,1184.1 487.1,1186.8" fill="#ffe07a" stroke="#6a2408" stroke-width="0.7"/><polygon points="477.8,1192.8 481.9,1187.7 487.9,1191.0 484.3,1195.3" fill="#f28a28" stroke="#6a2408" stroke-width="0.7"/><polygon points="484.0,1187.2 486.3,1185.1 492.6,1186.7 488.0,1191.1" fill="#ffc448" stroke="#6a2408" stroke-width="0.7"/><polygon points="485.4,1189.5 490.9,1192.5 487.8,1193.3 481.9,1192.3" fill="#f28a28" stroke="#6a2408" stroke-width="0.7"/><polygon points="491.9,1192.6 487.6,1193.9 486.7,1190.4 489.5,1189.5 491.2,1190.8" fill="#ffd060" stroke="#6a2408" stroke-width="0.7"/><polygon points="487.3,1186.7 494.7,1186.6 490.7,1190.7" fill="#ffc448" stroke="#6a2408" stroke-width="0.7"/><polygon points="495.0,1191.0 492.6,1193.4 490.5,1191.6 490.6,1189.2 493.4,1188.8" fill="#ffc448" stroke="#6a2408" stroke-width="0.7"/><polygon points="491.1,1195.2 489.6,1192.6 493.7,1191.6" fill="#e06a1c" stroke="#6a2408" stroke-width="0.7"/><polygon points="501.1,1188.7 496.9,1189.3 498.7,1185.5" fill="#ffb040" stroke="#6a2408" stroke-width="0.7"/><polygon points="498.4,1190.4 498.1,1195.6 490.8,1192.2" fill="#f28a28" stroke="#6a2408" stroke-width="0.7"/><polygon points="496.6,1195.0 493.0,1192.7 495.9,1188.8 501.1,1193.0" fill="#ffd060" stroke="#6a2408" stroke-width="0.7"/><polygon points="500.8,1189.3 496.9,1188.3 501.5,1185.9 504.2,1188.3" fill="#ffe07a" stroke="#6a2408" stroke-width="0.7"/><polygon points="502.2,1188.8 502.3,1191.2 498.7,1190.0" fill="#ffc448" stroke="#6a2408" stroke-width="0.7"/><polygon points="495.4,1192.6 499.7,1191.1 505.3,1192.5 502.6,1196.1 499.3,1197.7" fill="#ffb040" stroke="#6a2408" stroke-width="0.7"/><polygon points="504.2,1189.5 500.2,1187.1 502.5,1183.8 507.9,1187.8" fill="#c8501a" stroke="#6a2408" stroke-width="0.7"/><polygon points="502.2,1187.9 500.0,1189.6 497.2,1189.0 499.3,1185.4 501.8,1185.6" fill="#f28a28" stroke="#6a2408" stroke-width="0.7"/><polygon points="503.3,1189.8 507.1,1189.7 508.6,1193.5 505.4,1195.1 500.9,1193.1" fill="#ffd060" stroke="#6a2408" stroke-width="0.7"/><polygon points="506.8,1188.6 503.8,1188.6 502.1,1186.8 506.2,1186.2" fill="#ffe07a" stroke="#6a2408" stroke-width="0.7"/><polygon points="506.3,1192.7 504.6,1189.3 507.3,1188.9 509.6,1190.7" fill="#ffe07a" stroke="#6a2408" stroke-width="0.7"/><polygon points="508.3,1191.0 503.9,1195.7 500.4,1191.5" fill="#ffd060" stroke="#6a2408" stroke-width="0.7"/><polygon points="510.9,1186.7 509.1,1189.0 505.6,1188.4 505.1,1186.4 509.2,1185.3" fill="#e06a1c" stroke="#6a2408" stroke-width="0.7"/><polygon points="511.8,1188.6 507.9,1190.3 506.4,1187.9 510.1,1186.2" fill="#f28a28" stroke="#6a2408" stroke-width="0.7"/><polygon points="511.6,1194.8 512.0,1196.8 508.6,1196.7 505.9,1195.1 509.1,1193.1" fill="#ffc448" stroke="#6a2408" stroke-width="0.7"/><polygon points="511.9,1187.8 511.4,1183.1 515.2,1181.6 516.0,1185.8" fill="#e06a1c" stroke="#6a2408" stroke-width="0.7"/><polygon points="511.3,1185.8 518.3,1185.5 516.1,1189.3 509.8,1188.5" fill="#c8501a" stroke="#6a2408" stroke-width="0.7"/><polygon points="514.3,1192.8 510.6,1194.6 506.4,1193.4 509.2,1188.5 514.5,1189.6" fill="#ffc448" stroke="#6a2408" stroke-width="0.7"/><polygon points="520.6,1183.3 516.9,1186.4 513.2,1184.5 516.4,1181.9" fill="#f28a28" stroke="#6a2408" stroke-width="0.7"/><polygon points="517.5,1192.6 517.7,1189.7 521.4,1191.8" fill="#ffb040" stroke="#6a2408" stroke-width="0.7"/><polygon points="516.5,1192.1 521.3,1191.5 520.8,1194.9 516.6,1196.6 515.6,1193.3" fill="#f28a28" stroke="#6a2408" stroke-width="0.7"/><polygon points="514.7,1187.7 518.4,1185.5 519.5,1188.1 519.0,1190.3 513.7,1189.2" fill="#ffc448" stroke="#6a2408" stroke-width="0.7"/><polygon points="514.7,1191.1 519.4,1190.0 521.3,1192.1 517.3,1194.7" fill="#ffd060" stroke="#6a2408" stroke-width="0.7"/><polygon points="515.8,1192.8 522.2,1191.6 521.4,1195.1 516.4,1194.8" fill="#ffd060" stroke="#6a2408" stroke-width="0.7"/><polygon points="521.6,1188.5 520.3,1187.0 524.6,1184.6 526.1,1186.3 525.2,1189.6" fill="#ffc448" stroke="#6a2408" stroke-width="0.7"/><polygon points="526.6,1190.4 523.0,1190.2 522.0,1188.1 526.1,1186.1 527.6,1188.3" fill="#ffb040" stroke="#6a2408" stroke-width="0.7"/><polygon points="516.6,1193.6 518.5,1190.8 522.9,1191.6 523.5,1195.0 518.9,1196.1" fill="#e06a1c" stroke="#6a2408" stroke-width="0.7"/><polygon points="528.6,1185.6 531.7,1187.7 530.4,1190.7 523.7,1188.5" fill="#ffd060" stroke="#6a2408" stroke-width="0.7"/><polygon points="523.6,1189.4 527.0,1185.4 529.3,1188.9" fill="#f28a28" stroke="#6a2408" stroke-width="0.7"/><polygon points="525.5,1194.4 522.9,1193.8 522.2,1191.2 525.4,1190.9" fill="#ffe07a" stroke="#6a2408" stroke-width="0.7"/><polygon points="529.8,1184.0 533.9,1184.2 533.4,1186.5 529.5,1187.4" fill="#ffb040" stroke="#6a2408" stroke-width="0.7"/><polygon points="528.9,1188.7 533.0,1190.8 532.4,1192.6 528.3,1193.6 527.8,1190.6" fill="#ffc448" stroke="#6a2408" stroke-width="0.7"/><polygon points="531.3,1194.8 528.6,1194.3 528.1,1192.6 531.6,1191.2 533.6,1192.4" fill="#f28a28" stroke="#6a2408" stroke-width="0.7"/><polygon points="532.7,1185.8 532.9,1189.2 530.3,1189.9 526.0,1186.9 529.8,1184.2" fill="#ffd060" stroke="#6a2408" stroke-width="0.7"/><polygon points="532.2,1189.0 535.4,1188.3 535.7,1191.4 532.7,1190.7" fill="#ffc448" stroke="#6a2408" stroke-width="0.7"/><polygon points="531.0,1195.2 533.8,1191.6 536.8,1194.2 533.5,1197.4" fill="#e06a1c" stroke="#6a2408" stroke-width="0.7"/><polygon points="536.4,1185.4 539.4,1187.0 535.9,1190.7 530.8,1187.9" fill="#ffb040" stroke="#6a2408" stroke-width="0.7"/><polygon points="536.1,1191.4 531.2,1190.9 532.7,1188.2" fill="#c8501a" stroke="#6a2408" stroke-width="0.7"/><polygon points="530.7,1189.7 536.0,1191.9 534.4,1194.5 528.5,1192.6" fill="#ffe07a" stroke="#6a2408" stroke-width="0.7"/><polygon points="539.6,1188.8 536.4,1190.5 533.6,1187.9" fill="#ffd060" stroke="#6a2408" stroke-width="0.7"/><polygon points="542.2,1189.3 540.3,1194.0 535.3,1193.4 536.6,1188.0" fill="#ffd060" stroke="#6a2408" stroke-width="0.7"/><polygon points="536.5,1191.4 541.4,1190.8 539.9,1194.8 537.1,1194.2" fill="#ffe07a" stroke="#6a2408" stroke-width="0.7"/><polygon points="537.7,1187.2 542.0,1187.7 542.3,1190.4 537.2,1189.7" fill="#f28a28" stroke="#6a2408" stroke-width="0.7"/><polygon points="543.3,1186.9 547.9,1191.4 538.9,1193.4" fill="#f28a28" stroke="#6a2408" stroke-width="0.7"/><polygon points="542.5,1192.7 542.3,1196.7 536.0,1193.9" fill="#c8501a" stroke="#6a2408" stroke-width="0.7"/><polygon points="542.0,1189.0 545.9,1184.7 549.2,1186.3 552.7,1188.7 545.7,1190.3" fill="#ffe07a" stroke="#6a2408" stroke-width="0.7"/><polygon points="539.5,1188.6 544.4,1186.4 545.0,1189.9" fill="#e06a1c" stroke="#6a2408" stroke-width="0.7"/><polygon points="540.7,1194.4 541.7,1189.7 545.4,1190.1 549.3,1193.6" fill="#f28a28" stroke="#6a2408" stroke-width="0.7"/><polygon points="543.7,1184.7 549.1,1184.0 546.5,1188.0" fill="#ffe07a" stroke="#6a2408" stroke-width="0.7"/><polygon points="550.9,1190.1 553.6,1191.8 549.2,1192.8 548.3,1190.9" fill="#e06a1c" stroke="#6a2408" stroke-width="0.7"/><polygon points="550.6,1192.0 548.9,1195.1 543.1,1192.7 546.9,1189.4" fill="#f28a28" stroke="#6a2408" stroke-width="0.7"/><polygon points="550.5,1188.0 550.7,1184.5 558.4,1188.6" fill="#f28a28" stroke="#6a2408" stroke-width="0.7"/><polygon points="549.9,1190.5 553.1,1191.1 553.4,1193.3 549.1,1193.5" fill="#ffc448" stroke="#6a2408" stroke-width="0.7"/><polygon points="553.9,1197.8 548.7,1196.0 553.6,1192.7 557.5,1195.0" fill="#c8501a" stroke="#6a2408" stroke-width="0.7"/><polygon points="558.5,1187.0 556.2,1187.3 550.2,1185.3 551.7,1183.2 559.1,1182.1" fill="#ffe07a" stroke="#6a2408" stroke-width="0.7"/><polygon points="555.7,1189.5 556.7,1192.4 552.5,1192.4 552.4,1189.9" fill="#ffe07a" stroke="#6a2408" stroke-width="0.7"/><polygon points="549.6,1192.1 553.8,1190.6 556.9,1193.3 554.8,1195.6 550.4,1194.9" fill="#ffc448" stroke="#6a2408" stroke-width="0.7"/><polygon points="553.3,1185.6 553.7,1183.8 559.9,1183.7 561.0,1187.4 555.5,1188.4" fill="#f28a28" stroke="#6a2408" stroke-width="0.7"/><polygon points="561.9,1193.6 553.3,1190.5 560.2,1188.3" fill="#f28a28" stroke="#6a2408" stroke-width="0.7"/><polygon points="559.6,1195.6 555.1,1194.5 556.2,1191.6 559.8,1192.0" fill="#ffb040" stroke="#6a2408" stroke-width="0.7"/><polygon points="563.6,1189.2 561.9,1187.2 563.2,1185.8 566.3,1185.9 567.4,1187.1" fill="#ffe07a" stroke="#6a2408" stroke-width="0.7"/><polygon points="565.3,1189.9 562.0,1189.5 561.1,1187.9 564.6,1186.5 566.4,1188.9" fill="#ffb040" stroke="#6a2408" stroke-width="0.7"/><polygon points="562.3,1198.8 559.3,1196.7 561.4,1193.1 565.9,1195.0" fill="#ffc448" stroke="#6a2408" stroke-width="0.7"/><polygon points="559.1,1183.1 564.3,1181.6 565.0,1187.1 558.6,1187.0" fill="#e06a1c" stroke="#6a2408" stroke-width="0.7"/><polygon points="566.3,1190.1 564.6,1190.8 561.6,1191.2 561.2,1188.6 563.6,1187.2" fill="#ffc448" stroke="#6a2408" stroke-width="0.7"/><polygon points="568.2,1192.4 567.1,1196.7 562.1,1192.0" fill="#ffb040" stroke="#6a2408" stroke-width="0.7"/><polygon points="572.1,1188.3 567.4,1189.4 563.8,1186.7 568.2,1184.6" fill="#c8501a" stroke="#6a2408" stroke-width="0.7"/><polygon points="572.4,1188.2 571.5,1191.0 564.6,1191.7 563.5,1187.7 569.8,1185.7" fill="#ffe07a" stroke="#6a2408" stroke-width="0.7"/><polygon points="569.9,1192.4 569.6,1195.1 565.6,1195.0 565.3,1192.9" fill="#ffb040" stroke="#6a2408" stroke-width="0.7"/><polygon points="569.3,1184.9 572.7,1187.4 566.8,1187.4" fill="#ffe07a" stroke="#6a2408" stroke-width="0.7"/><polygon points="566.1,1189.5 568.6,1188.1 571.8,1189.4 567.3,1192.1" fill="#e06a1c" stroke="#6a2408" stroke-width="0.7"/><polygon points="575.1,1191.9 574.6,1195.7 570.3,1195.7 570.8,1193.1" fill="#ffd060" stroke="#6a2408" stroke-width="0.7"/><polygon points="575.6,1187.6 573.2,1186.0 574.1,1181.1 578.0,1181.8 578.5,1186.1" fill="#ffe07a" stroke="#6a2408" stroke-width="0.7"/><polygon points="571.3,1189.0 577.2,1191.1 578.1,1194.5 570.0,1195.2" fill="#f28a28" stroke="#6a2408" stroke-width="0.7"/><polygon points="576.6,1195.1 573.9,1197.3 569.3,1195.4 572.3,1193.7" fill="#e06a1c" stroke="#6a2408" stroke-width="0.7"/><polygon points="576.4,1187.9 578.4,1185.1 582.9,1186.7 578.7,1191.1" fill="#e06a1c" stroke="#6a2408" stroke-width="0.7"/><polygon points="576.1,1191.6 578.1,1190.7 580.5,1192.0 577.4,1194.0" fill="#ffe07a" stroke="#6a2408" stroke-width="0.7"/><polygon points="583.9,1192.8 581.3,1195.3 577.4,1192.3 582.3,1191.0" fill="#c8501a" stroke="#6a2408" stroke-width="0.7"/><polygon points="580.5,1185.9 586.1,1184.7 586.5,1187.8 582.4,1188.8" fill="#ffb040" stroke="#6a2408" stroke-width="0.7"/><polygon points="582.1,1187.7 586.7,1190.4 584.6,1192.7 577.9,1192.9" fill="#ffe07a" stroke="#6a2408" stroke-width="0.7"/><polygon points="583.2,1192.6 587.5,1193.0 585.3,1196.1 583.5,1196.2 580.1,1194.1" fill="#ffe07a" stroke="#6a2408" stroke-width="0.7"/><polygon points="586.2,1188.0 585.4,1190.5 582.3,1189.5" fill="#c8501a" stroke="#6a2408" stroke-width="0.7"/><polygon points="580.1,1185.6 587.2,1187.3 581.7,1191.6" fill="#ffe07a" stroke="#6a2408" stroke-width="0.7"/><polygon points="584.0,1190.7 587.2,1190.0 587.8,1192.9 584.4,1193.0" fill="#ffc448" stroke="#6a2408" stroke-width="0.7"/><polygon points="586.7,1187.1 587.8,1190.3 582.7,1189.1" fill="#f28a28" stroke="#6a2408" stroke-width="0.7"/><polygon points="587.6,1191.6 591.9,1190.7 593.5,1193.9" fill="#ffc448" stroke="#6a2408" stroke-width="0.7"/><polygon points="587.7,1189.3 589.9,1191.2 586.3,1192.7 584.0,1190.9" fill="#ffb040" stroke="#6a2408" stroke-width="0.7"/><polygon points="588.9,1186.1 592.9,1187.9 587.1,1190.5 585.1,1187.8" fill="#f28a28" stroke="#6a2408" stroke-width="0.7"/><polygon points="587.1,1190.9 590.5,1188.8 592.2,1192.2" fill="#ffe07a" stroke="#6a2408" stroke-width="0.7"/><polygon points="587.3,1193.3 588.1,1191.3 593.1,1190.8 590.5,1193.9" fill="#ffb040" stroke="#6a2408" stroke-width="0.7"/><polygon points="590.2,1186.2 592.3,1182.6 594.2,1182.1 595.7,1185.3 594.5,1187.7" fill="#c8501a" stroke="#6a2408" stroke-width="0.7"/><polygon points="591.7,1193.1 591.0,1189.5 594.6,1191.2" fill="#c8501a" stroke="#6a2408" stroke-width="0.7"/><polygon points="600.5,1191.0 596.7,1194.4 594.0,1194.1 594.9,1190.4 597.6,1189.2" fill="#ffc448" stroke="#6a2408" stroke-width="0.7"/><polygon points="596.1,1187.2 596.1,1182.2 603.4,1182.0 603.2,1186.8" fill="#f28a28" stroke="#6a2408" stroke-width="0.7"/><polygon points="594.1,1190.5 594.2,1187.0 597.1,1187.2 598.9,1189.7" fill="#ffc448" stroke="#6a2408" stroke-width="0.7"/><polygon points="592.5,1192.7 597.0,1189.7 600.8,1190.6 600.8,1195.1 595.8,1195.5" fill="#f28a28" stroke="#6a2408" stroke-width="0.7"/><polygon points="604.3,1185.7 607.1,1186.2 605.4,1189.8 601.1,1189.4 601.2,1187.3" fill="#ffe07a" stroke="#6a2408" stroke-width="0.7"/><polygon points="601.8,1191.9 596.1,1189.3 600.4,1187.0 605.0,1188.8" fill="#c8501a" stroke="#6a2408" stroke-width="0.7"/><polygon points="595.8,1193.9 598.2,1190.3 600.4,1190.1 603.7,1194.7 600.4,1196.3" fill="#ffc448" stroke="#6a2408" stroke-width="0.7"/><polygon points="606.2,1189.1 598.9,1189.4 601.4,1185.8 604.8,1185.2" fill="#c8501a" stroke="#6a2408" stroke-width="0.7"/><polygon points="606.2,1191.9 603.3,1193.3 601.9,1191.3 605.4,1189.1" fill="#f28a28" stroke="#6a2408" stroke-width="0.7"/><polygon points="600.2,1192.9 603.6,1192.0 605.9,1194.4 600.7,1195.6" fill="#ffc448" stroke="#6a2408" stroke-width="0.7"/><polygon points="604.1,1190.3 605.4,1186.3 610.0,1187.9 609.0,1191.6" fill="#e06a1c" stroke="#6a2408" stroke-width="0.7"/><polygon points="608.6,1186.8 613.3,1184.8 616.4,1186.9 611.8,1190.6 608.1,1189.1" fill="#ffc448" stroke="#6a2408" stroke-width="0.7"/><polygon points="609.3,1194.3 608.4,1197.2 606.3,1194.1" fill="#ffe07a" stroke="#6a2408" stroke-width="0.7"/><polygon points="611.0,1188.1 608.3,1186.9 610.8,1184.6 613.7,1184.8 614.1,1187.9" fill="#ffd060" stroke="#6a2408" stroke-width="0.7"/><polygon points="609.7,1189.7 613.6,1188.9 612.6,1191.9 609.0,1190.9" fill="#ffb040" stroke="#6a2408" stroke-width="0.7"/><polygon points="611.4,1190.9 615.5,1193.0 614.7,1195.4 610.8,1193.8" fill="#ffc448" stroke="#6a2408" stroke-width="0.7"/><polygon points="619.1,1186.7 614.3,1185.9 616.2,1183.0 619.3,1184.7" fill="#ffb040" stroke="#6a2408" stroke-width="0.7"/><polygon points="613.5,1191.7 613.1,1188.0 617.3,1189.8" fill="#e06a1c" stroke="#6a2408" stroke-width="0.7"/><polygon points="615.3,1195.5 616.0,1190.0 620.3,1189.7 623.5,1193.8" fill="#ffb040" stroke="#6a2408" stroke-width="0.7"/><polygon points="623.3,1186.1 621.4,1190.3 615.3,1188.4 617.8,1186.0" fill="#ffe07a" stroke="#6a2408" stroke-width="0.7"/><polygon points="621.7,1189.8 623.3,1187.7 626.3,1190.1" fill="#ffe07a" stroke="#6a2408" stroke-width="0.7"/><polygon points="619.6,1195.9 623.4,1191.7 627.4,1195.0 627.4,1198.6" fill="#ffb040" stroke="#6a2408" stroke-width="0.7"/><polygon points="621.2,1188.4 621.5,1185.9 627.5,1185.6 627.9,1189.9 624.2,1191.0" fill="#f28a28" stroke="#6a2408" stroke-width="0.7"/><polygon points="620.0,1191.9 619.3,1187.6 624.5,1188.0 625.4,1190.5" fill="#c8501a" stroke="#6a2408" stroke-width="0.7"/><polygon points="627.2,1193.8 623.4,1191.9 625.1,1189.7 630.1,1191.6" fill="#ffe07a" stroke="#6a2408" stroke-width="0.7"/><polygon points="629.9,1184.3 630.3,1186.9 626.9,1188.0 625.4,1184.3" fill="#f28a28" stroke="#6a2408" stroke-width="0.7"/><polygon points="621.8,1192.8 624.4,1190.5 629.0,1189.1 630.6,1191.7 626.2,1194.6" fill="#f28a28" stroke="#6a2408" stroke-width="0.7"/><polygon points="622.9,1194.0 627.0,1193.3 628.0,1196.6 624.2,1196.8" fill="#c8501a" stroke="#6a2408" stroke-width="0.7"/><polygon points="630.3,1183.3 633.5,1183.2 635.5,1187.7 631.1,1187.4" fill="#ffe07a" stroke="#6a2408" stroke-width="0.7"/><polygon points="630.7,1190.1 633.8,1190.0 631.8,1192.7" fill="#f28a28" stroke="#6a2408" stroke-width="0.7"/><polygon points="629.7,1194.4 626.8,1192.9 627.6,1191.2 632.0,1190.7 633.0,1192.3" fill="#ffe07a" stroke="#6a2408" stroke-width="0.7"/><polygon points="632.8,1187.1 634.1,1184.2 637.5,1184.2 638.6,1186.6 635.8,1188.7" fill="#ffd060" stroke="#6a2408" stroke-width="0.7"/><polygon points="630.5,1190.1 635.8,1189.5 638.0,1191.9 632.1,1192.0" fill="#c8501a" stroke="#6a2408" stroke-width="0.7"/><polygon points="637.6,1193.5 632.0,1192.9 632.2,1189.6 636.5,1190.7" fill="#e06a1c" stroke="#6a2408" stroke-width="0.7"/><polygon points="636.5,1183.3 641.5,1184.9 637.0,1186.2" fill="#c8501a" stroke="#6a2408" stroke-width="0.7"/><polygon points="638.8,1191.1 641.8,1192.0 639.8,1193.9 637.1,1192.7" fill="#e06a1c" stroke="#6a2408" stroke-width="0.7"/><polygon points="639.0,1195.7 634.7,1194.1 636.7,1190.5 641.3,1192.6" fill="#ffe07a" stroke="#6a2408" stroke-width="0.7"/><polygon points="638.5,1185.5 642.7,1183.7 643.2,1186.8 639.8,1188.6" fill="#c8501a" stroke="#6a2408" stroke-width="0.7"/><polygon points="647.5,1190.5 645.6,1192.2 642.1,1190.5 642.2,1187.2 646.2,1186.9" fill="#f28a28" stroke="#6a2408" stroke-width="0.7"/><polygon points="648.3,1196.0 642.0,1197.7 638.9,1194.1 645.9,1192.0" fill="#ffb040" stroke="#6a2408" stroke-width="0.7"/><polygon points="649.0,1188.1 644.4,1187.7 646.3,1185.4" fill="#e06a1c" stroke="#6a2408" stroke-width="0.7"/><polygon points="643.6,1191.4 641.3,1188.9 644.1,1188.1 647.4,1190.1" fill="#c8501a" stroke="#6a2408" stroke-width="0.7"/><polygon points="642.6,1191.2 648.6,1189.4 648.7,1194.7 644.7,1194.8" fill="#f28a28" stroke="#6a2408" stroke-width="0.7"/><polygon points="651.5,1182.2 654.5,1182.9 653.6,1186.7 648.7,1185.9" fill="#ffb040" stroke="#6a2408" stroke-width="0.7"/><polygon points="649.1,1189.1 649.9,1184.9 656.2,1186.9 654.6,1190.3" fill="#e06a1c" stroke="#6a2408" stroke-width="0.7"/><polygon points="645.4,1195.6 649.2,1192.1 654.9,1196.3 649.0,1198.6" fill="#ffd060" stroke="#6a2408" stroke-width="0.7"/><polygon points="651.2,1185.3 656.9,1185.9 655.6,1188.9 650.2,1189.4" fill="#f28a28" stroke="#6a2408" stroke-width="0.7"/><polygon points="657.5,1193.2 654.6,1191.4 656.4,1189.0 659.8,1191.6" fill="#f28a28" stroke="#6a2408" stroke-width="0.7"/><polygon points="651.6,1192.9 654.0,1190.1 657.7,1192.7" fill="#ffc448" stroke="#6a2408" stroke-width="0.7"/><polygon points="654.1,1186.2 659.2,1186.4 655.4,1190.8" fill="#ffe07a" stroke="#6a2408" stroke-width="0.7"/><polygon points="662.2,1187.8 661.1,1191.2 655.9,1189.6 655.8,1186.0" fill="#c8501a" stroke="#6a2408" stroke-width="0.7"/><polygon points="653.0,1193.6 655.1,1190.8 660.7,1189.7 662.1,1192.6 656.6,1194.6" fill="#f28a28" stroke="#6a2408" stroke-width="0.7"/><polygon points="657.8,1185.3 659.5,1181.5 665.7,1183.5 664.1,1187.1" fill="#e06a1c" stroke="#6a2408" stroke-width="0.7"/><polygon points="666.0,1188.4 665.1,1191.7 660.1,1189.8" fill="#c8501a" stroke="#6a2408" stroke-width="0.7"/><polygon points="667.5,1190.4 663.8,1193.1 661.2,1189.5" fill="#ffd060" stroke="#6a2408" stroke-width="0.7"/><polygon points="661.8,1185.6 668.3,1184.0 666.7,1188.4" fill="#e06a1c" stroke="#6a2408" stroke-width="0.7"/><polygon points="660.6,1188.7 663.9,1185.6 665.9,1190.2" fill="#ffe07a" stroke="#6a2408" stroke-width="0.7"/><polygon points="667.5,1195.4 663.0,1198.1 658.5,1196.3 662.9,1193.4" fill="#ffe07a" stroke="#6a2408" stroke-width="0.7"/><polygon points="674.4,1185.3 673.4,1189.3 667.2,1186.4" fill="#ffc448" stroke="#6a2408" stroke-width="0.7"/><polygon points="669.8,1189.9 673.7,1192.4 668.9,1193.7" fill="#c8501a" stroke="#6a2408" stroke-width="0.7"/><polygon points="670.1,1195.0 666.2,1194.3 666.4,1188.9 670.3,1190.0" fill="#ffd060" stroke="#6a2408" stroke-width="0.7"/><polygon points="674.0,1186.7 675.4,1190.3 670.1,1188.6" fill="#c8501a" stroke="#6a2408" stroke-width="0.7"/><polygon points="672.2,1188.5 670.5,1192.0 666.5,1190.4 668.2,1186.6" fill="#ffc448" stroke="#6a2408" stroke-width="0.7"/><polygon points="674.3,1196.4 671.9,1198.0 667.6,1195.2 671.9,1193.1" fill="#ffe07a" stroke="#6a2408" stroke-width="0.7"/><polygon points="676.9,1183.0 678.8,1185.2 676.2,1188.2 671.4,1185.0 672.7,1182.2" fill="#ffc448" stroke="#6a2408" stroke-width="0.7"/><polygon points="678.5,1190.1 671.8,1190.2 674.7,1187.3" fill="#ffe07a" stroke="#6a2408" stroke-width="0.7"/><polygon points="675.5,1189.9 678.6,1191.4 675.9,1194.2 673.8,1192.0" fill="#ffc448" stroke="#6a2408" stroke-width="0.7"/><polygon points="679.6,1183.8 682.0,1185.9 680.4,1189.0 675.6,1188.2 675.2,1186.0" fill="#ffd060" stroke="#6a2408" stroke-width="0.7"/><polygon points="685.7,1191.2 684.3,1194.1 680.3,1192.8 680.1,1189.9" fill="#ffd060" stroke="#6a2408" stroke-width="0.7"/><polygon points="675.7,1194.4 681.9,1190.6 685.7,1192.1 680.7,1197.6" fill="#c8501a" stroke="#6a2408" stroke-width="0.7"/><polygon points="678.2,1184.3 683.0,1182.2 685.3,1185.0 682.0,1187.3" fill="#ffd060" stroke="#6a2408" stroke-width="0.7"/><polygon points="676.4,1190.5 682.8,1190.0 682.7,1193.2" fill="#c8501a" stroke="#6a2408" stroke-width="0.7"/><polygon points="683.6,1194.4 680.4,1196.9 680.1,1192.7" fill="#c8501a" stroke="#6a2408" stroke-width="0.7"/><polygon points="681.6,1183.6 687.2,1183.0 688.4,1186.0 682.8,1186.9" fill="#ffb040" stroke="#6a2408" stroke-width="0.7"/><polygon points="685.3,1189.4 688.6,1187.4 690.7,1187.6 692.7,1190.3 687.9,1190.7" fill="#ffd060" stroke="#6a2408" stroke-width="0.7"/><polygon points="689.3,1195.3 684.9,1197.9 680.9,1195.6 683.2,1194.2 687.6,1193.2" fill="#f28a28" stroke="#6a2408" stroke-width="0.7"/><polygon points="686.2,1187.9 683.7,1186.4 685.9,1183.0 689.6,1184.3 689.7,1187.6" fill="#c8501a" stroke="#6a2408" stroke-width="0.7"/><polygon points="694.1,1191.2 690.0,1192.7 689.2,1190.1" fill="#ffd060" stroke="#6a2408" stroke-width="0.7"/><polygon points="686.9,1188.7 691.6,1190.2 690.4,1193.2 685.5,1193.5 683.1,1189.7" fill="#e06a1c" stroke="#6a2408" stroke-width="0.7"/><polygon points="693.0,1184.1 697.7,1187.3 691.2,1188.8" fill="#f28a28" stroke="#6a2408" stroke-width="0.7"/><polygon points="692.7,1185.8 694.2,1188.2 690.4,1190.2 688.0,1187.0" fill="#ffe07a" stroke="#6a2408" stroke-width="0.7"/><polygon points="689.9,1196.4 690.9,1191.4 694.7,1191.5 695.2,1196.1" fill="#ffb040" stroke="#6a2408" stroke-width="0.7"/><polygon points="694.8,1184.6 694.8,1186.9 691.5,1187.1 688.4,1184.6 690.2,1183.9" fill="#ffe07a" stroke="#6a2408" stroke-width="0.7"/><polygon points="699.9,1192.6 697.6,1195.2 692.6,1191.6 695.7,1188.6" fill="#ffc448" stroke="#6a2408" stroke-width="0.7"/><polygon points="691.3,1194.4 696.4,1190.4 698.6,1194.9" fill="#ffd060" stroke="#6a2408" stroke-width="0.7"/><polygon points="695.3,1188.3 693.2,1186.8 695.2,1184.4 699.1,1185.9" fill="#e06a1c" stroke="#6a2408" stroke-width="0.7"/><polygon points="694.0,1188.2 699.7,1188.9 697.0,1191.8" fill="#ffc448" stroke="#6a2408" stroke-width="0.7"/><polygon points="695.2,1191.7 700.3,1191.4 700.2,1195.8 695.5,1196.4" fill="#ffd060" stroke="#6a2408" stroke-width="0.7"/><polygon points="705.2,1189.5 700.5,1188.7 700.4,1183.0 705.0,1183.5 706.9,1186.6" fill="#ffd060" stroke="#6a2408" stroke-width="0.7"/><polygon points="698.6,1191.4 700.5,1188.2 705.1,1189.8 702.4,1193.1" fill="#ffb040" stroke="#6a2408" stroke-width="0.7"/><polygon points="704.9,1190.7 704.6,1194.0 701.2,1192.7 700.9,1190.3" fill="#ffb040" stroke="#6a2408" stroke-width="0.7"/><polygon points="706.2,1187.4 704.3,1188.1 700.9,1185.1 703.8,1184.7" fill="#c8501a" stroke="#6a2408" stroke-width="0.7"/><polygon points="701.8,1191.7 702.4,1188.5 707.9,1189.3 707.8,1192.5" fill="#ffd060" stroke="#6a2408" stroke-width="0.7"/><polygon points="702.0,1197.2 697.3,1195.8 698.5,1192.6 700.4,1192.2 704.8,1195.0" fill="#ffc448" stroke="#6a2408" stroke-width="0.7"/><polygon points="710.3,1187.2 707.6,1188.1 705.4,1186.1 710.5,1185.2" fill="#c8501a" stroke="#6a2408" stroke-width="0.7"/><polygon points="705.0,1187.8 708.3,1188.1 707.9,1191.0 703.1,1189.8" fill="#e06a1c" stroke="#6a2408" stroke-width="0.7"/><polygon points="706.4,1191.8 709.4,1196.1 704.4,1197.4 701.2,1194.1" fill="#ffb040" stroke="#6a2408" stroke-width="0.7"/><polygon points="706.5,1186.5 712.0,1185.7 709.0,1188.9" fill="#ffc448" stroke="#6a2408" stroke-width="0.7"/><polygon points="706.9,1187.1 709.0,1185.1 712.5,1188.7 710.8,1190.1 707.4,1190.7" fill="#ffd060" stroke="#6a2408" stroke-width="0.7"/><polygon points="715.3,1194.6 709.7,1195.0 707.5,1193.3 711.4,1190.4 716.0,1192.6" fill="#e06a1c" stroke="#6a2408" stroke-width="0.7"/><polygon points="715.2,1187.6 713.6,1189.8 710.1,1190.7 707.0,1186.5 711.9,1185.2" fill="#f28a28" stroke="#6a2408" stroke-width="0.7"/><polygon points="717.7,1187.2 718.5,1191.0 716.8,1192.2 712.6,1190.7 714.1,1187.0" fill="#ffb040" stroke="#6a2408" stroke-width="0.7"/><polygon points="713.6,1193.5 709.5,1191.3 715.8,1188.8" fill="#c8501a" stroke="#6a2408" stroke-width="0.7"/><polygon points="720.0,1187.7 714.6,1185.7 719.1,1182.5 722.9,1184.8" fill="#ffd060" stroke="#6a2408" stroke-width="0.7"/><polygon points="713.7,1189.8 717.1,1186.3 721.4,1188.6 719.6,1191.4" fill="#ffe07a" stroke="#6a2408" stroke-width="0.7"/><polygon points="719.7,1192.9 722.7,1193.4 721.7,1196.5 718.6,1195.5" fill="#ffc448" stroke="#6a2408" stroke-width="0.7"/><polygon points="725.4,1182.9 724.9,1187.0 719.1,1188.3 718.1,1183.7" fill="#ffc448" stroke="#6a2408" stroke-width="0.7"/><polygon points="716.5,1187.6 724.7,1188.4 720.1,1191.0" fill="#ffe07a" stroke="#6a2408" stroke-width="0.7"/><polygon points="721.7,1193.0 722.8,1197.3 716.2,1195.2" fill="#ffb040" stroke="#6a2408" stroke-width="0.7"/><polygon points="726.3,1187.4 722.7,1186.0 726.7,1183.0 730.6,1184.6" fill="#ffd060" stroke="#6a2408" stroke-width="0.7"/><polygon points="727.4,1189.3 728.8,1191.9 724.3,1192.3 724.3,1188.7" fill="#e06a1c" stroke="#6a2408" stroke-width="0.7"/><polygon points="723.2,1194.8 722.8,1191.6 726.6,1192.3" fill="#c8501a" stroke="#6a2408" stroke-width="0.7"/><polygon points="726.9,1184.6 729.7,1182.1 732.9,1183.4 732.9,1186.2 728.7,1187.2" fill="#ffd060" stroke="#6a2408" stroke-width="0.7"/><polygon points="731.8,1188.3 730.0,1191.8 727.0,1191.8 722.3,1189.9 726.2,1186.4" fill="#ffb040" stroke="#6a2408" stroke-width="0.7"/><polygon points="729.7,1190.1 731.1,1194.1 727.2,1194.6 722.9,1193.3 725.3,1188.8" fill="#ffe07a" stroke="#6a2408" stroke-width="0.7"/><polygon points="731.4,1186.5 731.3,1181.6 737.0,1182.3 739.2,1186.2" fill="#ffd060" stroke="#6a2408" stroke-width="0.7"/><polygon points="731.9,1193.1 732.5,1187.8 739.1,1188.4 736.5,1192.6" fill="#f28a28" stroke="#6a2408" stroke-width="0.7"/><polygon points="733.1,1188.7 733.4,1191.1 732.8,1194.5 728.1,1193.8 728.7,1190.0" fill="#ffb040" stroke="#6a2408" stroke-width="0.7"/><polygon points="742.3,1187.6 740.7,1189.7 733.9,1188.2 734.9,1186.1 739.1,1183.7" fill="#f28a28" stroke="#6a2408" stroke-width="0.7"/><polygon points="742.5,1192.8 737.5,1195.4 733.7,1192.2 738.9,1187.8" fill="#ffe07a" stroke="#6a2408" stroke-width="0.7"/><polygon points="740.2,1191.9 737.0,1192.7 735.7,1191.0 738.2,1188.9 740.0,1190.4" fill="#ffe07a" stroke="#6a2408" stroke-width="0.7"/><polygon points="745.0,1186.9 740.4,1189.3 737.8,1183.7 743.8,1184.7" fill="#f28a28" stroke="#6a2408" stroke-width="0.7"/><polygon points="737.0,1189.5 740.6,1187.6 743.0,1189.5 739.0,1191.5" fill="#e06a1c" stroke="#6a2408" stroke-width="0.7"/><polygon points="738.5,1195.5 739.8,1193.1 743.3,1194.1 742.6,1195.9 740.9,1197.4" fill="#ffb040" stroke="#6a2408" stroke-width="0.7"/><polygon points="742.1,1183.1 744.4,1185.4 740.0,1187.6 738.3,1185.4" fill="#ffd060" stroke="#6a2408" stroke-width="0.7"/><polygon points="748.8,1185.8 745.6,1191.1 741.6,1187.9 741.4,1184.9" fill="#ffe07a" stroke="#6a2408" stroke-width="0.7"/><polygon points="749.4,1194.0 745.2,1197.3 741.3,1193.6" fill="#ffe07a" stroke="#6a2408" stroke-width="0.7"/><polygon points="741.9,1186.5 746.0,1184.3 748.7,1186.9 743.6,1189.5" fill="#ffd060" stroke="#6a2408" stroke-width="0.7"/><polygon points="752.0,1188.6 751.0,1193.5 743.5,1190.8 747.6,1186.8" fill="#ffb040" stroke="#6a2408" stroke-width="0.7"/><polygon points="751.5,1195.7 745.0,1198.6 745.6,1192.8" fill="#e06a1c" stroke="#6a2408" stroke-width="0.7"/><polygon points="745.4,1185.0 753.2,1182.8 749.9,1188.3" fill="#ffd060" stroke="#6a2408" stroke-width="0.7"/><polygon points="745.8,1192.9 747.9,1190.2 750.0,1190.3 749.4,1192.8" fill="#e06a1c" stroke="#6a2408" stroke-width="0.7"/><polygon points="748.6,1192.4 750.4,1189.6 753.6,1190.6 754.7,1191.9 750.8,1194.4" fill="#ffc448" stroke="#6a2408" stroke-width="0.7"/><polygon points="750.1,1185.9 753.7,1187.2 752.4,1189.9 749.5,1188.2" fill="#ffc448" stroke="#6a2408" stroke-width="0.7"/><polygon points="756.1,1195.1 752.5,1193.4 756.5,1190.4 758.9,1192.9" fill="#c8501a" stroke="#6a2408" stroke-width="0.7"/><polygon points="757.8,1190.8 755.6,1194.3 751.1,1191.7 755.3,1190.1" fill="#ffc448" stroke="#6a2408" stroke-width="0.7"/><polygon points="759.4,1182.7 760.0,1186.1 755.6,1186.3 755.9,1183.8" fill="#f28a28" stroke="#6a2408" stroke-width="0.7"/><polygon points="758.7,1193.2 757.2,1190.2 762.4,1190.7" fill="#e06a1c" stroke="#6a2408" stroke-width="0.7"/><polygon points="758.8,1190.3 764.0,1193.0 754.3,1194.3" fill="#ffe07a" stroke="#6a2408" stroke-width="0.7"/><polygon points="761.5,1189.5 759.8,1187.0 762.7,1187.1 764.2,1187.7 763.8,1190.2" fill="#ffd060" stroke="#6a2408" stroke-width="0.7"/><polygon points="760.3,1193.5 757.1,1193.2 757.0,1190.8 759.1,1190.8" fill="#ffb040" stroke="#6a2408" stroke-width="0.7"/><polygon points="763.0,1191.2 765.5,1194.2 760.5,1197.8 754.3,1194.8" fill="#ffc448" stroke="#6a2408" stroke-width="0.7"/><polygon points="765.1,1188.2 762.7,1185.8 763.7,1184.0 766.4,1185.4 767.3,1187.5" fill="#f28a28" stroke="#6a2408" stroke-width="0.7"/><polygon points="765.5,1191.6 761.3,1190.5 764.0,1189.0" fill="#ffc448" stroke="#6a2408" stroke-width="0.7"/><polygon points="762.6,1196.7 764.0,1192.9 769.6,1193.3 767.8,1198.1" fill="#e06a1c" stroke="#6a2408" stroke-width="0.7"/><polygon points="768.4,1185.6 767.5,1188.5 763.8,1189.0 761.8,1186.5 763.0,1184.4" fill="#c8501a" stroke="#6a2408" stroke-width="0.7"/><polygon points="768.9,1189.8 764.7,1187.7 769.7,1186.5" fill="#ffd060" stroke="#6a2408" stroke-width="0.7"/><polygon points="767.2,1194.7 762.5,1194.4 764.3,1191.6 768.3,1191.5" fill="#ffd060" stroke="#6a2408" stroke-width="0.7"/><polygon points="776.4,1186.2 770.9,1187.0 769.6,1184.1 771.7,1183.0 777.5,1183.8" fill="#ffe07a" stroke="#6a2408" stroke-width="0.7"/><polygon points="771.3,1193.5 764.2,1192.8 765.7,1190.3 769.8,1189.8" fill="#e06a1c" stroke="#6a2408" stroke-width="0.7"/><polygon points="764.9,1193.1 770.7,1190.5 771.4,1195.2" fill="#c8501a" stroke="#6a2408" stroke-width="0.7"/><polygon points="774.4,1188.5 770.4,1187.1 771.9,1184.1 775.7,1184.9" fill="#ffc448" stroke="#6a2408" stroke-width="0.7"/><polygon points="769.5,1188.8 772.1,1186.2 774.5,1188.8" fill="#ffb040" stroke="#6a2408" stroke-width="0.7"/><polygon points="770.8,1193.9 778.0,1192.1 778.1,1196.3 773.8,1197.9" fill="#f28a28" stroke="#6a2408" stroke-width="0.7"/><polygon points="774.0,1188.5 779.9,1184.8 780.0,1189.3" fill="#c8501a" stroke="#6a2408" stroke-width="0.7"/><polygon points="779.3,1193.3 779.2,1188.9 783.7,1190.6" fill="#ffc448" stroke="#6a2408" stroke-width="0.7"/><polygon points="780.2,1195.9 776.6,1192.8 779.8,1190.9 784.5,1192.9" fill="#ffe07a" stroke="#6a2408" stroke-width="0.7"/></g>
<line x1="175.6" y1="952.5" x2="807.4" y2="952.0" stroke="#000" stroke-width="3.2"/><polygon points="154.0,952.5 181.0,959.2 181.0,945.7" fill="#000"/><polygon points="829.0,952.0 802.0,958.8 802.0,945.3" fill="#000"/>
<text x="452" y="943" font-family="Liberation Sans" font-size="32" font-weight="bold" fill="#000" textLength="54" lengthAdjust="spacingAndGlyphs" >36&#8243;</text>
<line x1="838.6" y1="987.6" x2="838.0" y2="1225.4" stroke="#000" stroke-width="3.2"/><polygon points="838.6,966.0 831.8,993.0 845.3,993.0" fill="#000"/><polygon points="838.0,1247.0 831.3,1220.0 844.8,1220.0" fill="#000"/>
<g transform="translate(852,1028) rotate(90)"><text x="0" y="0" font-family="Liberation Sans" font-size="45" font-weight="bold" fill="#000" textLength="122" lengthAdjust="spacingAndGlyphs" >13.78&#8243;</text></g>
<g><rect x="1068.5" y="950" width="4.5" height="320" rx="2" fill="#0e0e0e"/><rect x="1065" y="972" width="5" height="277" fill="#161616"/><circle cx="1070.7" cy="956" r="1.2" fill="#ddd"/><circle cx="1070.7" cy="1264" r="1.2" fill="#ddd"/><rect x="1007.5" y="967.5" width="58.5" height="281" rx="1.5" fill="#1f1f1f" stroke="#0a0a0a" stroke-width="1.2"/><rect x="1010" y="1012.5" width="49" height="28" rx="3" fill="#141414" stroke="#3a3a3a" stroke-width="1.2"/><rect x="1014" y="1018" width="41" height="18" fill="#050505"/><rect x="1018" y="1028.5" width="33" height="4" rx="2" fill="#5a5a5a"/><circle cx="1014" cy="975" r="3.8" fill="#2e2e2e" stroke="#0a0a0a" stroke-width="0.8"/><circle cx="1013.7" cy="974" r="1.5" fill="#e8e8e8"/><circle cx="1037.5" cy="975" r="3.8" fill="#2e2e2e" stroke="#0a0a0a" stroke-width="0.8"/><circle cx="1037.2" cy="974" r="1.5" fill="#e8e8e8"/><circle cx="1062" cy="975" r="3.8" fill="#2e2e2e" stroke="#0a0a0a" stroke-width="0.8"/><circle cx="1061.7" cy="974" r="1.5" fill="#e8e8e8"/><circle cx="1045" cy="1072.6" r="3.8" fill="#2e2e2e" stroke="#0a0a0a" stroke-width="0.8"/><circle cx="1044.7" cy="1071.6" r="1.5" fill="#e8e8e8"/><circle cx="1061.7" cy="1084.8" r="3.8" fill="#2e2e2e" stroke="#0a0a0a" stroke-width="0.8"/><circle cx="1061.4" cy="1083.8" r="1.5" fill="#e8e8e8"/><circle cx="1024.6" cy="1104.6" r="3.8" fill="#2e2e2e" stroke="#0a0a0a" stroke-width="0.8"/><circle cx="1024.3" cy="1103.6" r="1.5" fill="#e8e8e8"/><circle cx="1024.6" cy="1134.3" r="3.8" fill="#2e2e2e" stroke="#0a0a0a" stroke-width="0.8"/><circle cx="1024.3" cy="1133.3" r="1.5" fill="#e8e8e8"/><circle cx="1023" cy="1173.8" r="3.8" fill="#2e2e2e" stroke="#0a0a0a" stroke-width="0.8"/><circle cx="1022.7" cy="1172.8" r="1.5" fill="#e8e8e8"/><circle cx="1036.2" cy="1169.2" r="3.8" fill="#2e2e2e" stroke="#0a0a0a" stroke-width="0.8"/><circle cx="1035.9" cy="1168.2" r="1.5" fill="#e8e8e8"/><circle cx="1061.7" cy="1172.5" r="3.8" fill="#2e2e2e" stroke="#0a0a0a" stroke-width="0.8"/><circle cx="1061.4" cy="1171.5" r="1.5" fill="#e8e8e8"/><circle cx="1018" cy="1225.5" r="3.8" fill="#2e2e2e" stroke="#0a0a0a" stroke-width="0.8"/><circle cx="1017.7" cy="1224.5" r="1.5" fill="#e8e8e8"/><circle cx="1043" cy="1219" r="3.8" fill="#2e2e2e" stroke="#0a0a0a" stroke-width="0.8"/><circle cx="1042.7" cy="1218" r="1.5" fill="#e8e8e8"/><circle cx="1058" cy="1213.7" r="3.8" fill="#2e2e2e" stroke="#0a0a0a" stroke-width="0.8"/><circle cx="1057.7" cy="1212.7" r="1.5" fill="#e8e8e8"/><circle cx="1054.6" cy="1244" r="3.8" fill="#2e2e2e" stroke="#0a0a0a" stroke-width="0.8"/><circle cx="1054.3" cy="1243" r="1.5" fill="#e8e8e8"/></g>
<line x1="1004.4" y1="938.0" x2="1062.6" y2="938.0" stroke="#000" stroke-width="3.2"/><polygon points="982.0,938.0 1010.0,945.2 1010.0,930.8" fill="#000"/><polygon points="1085.0,938.0 1057.0,945.2 1057.0,930.8" fill="#000"/>
<text x="1014" y="914.4" font-family="Liberation Sans" font-size="36" font-weight="bold" fill="#000" textLength="88" lengthAdjust="spacingAndGlyphs" >3.85&#8243;</text>
<line x1="978.1" y1="979.9" x2="978.6" y2="1248.4" stroke="#000" stroke-width="3.2"/><polygon points="978.0,957.5 971.1,985.5 985.1,985.5" fill="#000"/><polygon points="978.7,1270.8 971.6,1242.8 985.6,1242.8" fill="#000"/>
<g transform="translate(940,1026) rotate(90)"><text x="0" y="0" font-family="Liberation Sans" font-size="43" font-weight="bold" fill="#000" textLength="121" lengthAdjust="spacingAndGlyphs" >13.93&#8243;</text></g>
<text x="1263" y="917" font-family="Liberation Sans" font-size="53" font-weight="bold" fill="#000" textLength="253" lengthAdjust="spacingAndGlyphs" >Package 2</text>
<circle cx="1376" cy="1086" r="79.5" fill="none" stroke="#eaa935" stroke-width="4.8"/>
<path d="M1371,1052.5 L1348,1052.5 L1340,1100 L1411,1100 L1402.5,1052.5 L1380,1052.5" fill="none" stroke="#eaa935" stroke-width="5" stroke-linejoin="round" stroke-linecap="round"/>
<path d="M1371,1052.5 Q1364,1050 1363.97,1046.10 A13.2,13.2 0 1 1 1386.83,1046.10 Q1387,1050 1380,1052.5" fill="none" stroke="#eaa935" stroke-width="4.8" stroke-linecap="round"/>
<circle cx="1373.5" cy="1040" r="5.6" fill="none" stroke="#eaa935" stroke-width="3.6"/>
<g transform="translate(1327,1131.9) scale(0.95,1)"><text x="0" y="0" font-family="Liberation Sans" font-size="25" font-weight="normal" fill="#dca850" textLength="104" lengthAdjust="spacing" stroke="#dca850" stroke-width="0.5">300IBS</text></g>
<text x="1230" y="1213.8" font-family="Liberation Sans" font-size="23" font-weight="bold" fill="#000" textLength="296" lengthAdjust="spacingAndGlyphs" >MAX WEIGHT CAPACITY</text>
<text x="44" y="1459.4" font-family="Liberation Sans" font-size="41" font-weight="bold" fill="#000" textLength="960" lengthAdjust="spacingAndGlyphs" >The product comes with two separate packages</text>
<text x="44" y="1528.7" font-family="Liberation Sans" font-size="41" font-weight="bold" fill="#000" textLength="618" lengthAdjust="spacingAndGlyphs" >(Fireplace insert and TV Stand)</text>
<polygon points="1119,1418 1236,1394 1311,1413 1192,1442" fill="url(#boxTop)" /><polygon points="1119,1418 1192,1442 1195,1560 1123,1530" fill="url(#boxLeft)" /><polygon points="1192,1442 1311,1413 1308,1515 1195,1560" fill="url(#boxFront)" /><polygon points="1145,1426.5 1259,1400 1270,1403 1157,1430.5" fill="#e4c592" /><polygon points="1142,1425.5 1157,1430.5 1157,1455 1142,1450" fill="#d6ae76" /><polyline points="1119,1418 1192,1442 1311,1413" fill="none" stroke="#c49860" stroke-width="0.8"/><line x1="1192" y1="1442" x2="1195" y2="1560" stroke="#b88c55" stroke-width="1"/><polyline points="1123,1530 1195,1560 1308,1515" fill="none" stroke="#a07848" stroke-width="1.2"/>
<polygon points="1385.5,1437 1464.5,1421 1515,1433.5 1434,1454" fill="url(#boxTop)" /><polygon points="1385.5,1437 1434,1454 1436,1535 1388.5,1511" fill="url(#boxLeft)" /><polygon points="1434,1454 1515,1433.5 1513,1503 1436,1535" fill="url(#boxFront)" /><polygon points="1402,1441.5 1480,1425.5 1488,1428 1411,1444.5" fill="#e4c592" /><polygon points="1400,1441 1411,1444.5 1411,1462 1400,1458" fill="#d6ae76" /><polyline points="1385.5,1437 1434,1454 1515,1433.5" fill="none" stroke="#c49860" stroke-width="0.8"/><line x1="1434" y1="1454" x2="1436" y2="1535" stroke="#b88c55" stroke-width="1"/><polyline points="1388.5,1511 1436,1535 1513,1503" fill="none" stroke="#a07848" stroke-width="1.2"/>
<g transform="skewY(-13)" ></g>
<g fill="none" stroke="#6a4a2a" stroke-width="0.9"><rect x="1201" y="1444" width="21" height="22"/><line x1="1211.5" y1="1444" x2="1211.5" y2="1466"/><line x1="1201" y1="1455.0" x2="1222" y2="1455.0"/></g><g fill="#5a3a1e"><ellipse cx="1206.25" cy="1450.16" rx="3.15" ry="1.76"/><circle cx="1216.75" cy="1449.5" r="2.1"/><rect x="1204.78" y="1457.2" width="2.9400000000000004" height="6.6"/><path d="M1213.6,1457.2 L1219.9,1457.2 L1216.75,1461.6Z"/></g>
<g fill="none" stroke="#6a4a2a" stroke-width="0.9"><rect x="1440" y="1457" width="15" height="15"/><line x1="1447.5" y1="1457" x2="1447.5" y2="1472"/><line x1="1440" y1="1464.5" x2="1455" y2="1464.5"/></g><g fill="#5a3a1e"><ellipse cx="1443.75" cy="1461.2" rx="2.25" ry="1.2"/><circle cx="1451.25" cy="1460.75" r="1.5"/><rect x="1442.7" y="1466.0" width="2.1" height="4.5"/><path d="M1449.0,1466.0 L1453.5,1466.0 L1451.25,1469.0Z"/></g>
<rect x="1278.0" y="1516.0" width="2.5" height="9" fill="#4a3018"/><rect x="1282.0" y="1514.7" width="3" height="9" fill="#4a3018"/><rect x="1286.2" y="1513.3" width="2.2" height="9" fill="#4a3018"/><rect x="1289.9" y="1512.1" width="2.8" height="9" fill="#4a3018"/><rect x="1294.2" y="1510.7" width="2" height="9" fill="#4a3018"/><rect x="1298.7" y="1509.2" width="1.5" height="9" fill="#4a3018"/><rect x="1303.2" y="1507.7" width="1.2" height="9" fill="#4a3018"/>
<rect x="1494.0" y="1500.0" width="2.5" height="8" fill="#4a3018"/><rect x="1498.0" y="1498.7" width="3" height="8" fill="#4a3018"/><rect x="1502.2" y="1497.3" width="2.2" height="8" fill="#4a3018"/><rect x="1505.9" y="1496.1" width="2.8" height="8" fill="#4a3018"/><rect x="1510.2" y="1494.7" width="2" height="8" fill="#4a3018"/>
<g transform="translate(1213,1497.4) skewY(-13.2)"><text x="0" y="0" font-family="Liberation Sans" font-size="26" font-weight="bold" fill="#5a3a1c" textLength="81" lengthAdjust="spacing" stroke="#5a3a1c" stroke-width="0.7">BOX1</text></g>
<g transform="translate(1446,1498.4) skewY(-12)"><text x="0" y="0" font-family="Liberation Sans" font-size="17" font-weight="bold" fill="#5a3a1c" textLength="63" lengthAdjust="spacing" stroke="#5a3a1c" stroke-width="0.4">BOX2</text></g>
</svg></body></html>
